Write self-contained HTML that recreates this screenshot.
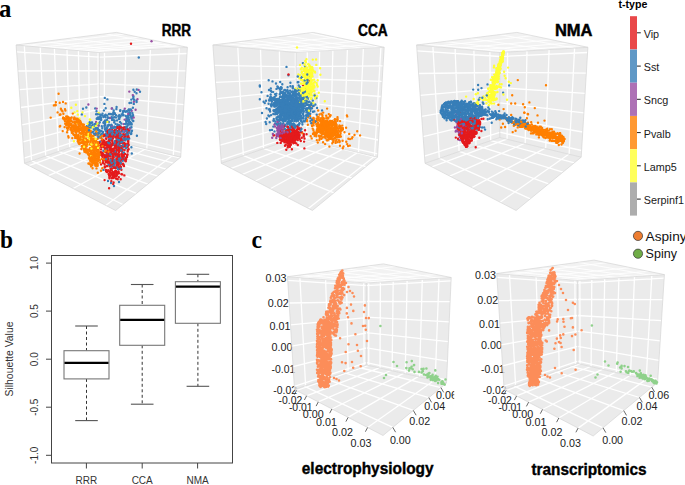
<!DOCTYPE html>
<html><head><meta charset="utf-8"><style>
html,body{margin:0;padding:0;background:#fff;width:685px;height:485px;overflow:hidden}
svg{display:block}
</style></head><body>
<svg width="685" height="485" viewBox="0 0 685 485">
<rect width="685" height="485" fill="#fff"/>
<polygon points="16.1,45 116.4,32.4 187.4,47.3 99.3,52.5" fill="#f2f2f2" stroke="none" stroke-width="0"/>
<polygon points="16.1,45 99.3,52.5 99.3,137.5 24.5,163.3" fill="#ebebeb" stroke="none" stroke-width="0"/>
<polygon points="99.3,52.5 187.4,47.3 180.7,157.2 99.3,137.5" fill="#ebebeb" stroke="none" stroke-width="0"/>
<polygon points="24.5,163.3 99.3,137.5 180.7,157.2 115.6,210.5" fill="#ebebeb" stroke="none" stroke-width="0"/>
<path d="M24.3 45.7L31.6 160.8M40.2 47.2L45.7 156M54.4 48.4L58.3 151.6M67 49.6L69.7 147.7M78.4 50.6L80.1 144.1M88.7 51.5L89.5 140.9M98.1 52.4L98.2 137.9M31.8 160.8L122.9 204.5M46 155.9L136.4 193.4M58.7 151.5L147.9 184.1M70.1 147.6L157.6 176.1M80.4 144L166 169.2M89.7 140.8L173.4 163.2M98.2 137.9L179.9 157.9M104.5 52.2L104.2 138.7M29 165.6L104 138.6M125.7 50.9L124 143.5M48.5 175.7L123.3 143.3M150.4 49.5L146.8 149M73.2 188.5L145.9 148.8M179.3 47.8L173.3 155.4M105.7 205.4L173 155.3M16.6 51.8L99.3 57.2M99.3 57.2L187 53.5M17.9 71L99.3 70.7M99.3 70.5L186 70.9M19.3 89.6L99.3 83.9M99.3 83.6L184.9 88M20.5 107.5L99.3 96.8M99.3 96.5L183.9 104.6M21.8 124.9L99.3 109.4M99.3 109.1L182.9 120.9M23 141.8L99.3 121.7M99.3 121.5L181.9 136.8M24.1 158.2L99.3 133.7M99.3 133.6L181 152.3" stroke="#ffffff" stroke-width="1.3" fill="none"/>
<path d="M24.2 45.7L124.3 34.1M40.1 47.2L139.1 37.2M54.3 48.4L151.6 39.8M66.9 49.6L162.2 42M78.4 50.6L171.4 43.9M88.7 51.5L179.4 45.6M98.1 52.4L186.5 47.1M21.2 44.4L104.4 52.2M43 41.6L125.5 51M70.3 38.2L150.1 49.5M105.7 33.7L179.2 47.8" stroke="#ffffff" stroke-width="0.9" fill="none"/>
<path d="M16.1 45L99.3 52.5M99.3 52.5L187.4 47.3M99.3 52.5L99.3 137.5M16.1 45L24.5 163.3M187.4 47.3L180.7 157.2M24.5 163.3L99.3 137.5M99.3 137.5L180.7 157.2M16.1 45L116.4 32.4M116.4 32.4L187.4 47.3M24.5 163.3L115.6 210.5M115.6 210.5L180.7 157.2" stroke="#d6d6d6" stroke-width="0.7" fill="none"/>
<polygon points="212.9,45 313.2,32.4 384.2,47.3 296.1,52.5" fill="#f2f2f2" stroke="none" stroke-width="0"/>
<polygon points="212.9,45 296.1,52.5 296.1,137.5 221.3,163.3" fill="#ebebeb" stroke="none" stroke-width="0"/>
<polygon points="296.1,52.5 384.2,47.3 377.5,157.2 296.1,137.5" fill="#ebebeb" stroke="none" stroke-width="0"/>
<polygon points="221.3,163.3 296.1,137.5 377.5,157.2 312.4,210.5" fill="#ebebeb" stroke="none" stroke-width="0"/>
<path d="M237.8 47.2L243.3 155.7M260.5 49.3L263.5 148.7M279.4 51L280.7 142.8M295.4 52.4L295.5 137.7M243.6 155.6L333.9 192.9M263.9 148.6L351.9 178.2M280.9 142.7L365.8 166.7M295.5 137.7L377 157.6M307.3 51.8L306.7 140.1M231.2 168.4L306.2 140M319.6 51.1L318.1 142.8M242.5 174.3L317.4 142.6M332.9 50.3L330.5 145.8M255.4 181L329.6 145.6M347.4 49.5L343.9 149.1M270.3 188.7L343 148.9M363.4 48.5L358.5 152.6M287.7 197.7L357.8 152.4M380.9 47.5L374.5 156.5M308.3 208.4L374.3 156.4M214.4 65.4L296.1 66.8M296.1 66.6L383.1 65.9M215.6 82.3L296.1 78.8M296.1 78.5L382.1 81.3M216.7 98.7L296.1 90.5M296.1 90.2L381.2 96.5M217.8 114.7L296.1 101.9M296.1 101.6L380.3 111.3M218.9 130.2L296.1 113.2M296.1 112.9L379.4 125.8M220 145.2L296.1 124.2M296.1 124L378.5 140M221.1 159.9L296.1 135M296.1 134.9L377.7 153.9" stroke="#ffffff" stroke-width="1.3" fill="none"/>
<path d="M237.8 47.2L336.7 37.3M260.4 49.3L356.3 41.4M279.3 51L371.5 44.6M295.4 52.4L383.7 47.2M224 43.6L307.2 51.8M236.6 42L319.4 51.1M251 40.2L332.7 50.3M267.4 38.1L347.2 49.5M286.5 35.8L363.2 48.5M308.8 33L380.8 47.5" stroke="#ffffff" stroke-width="0.9" fill="none"/>
<path d="M212.9 45L296.1 52.5M296.1 52.5L384.2 47.3M296.1 52.5L296.1 137.5M212.9 45L221.3 163.3M384.2 47.3L377.5 157.2M221.3 163.3L296.1 137.5M296.1 137.5L377.5 157.2M212.9 45L313.2 32.4M313.2 32.4L384.2 47.3M221.3 163.3L312.4 210.5M312.4 210.5L377.5 157.2" stroke="#d6d6d6" stroke-width="0.7" fill="none"/>
<polygon points="416.6,45 516.9,32.4 587.9,47.3 499.8,52.5" fill="#f2f2f2" stroke="none" stroke-width="0"/>
<polygon points="416.6,45 499.8,52.5 499.8,137.5 425,163.3" fill="#ebebeb" stroke="none" stroke-width="0"/>
<polygon points="499.8,52.5 587.9,47.3 581.2,157.2 499.8,137.5" fill="#ebebeb" stroke="none" stroke-width="0"/>
<polygon points="425,163.3 499.8,137.5 581.2,157.2 516.1,210.5" fill="#ebebeb" stroke="none" stroke-width="0"/>
<path d="M432.9 46.5L439.3 158.4M455.1 48.5L459.1 151.5M473.9 50.2L476 145.7M489.9 51.6L490.7 140.6M439.5 158.3L530.4 198.8M459.4 151.4L548.6 183.9M476.3 145.6L562.9 172.2M490.8 140.6L574.4 162.8M507.6 52L507.1 139.3M431.8 166.8L506.8 139.2M527 50.9L525.2 143.7M449.7 176.1L524.4 143.5M549.1 49.6L545.7 148.6M471.9 187.6L544.8 148.4M574.6 48.1L569.1 154.3M500.1 202.2L568.7 154.2M417 50.8L499.8 56.5M499.8 56.5L587.6 52.5M418.6 73.5L499.8 72.5M499.8 72.3L586.3 73.2M420.2 95.4L499.8 88.1M499.8 87.7L585.1 93.4M421.7 116.4L499.8 103.2M499.8 102.9L583.9 112.9M423.1 136.7L499.8 117.9M499.8 117.7L582.7 132M424.5 156.2L499.8 132.3M499.8 132.2L581.6 150.5" stroke="#ffffff" stroke-width="1.3" fill="none"/>
<path d="M432.9 46.5L532.5 35.7M455.1 48.5L552.3 39.8M473.8 50.2L567.9 43.1M489.9 51.6L580.5 45.7M424.3 44L507.5 52M444.2 41.5L526.8 50.9M468.8 38.4L548.9 49.6M499.6 34.6L574.5 48.1" stroke="#ffffff" stroke-width="0.9" fill="none"/>
<path d="M416.6 45L499.8 52.5M499.8 52.5L587.9 47.3M499.8 52.5L499.8 137.5M416.6 45L425 163.3M587.9 47.3L581.2 157.2M425 163.3L499.8 137.5M499.8 137.5L581.2 157.2M416.6 45L516.9 32.4M516.9 32.4L587.9 47.3M425 163.3L516.1 210.5M516.1 210.5L581.2 157.2" stroke="#d6d6d6" stroke-width="0.7" fill="none"/>
<path d="M67.1 122.5h0M92.8 154.3h0M71.8 128.1h0M72.3 130.4h0M97 158.6h0M90.3 136.7h0M78.7 138.5h0M64.6 127.1h0M71.4 128.2h0M79.1 121.8h0M92.8 162.7h0M96.5 147.7h0M88.3 153.3h0M84.9 146.9h0M73.5 126.8h0M66.4 124.3h0M93.8 150.9h0M82.3 140.2h0M58.6 93.7h0M96 145.1h0M79.8 139.7h0M91.4 157.7h0M75.6 127.9h0M84.3 149.1h0M91.1 144.5h0M82.9 131.6h0M85.3 145.8h0M92.1 161.1h0M87.8 141.5h0M84.1 135.5h0M90.2 130.5h0M73.8 119.3h0M70.9 128h0M84.1 127.7h0M87.9 134.8h0M77.5 131.4h0M83.5 140.7h0M75.9 129h0M100.2 152.1h0M67.5 120.8h0M85.3 147.9h0M67 122.9h0M77.8 137.3h0M83.6 129.5h0M90.1 148h0M82.4 130.8h0M96.2 149.9h0M95.8 144.6h0M87 142.5h0M101 170.8h0M68.7 117.5h0M96 163.1h0M91.1 160.7h0M84.4 151.8h0M93.7 148.2h0M75.2 137.9h0M87.1 134.3h0M95.3 163h0M65 121.3h0M90.5 153.9h0" stroke="#ff7f00" stroke-width="2.4" stroke-linecap="round"/>
<path d="M116.1 146.5h0M117.8 161.2h0M122.8 155h0M112.4 161.9h0M117.2 156.3h0M104 159.5h0M121.4 131.4h0M119.5 157h0M116.1 130.7h0M128.7 144.9h0M112 129.7h0M119.4 156.1h0M103.8 154.8h0M110.5 168.8h0M112.4 175.1h0M116.2 136.1h0M113.1 178.1h0M114.8 151.8h0M118 146.2h0M123.8 143h0M123.4 156.6h0M108.8 132.8h0M109.3 143.8h0M118.3 165.3h0M112.4 159.6h0M115 133h0M106.3 148.8h0M107.1 165.9h0M106.3 148.7h0M112.3 156.6h0M118.9 144.5h0M121.9 149.5h0M127.3 135.6h0M122.3 153.4h0M119.3 168.9h0M101.1 155h0M118.9 154.1h0M121.3 174.1h0M126.8 133.5h0M110.3 146.2h0M119.6 137.6h0M107.9 130.4h0M107.2 153.1h0M104.8 148.2h0M112.2 130.6h0M111.7 149.9h0M111.1 131.8h0M103.7 136.2h0M127.5 137.9h0M128 129.7h0" stroke="#e41a1c" stroke-width="2.4" stroke-linecap="round"/>
<path d="M116 145.8h0M101 117.6h0M119.2 132.5h0M107.1 148.9h0M111.5 125.8h0M123.5 164.4h0M102.5 113.6h0M136.8 89.5h0M108.7 124.8h0M105.1 120.5h0M97.4 135.4h0M97.9 133.3h0M128.5 109.9h0M117 155.7h0M107.4 126.1h0M112 139.9h0M113.8 152.1h0M113.1 131.7h0M123.3 154.7h0M119.1 134.4h0M113.8 154.3h0M116.7 140.6h0M118.2 160h0M125.6 134.9h0M101.8 126.2h0M112.1 118.7h0M126.5 118.8h0M104.8 97.9h0M127.3 119.7h0M113.7 154.5h0M114.1 151.8h0M100.6 117h0M112.7 114.4h0M112.6 138.2h0M109.7 134h0M100.9 115.1h0M104.4 125.6h0M99.8 132h0M108 181h0M125.5 129.4h0M127 147.6h0M98.9 125.6h0M109.7 124.9h0M101.4 134.3h0M116.1 117.4h0M128.1 129.9h0M136.4 100.4h0" stroke="#377eb8" stroke-width="2.4" stroke-linecap="round"/>
<path d="M114.6 143.5h0M107.5 150.8h0M116.6 178.6h0M104.5 159.2h0M127.1 130.8h0M116.9 139.8h0M116.3 167.9h0M116 140.7h0M113.6 157.3h0M113.1 149.7h0M111.5 160.8h0M115.8 129.8h0M120.9 146.3h0M111.3 144.7h0M119.4 150.8h0M109.1 188.3h0M126.9 129.5h0M127.5 154.5h0M109.1 151.1h0M126.8 135h0M116.4 159h0M116.6 174.4h0M119.4 168.8h0M122.2 174.4h0M104.3 145.3h0M115.4 171h0M106 152.2h0M111.5 144.4h0M107.8 156.4h0M120 135.7h0M108.2 147h0M118.5 146.9h0M120.8 149.3h0M123 155.4h0M110.2 142.9h0M121.9 151.5h0M116.5 160.1h0M119.4 155.2h0M105 148.7h0M120.2 161.1h0M109.8 132.2h0M119.3 136.8h0M118.4 140.4h0M115.9 151.8h0M120.7 162.4h0M126.9 131.2h0M123.5 134.6h0M124.4 175.4h0M124.3 135.5h0M102.1 152.7h0M108.7 146.4h0" stroke="#e41a1c" stroke-width="2.4" stroke-linecap="round"/>
<path d="M90.3 135.9h0M93.5 136.9h0M102.4 144.7h0M92.4 137.7h0M80.9 134.4h0" stroke="#ffff33" stroke-width="2.4" stroke-linecap="round"/>
<path d="M88.4 104.5h0M133.9 101.7h0M98.3 125.5h0" stroke="#984ea3" stroke-width="2.4" stroke-linecap="round"/>
<path d="M117.9 134h0M119.9 148.1h0M91.3 122.8h0M116.4 109h0M100.1 116.6h0M129.2 119.7h0M116.3 133.5h0M111.2 162.9h0M109 114h0M121.4 137.1h0M99.8 116.7h0M106.3 121.6h0M113 134.3h0M95.2 108.4h0M96.9 133.8h0M119.1 136.7h0M129.7 114.5h0M118.8 131h0M121.3 123.5h0M126.2 157.5h0M126.9 118h0M118.9 118.5h0M127.2 124.1h0M105.6 117.2h0M133.3 121h0M89.4 131.4h0M111.6 117.1h0M130.6 127.7h0M112.6 158.1h0M98.8 155.7h0M125.4 111.8h0M131.3 133.8h0M94.8 134.6h0M114.2 122.4h0M131.5 127.3h0M101.3 137.9h0M111.5 134.7h0M127.8 144.2h0M128.2 138.1h0M123.2 111.2h0M129.1 112.9h0M131.3 132.9h0M119.2 128.4h0M126.9 111.3h0M121.4 138.6h0M126.2 126.8h0" stroke="#377eb8" stroke-width="2.4" stroke-linecap="round"/>
<path d="M119.8 160.4h0M115.2 150.4h0M117.1 145.9h0M119.5 137.1h0M106.4 160.9h0M103 140h0M109.5 142.5h0M125.7 143.8h0M122.3 142.3h0M118.1 164h0M113.1 155.5h0M121.7 140.7h0M105.4 166.8h0M107 154.5h0M119.2 129.4h0M104.6 164.2h0M119.9 142.2h0M110.1 148h0M107 170.9h0M110.6 163.1h0M116.7 159.4h0M119.2 142.4h0M111.3 151.1h0M126.2 159.1h0M127.7 151.6h0M123.8 156.2h0M114.6 173.2h0M121.7 139.3h0M128 136.1h0M108.4 153.7h0M109.8 154.6h0M116.3 152.8h0M128.3 140.8h0M120.8 139.2h0M109.5 178.2h0M107.5 143.8h0M107.3 135.9h0M104.9 143.6h0M114.7 172.8h0M119.1 167.8h0M108.2 170.5h0M120.5 128.2h0M116.4 162.1h0M104.9 145.4h0M117.1 135.1h0M110.1 172.7h0M104.7 167.6h0M128.3 143h0M125.6 160.7h0M103.2 160.2h0" stroke="#e41a1c" stroke-width="2.4" stroke-linecap="round"/>
<path d="M83.3 140.8h0M86.6 140.9h0M70.2 118.6h0M95.1 148.5h0M80.2 121.2h0M78.5 137.5h0M92.9 136.1h0M99.2 137.5h0M97.9 161.6h0M90.5 157.5h0M75.4 130.4h0M99.2 155h0M97.7 158.7h0M97.1 165h0M95.2 164.7h0M91.7 160.3h0M55.4 104.8h0M89.7 149.4h0M96.3 143.7h0M78.6 142.9h0M86 145.4h0M91.2 149.3h0M85.9 152.1h0M92.5 160.1h0M80.8 139.7h0M79.7 125.7h0M95.8 153.9h0M93.4 139.3h0M90.1 144.5h0M73.3 125.8h0M78.7 136.1h0M91.3 165.4h0M63 101.9h0M66.5 119.4h0M83.5 134.5h0M85.6 135.2h0M91.3 152.1h0M98.2 149.5h0M95.9 141h0M96.8 164.6h0M94 148h0M89.4 155.9h0M90.7 137.3h0M82.7 140.2h0M84.5 135.1h0M75.2 135.7h0M81 140.3h0M87.7 141.6h0M96.9 156.6h0M98.8 154.8h0M92.3 147.2h0M91 134.5h0M87.9 128.5h0M92.9 157.2h0M90.6 158.4h0M94 141h0M77.4 130.2h0M89.3 155.7h0M77.9 129.7h0" stroke="#ff7f00" stroke-width="2.4" stroke-linecap="round"/>
<path d="M123.6 124.1h0M135.6 109.7h0M110 118h0" stroke="#984ea3" stroke-width="2.4" stroke-linecap="round"/>
<path d="M123.9 152.4h0M98.4 136.7h0M114.7 120.8h0M103.8 123h0M116.3 153h0M132.9 107.8h0M129.1 110.6h0M136.9 135.7h0M105.1 125h0M117.5 125.1h0M102.3 128.3h0M92.2 122.5h0M136.5 93.2h0M129.6 122.3h0M107.4 135.2h0M120.2 133.9h0M119.2 125.2h0M136.6 102h0M93.9 133.6h0M126.4 122.9h0M127.7 116h0M103.6 142.3h0M119.2 144.5h0M111.1 127.8h0M120.4 149.4h0M120.2 111h0M128.8 124.6h0M128.1 117.3h0M110.5 144.4h0M117.5 124.5h0M88.3 127.3h0M88.2 127.3h0M118.1 169.3h0M134.1 99.7h0M98.9 130.3h0M117.3 140.6h0M91.9 126.1h0M106.3 128h0M93.1 131.6h0M115.2 127.2h0M119.2 115.3h0M120.8 126.5h0M124.3 110.4h0M99.6 119h0M129.9 128.1h0M123.3 152.6h0" stroke="#377eb8" stroke-width="2.4" stroke-linecap="round"/>
<path d="M88.9 130.4h0M106.6 121.2h0M127.7 132.5h0M117.9 125.4h0M109.8 134.7h0M127.2 132.9h0M91.9 132.3h0M119.2 134.6h0M106.6 159.1h0M129.2 138.4h0M133.8 103.9h0M103.9 110.4h0M120 122h0M119 182h0M131.4 147.3h0M133.1 115.1h0M113.1 114.6h0M83 108.8h0M106.3 155h0M114.7 117.3h0M107.4 99.4h0M118.5 131h0M112.1 119.9h0M106.2 130.3h0M121.6 114.5h0M109.6 134.8h0M110.7 126.1h0M94.7 126.3h0M107.5 121.6h0M98.7 123.5h0M113.3 117.4h0M90.2 132.6h0M122.8 112.7h0M110.3 140.5h0M99.6 130.5h0M133.2 98.6h0M101.5 131h0M111.1 154.5h0M130.9 134h0M113.4 114.2h0M120.8 158.2h0M120.6 163.6h0M121.6 148.9h0M105 129.2h0M96.7 118.8h0M124.9 127.3h0M118.7 133.2h0" stroke="#377eb8" stroke-width="2.4" stroke-linecap="round"/>
<path d="M71.9 132.7h0M83.7 132.1h0M68.2 124.8h0M65.4 110.5h0M95 152.3h0M93.3 159.8h0M63 118.3h0M60.5 114.5h0M75.8 123.8h0M92.5 155.2h0M96.1 153.7h0M88.1 141h0M98 156.7h0M92.8 148.2h0M90.3 142.9h0M100.8 145.7h0M93 161h0M69.8 123.4h0M93.1 142.9h0M94.3 155h0M68.6 126.7h0M94.5 139.6h0M74.5 129h0M91.5 165.1h0M84.6 139.2h0M79.4 144h0M84.7 130.6h0M75.8 118.9h0M74.4 121.7h0M75.5 124.6h0M96.5 162.5h0M74.4 126h0M77.5 118.8h0M74.4 117.5h0M83.9 142.2h0M98.8 148h0M106.6 159.7h0M82.8 132.9h0M102.3 168.3h0M93.2 139.4h0M86.6 150h0M91.1 166.4h0M96.9 164.3h0M85.9 151h0M72 132.7h0M93.3 145.6h0M65.2 123.8h0M68.6 137.5h0M81.9 130.1h0M62.7 131.1h0M97.8 172.7h0M61.6 110.2h0M89.9 137.4h0M82.2 129.3h0M73.4 131.4h0M80.8 124.5h0M78.9 130.8h0M89.6 132.4h0M94.1 159.5h0M64.5 118.1h0" stroke="#ff7f00" stroke-width="2.4" stroke-linecap="round"/>
<path d="M93.1 156.8h0M95.5 154.3h0M97 143.5h0M101.1 143.7h0M88.1 134.4h0M92 160.6h0M88.5 140.7h0M96.9 151.2h0M104.5 151.7h0M83.4 138.2h0M95.4 145.8h0M95.9 146.1h0M96.4 144.3h0M93.4 160.8h0M103.5 140.7h0M96.3 165h0M97.2 164.3h0M76.2 133.1h0M96.5 165.6h0M82.8 124.7h0M97 155h0M95.4 158.3h0M94 138.7h0M94.7 156h0M78.6 131h0M71.7 125.6h0M98.3 155.8h0M72.3 138.1h0M91.8 156.1h0M99.8 153.4h0M98.7 150.5h0M93.3 159.9h0M89.3 140.5h0M80.7 142.9h0M93.8 154h0M93.4 140.8h0M68.3 136.1h0M92.1 136.2h0M75.9 132.1h0M94 163.3h0M97.8 147.1h0M82.2 142.2h0M96 148.1h0M92.3 162.8h0M94.7 152.9h0M84.3 144.2h0M95.4 145h0M92 158.3h0M86.8 143.2h0M94.4 158.5h0M89.5 151h0M94.5 162.4h0M68.5 128.3h0M98.2 134.6h0M77.4 138.4h0M77.4 121.2h0M95.3 134.9h0M94.4 158.8h0M90.8 131.3h0" stroke="#ff7f00" stroke-width="2.4" stroke-linecap="round"/>
<path d="M85 130.7h0M96.3 124.8h0M85 129.5h0M89.9 125.9h0M89.8 119.4h0" stroke="#ffff33" stroke-width="2.4" stroke-linecap="round"/>
<path d="M119.9 126.6h0M111.9 126h0M125.1 137.8h0" stroke="#984ea3" stroke-width="2.4" stroke-linecap="round"/>
<path d="M105.5 158h0M122.3 130.3h0M119.7 127.9h0M120.1 131.6h0M122.4 164.2h0M104.7 155.6h0M113.8 131.9h0M101.6 140.5h0M123.2 155.1h0M109.1 156.3h0M95.7 133.5h0M127.1 155.2h0M107 159h0M121.4 169.7h0M110.7 151.6h0M119.8 163h0M111.1 165.8h0M114.1 164.6h0M109 141.3h0M124.4 140.1h0M114.1 172.7h0M122.8 149.7h0M121.6 159.9h0M107.4 158.3h0M115 162.9h0M120.5 136.5h0M118.8 177.2h0M107.7 150.6h0M113 137.1h0M112.3 172.8h0M123.7 143.6h0M120.1 132.8h0M125 145.1h0M116.8 166.3h0M125 154h0M121.8 142.4h0M128.3 135.6h0M98.2 148.6h0M115.5 156.4h0M123.7 156.3h0M103 162.3h0M106.8 144.7h0M120.6 163.2h0M117.2 130.9h0M115.8 170.6h0M114.3 160.5h0M107.4 133.3h0M122.6 155.2h0M103.4 146.9h0M117.6 154.1h0M108 162.8h0" stroke="#e41a1c" stroke-width="2.4" stroke-linecap="round"/>
<path d="M131.7 110.7h0M127 119.7h0M137.5 99.2h0" stroke="#984ea3" stroke-width="2.4" stroke-linecap="round"/>
<path d="M87.4 145.2h0M71.6 127.1h0M76.5 120.3h0M93.9 152.4h0M78.3 126.3h0M69.1 126.8h0M97.6 138.8h0M99.5 153.9h0M92.3 146.9h0M87.3 130.3h0M79.9 120.7h0M96.5 168.4h0M96.8 165.5h0M96.6 154.3h0M92 155.3h0M88 140.2h0M77.6 123.4h0M78.5 124.1h0M91 138.4h0M74 118.5h0M72.3 126.4h0M84.5 142.8h0M82.2 142.8h0M94.3 147.9h0M80.3 121.9h0M95.3 142h0M78 127.5h0M84.9 129.3h0M81.9 145.9h0M69 118.9h0M92.9 141.4h0M95.9 159.5h0M86.9 149.5h0M94.5 155h0M75.9 123.3h0M85.3 138.6h0M95.8 160.6h0M80.4 126.6h0M83.5 125.4h0M95 160.7h0M77.7 141.1h0M74.6 126.5h0M96.6 146.2h0M71.4 124h0M65.7 103.4h0M86.3 152.5h0M79.8 132.6h0M98.3 145.3h0M84.9 129.4h0M109.5 136h0M89.3 134.9h0M78.7 127h0M90.1 159.2h0M68.2 127.5h0M89.6 138h0M72.6 122.1h0M91.1 135.2h0M89 131.7h0M78.2 140.3h0M92.7 159h0" stroke="#ff7f00" stroke-width="2.4" stroke-linecap="round"/>
<path d="M105.7 130.8h0M124.1 135.4h0M92.5 124.6h0M112.5 118.9h0M99.5 113.9h0M100 141.8h0M123.5 115h0M98 117.5h0M108.7 164.7h0M117 135.1h0M103.5 169.9h0M126 129.9h0M116.2 142.4h0M109.4 154.8h0M89 123.6h0M101.1 120h0M120.2 136.1h0M97.9 128.1h0M140 91.7h0M116.1 156.1h0M108.4 153.1h0M125.8 148.2h0M120.6 116.1h0M114.9 113.9h0M127.1 130.1h0M95.2 130.4h0M125.1 124h0M112.5 131.4h0M128.5 120.2h0M96.2 130.9h0M119.8 145.8h0M98.3 133.5h0M111.9 117.7h0M124.3 132.4h0M89.7 124.9h0M93.8 129.3h0M96.5 111.3h0M113.7 110.5h0M128.9 122.9h0M129 131.6h0M117.4 148.5h0M89.7 122.2h0M117 149.8h0M121.7 128.7h0M109.9 161.5h0M95 134.7h0M133.3 95.9h0" stroke="#377eb8" stroke-width="2.4" stroke-linecap="round"/>
<path d="M85.9 142.9h0M74.5 112.4h0M77 122.6h0M105.7 134.6h0M90.3 120h0" stroke="#ffff33" stroke-width="2.4" stroke-linecap="round"/>
<path d="M108.3 146.1h0M127.8 144.1h0M128.2 136.7h0M122 160.4h0M105.7 142.4h0M109.8 155h0M116.9 131.8h0M123.9 127.4h0M115.8 152.3h0M114.4 153.2h0M120.2 139.5h0M101.2 146.7h0M118.2 138.7h0M109.2 155.4h0M118.9 173.2h0M119 150h0M118.5 147.1h0M116.2 162.9h0M116.7 149.9h0M119.6 138.3h0M114.1 167.9h0M111.7 178.3h0M106.1 143h0M117.8 167h0M115.4 175.6h0M108.9 161.1h0M124.6 145.5h0M123 163.7h0M108.6 130.7h0M116.2 143.5h0M123 159.1h0M115.4 136.7h0M102.4 144.7h0M118.6 171.5h0M116.1 178.6h0M106.5 147.5h0M115 172h0M118.5 160.2h0M113.9 173h0M119.4 161.9h0M113.2 184.1h0M107 172h0M106.4 138.7h0M103.1 140.2h0M109.5 171.5h0M117.2 128.1h0M118.8 163.6h0M124.9 139.3h0M107.2 166h0M123.4 129.4h0M128.1 141.3h0" stroke="#e41a1c" stroke-width="2.4" stroke-linecap="round"/>
<path d="M79.5 118.4h0M90.3 128.5h0M88.6 137.2h0M99.6 133.8h0M91 136.9h0" stroke="#ffff33" stroke-width="2.4" stroke-linecap="round"/>
<path d="M108.3 125.3h0M113.8 120.2h0M110 129.3h0M102.7 115.5h0M116.6 137.6h0M133.4 96.9h0M110.1 150.7h0M119.3 118.4h0M106 131.2h0M125.6 115.9h0M129.9 128.4h0M98.1 119h0M119.1 151.5h0M111.9 131h0M132.5 116.7h0M114.2 112.6h0M113.7 144.9h0M120.2 150.1h0M128.4 137.9h0M105.3 129.1h0M108 157.3h0M115.4 129.6h0M116.9 126.7h0M104.4 103.9h0M89.9 123.3h0M133.4 89.8h0M112.1 108.4h0M110.7 161.2h0M102.8 133h0M104.1 121.6h0M97.1 118.5h0M132 130.8h0M96.1 128.1h0M108.2 157.9h0M128.7 117.7h0M107.8 126.4h0M126.9 121.1h0M126.8 139.2h0M100 116.6h0M131.2 102.8h0M97.5 129.7h0M122.6 131.5h0M107.3 158.1h0M98.4 133.2h0M122.8 115.3h0M96.1 123.4h0" stroke="#377eb8" stroke-width="2.4" stroke-linecap="round"/>
<path d="M77.5 137.7h0M88.9 158.2h0M81.1 133.7h0M96.2 150.1h0M85.6 129.8h0M84.8 147.8h0M81.6 128.9h0M83.8 141.1h0M88.7 130.7h0M76.1 135.1h0M72.9 125.7h0M75.4 136.5h0M97.3 144.8h0M68.9 118.1h0M63.2 117.5h0M96.1 162.4h0M66.5 125h0M101.2 154.8h0M86.7 151.8h0M85.2 148.2h0M85.8 135.4h0M74.2 122.6h0M96.3 133.3h0M97.4 146.7h0M103.1 143.4h0M68.9 124.5h0M66.7 118.3h0M95.6 129.2h0M85.5 147h0M80.8 142.7h0M79.5 122.4h0M89.4 139.9h0M93.8 151.4h0M79.8 129.2h0M85.3 127.8h0M89.4 130.7h0M92.7 152.9h0M76.2 137.9h0M71.5 120.9h0M76.6 126.7h0M91.1 149.6h0M64.4 119.5h0M70.4 118.1h0M68.6 121.7h0M90.4 139.5h0M76 127.4h0M88.2 141.1h0M90 159.8h0M85.9 142.6h0M83.8 140.7h0M68.6 118.4h0M55.9 102.3h0M70.2 120.9h0M71.5 130.8h0M94.6 147.6h0M100.2 162.5h0M79.9 123.3h0M97.7 165.8h0M108.5 160.8h0" stroke="#ff7f00" stroke-width="2.4" stroke-linecap="round"/>
<path d="M133.7 117.5h0M120.2 132.2h0M105.5 136h0" stroke="#984ea3" stroke-width="2.4" stroke-linecap="round"/>
<path d="M73.7 134.8h0M70.6 119.1h0M69 125h0M88.1 136.3h0M95.5 165.7h0M91.4 159.6h0M76.1 137.7h0M75.5 131.7h0M77.4 138.3h0M78.5 135h0M87.8 152h0M86.5 127.4h0M74.1 129.3h0M62.5 111.3h0M92.4 163.7h0M97.1 153.5h0M75.8 121.8h0M77.3 121.9h0M88.4 128.6h0M87.7 132.2h0M96.5 144.4h0M82.5 125.5h0M98.2 158.5h0M55.7 105.2h0M67.6 116.8h0M87.7 142.4h0M93.4 152.8h0M94.5 146.8h0M81.9 146.5h0M106.6 158.3h0M99.8 145.4h0M103 140.4h0M80.6 137.5h0M97 153.8h0M88.5 149.7h0M75.3 130.7h0M70 121.4h0M60.2 125.9h0M91.6 138.6h0M63.2 118.2h0M97.7 142.1h0M97 144h0M88.9 132.8h0M74.8 123h0M85.7 134h0M65 109.1h0M84.4 144.3h0M70 119.8h0M78.2 137.9h0M83.7 148.1h0M97.6 151.7h0M91.2 151.8h0M81.4 149h0M82.8 129.1h0M82.8 146.1h0M66.2 116.5h0M102.2 139.3h0M92.9 148.8h0M91.4 151.7h0M59.8 126.5h0" stroke="#ff7f00" stroke-width="2.4" stroke-linecap="round"/>
<path d="M124.6 119.6h0M124.8 108.6h0M131.8 118h0" stroke="#984ea3" stroke-width="2.4" stroke-linecap="round"/>
<path d="M117.7 161.3h0M111.5 165.7h0M130.6 124.4h0M111.5 153.9h0M105.7 108.3h0M132.7 115.7h0M107.1 120.8h0M120.6 150.3h0M118.8 135.6h0M131.4 131h0M128.5 120.8h0M98.9 133.6h0M94.6 124.5h0M125.9 127.4h0M115.4 146.2h0M108.5 134.6h0M112.3 161.6h0M116.2 131.2h0M129.3 110.6h0M91.9 127.3h0M108.6 134.8h0M104.6 126.8h0M123.4 147.2h0M126.5 128.1h0M108.4 117.8h0M114.9 141.1h0M115.3 151.4h0M113.5 159.2h0M123.7 157.9h0M109.2 131.9h0M128.9 109.5h0M114.3 126.6h0M127.4 126.3h0M124.2 110.9h0M127.9 132.5h0M114 186h0M104.4 116.2h0M134.7 91.8h0M128.5 124.3h0M105.4 135.7h0M118.9 142h0M111.6 128.3h0M105.1 124.4h0M113.3 137.3h0M103.4 150.8h0M116.7 167.4h0M106.1 122.1h0" stroke="#377eb8" stroke-width="2.4" stroke-linecap="round"/>
<path d="M108.4 159.2h0M120.9 140.1h0M109.6 130.5h0M111.3 181.1h0M125.2 130.1h0M108.4 143.9h0M115.2 154.8h0M110.1 155.9h0M125.4 160.6h0M128.6 137.4h0M107.2 145h0M121.2 141.6h0M110.2 148.1h0M106 170h0M109.3 150.6h0M111.9 145.3h0M112.9 138.5h0M114.6 134.5h0M113.7 135.7h0M108.8 145.3h0M112.6 153.9h0M116.8 134.4h0M113.6 182.5h0M119.8 160.8h0M118.2 173.3h0M122.4 157.6h0M118.8 148.2h0M112.9 172h0M102.8 153.4h0M118.2 163.5h0M116.5 175.9h0M105.7 162.1h0M119 152.1h0M106.3 155.5h0M111.7 136.3h0M116.8 138.7h0M118.8 135.9h0M116.4 154.6h0M120.6 134.2h0M124 138.2h0M118.1 133.6h0M112.2 160.7h0M108.3 136.9h0M121.7 140.3h0M101.5 147.3h0M121.6 154.1h0M108.6 173.9h0M111.8 170.4h0M111.2 146.6h0M110.6 170.3h0" stroke="#e41a1c" stroke-width="2.4" stroke-linecap="round"/>
<path d="M108.8 162.1h0M108.7 153.6h0M112.3 141h0M114.8 130.1h0M108.9 152.6h0M112.7 151.5h0M114.2 176.2h0M120.5 167.2h0M123.6 165.3h0M110.2 132.3h0M110.2 154.5h0M122.7 156.5h0M118.8 158.8h0M125.7 161.3h0M114.6 174.4h0M119.5 150.6h0M109.8 149.1h0M103.5 140.7h0M109.2 175.6h0M104.3 142.1h0M116.2 143.7h0M109.6 175.1h0M128.7 149.2h0M111.3 135h0M121.7 156.1h0M109.5 148.9h0M111.3 144.7h0M107.4 171.8h0M112.9 176.9h0M100.9 145.1h0M109.1 130.9h0M118.4 162h0M110.7 158.5h0M118.3 155.8h0M110.7 172.4h0M113.5 150.9h0M116.5 165.1h0M114 148.8h0M99.4 142.7h0M116 136.1h0M125.6 129.6h0M113.6 161.4h0M111.4 149.1h0M104.4 140.9h0M117.5 127.3h0M118.4 150.5h0M117.1 134.4h0M110.9 139.4h0M124.9 136.6h0M101.1 164.4h0M115.9 132.5h0" stroke="#e41a1c" stroke-width="2.4" stroke-linecap="round"/>
<path d="M103.4 159.8h0M124.7 146.2h0M128.3 133.3h0M111.2 133.4h0M106.1 157.6h0M113.4 166.1h0M105.2 144.7h0M115.2 154h0M107.9 142.1h0M119.8 163.5h0M115.5 176.2h0M117 142.6h0M104.8 166.8h0M113.3 175h0M106.3 134.3h0M107.8 147.3h0M116.7 146h0M111.9 148.8h0M109.7 166.4h0M121.4 143.1h0M115.4 167.7h0M101 149.4h0M104.4 135.3h0M113.2 157.7h0M108.7 152.6h0M111.8 149.7h0M112.1 164.7h0M116.8 163.9h0M113.3 177.9h0M125.6 128.1h0M121.9 127.6h0M111.2 137.9h0M112.9 143.6h0M114.8 147.7h0M129 130.3h0M103.1 162.9h0M119.1 140.6h0M117.9 134.4h0M112.7 159.1h0M120.5 138.2h0M108.4 146.3h0M107.4 131.7h0M118.6 144.3h0M121.5 154.1h0M124 166h0M102.6 142.5h0M107.7 156.5h0M119.6 143.6h0M123.7 159.4h0M109.5 177.2h0" stroke="#e41a1c" stroke-width="2.4" stroke-linecap="round"/>
<path d="M96.1 121.9h0M111.7 108.5h0M129.3 91.6h0" stroke="#984ea3" stroke-width="2.4" stroke-linecap="round"/>
<path d="M77.3 111.1h0M91.2 156.1h0M87.7 123.7h0M88.3 134.2h0M88.8 134h0" stroke="#ffff33" stroke-width="2.4" stroke-linecap="round"/>
<path d="M96.1 131.6h0M87.8 136.2h0M89.6 139.4h0M98.5 113h0M77.8 114.5h0" stroke="#ffff33" stroke-width="2.4" stroke-linecap="round"/>
<path d="M83.8 135.7h0M71.3 107.7h0M87.7 144.7h0M85.5 139.8h0M91.2 143.6h0" stroke="#ffff33" stroke-width="2.4" stroke-linecap="round"/>
<path d="M109.1 138.9h0M131.3 99.6h0M116.6 107h0M96.6 128h0M112.1 134.5h0M110 114h0M121.3 150.2h0M99.2 130.1h0M129.5 103h0M101.1 134.8h0M111.5 124.8h0M107.1 135.5h0M105 122.9h0M98.5 137.4h0M86.3 107.5h0M112.3 166.2h0M130.5 112.7h0M105.8 133.7h0M115.6 123.9h0M86.8 126.2h0M119.2 118.9h0M95.7 133.2h0M103 132h0M103.4 122.5h0M109.1 131.2h0M128 134.3h0M117.3 139.5h0M127.9 133.8h0M116.2 131.8h0M116 133.1h0M103.4 117.1h0M128.5 139h0M120.3 110.3h0M109.3 133h0M121 149.3h0M109.3 164.7h0M101.5 135.5h0M131.7 124.4h0M108.8 121.9h0M96.1 114.2h0M114.3 162.1h0M118.3 144h0M110.9 138.5h0M131.5 118.5h0M99.8 122.2h0M99.5 131.3h0" stroke="#377eb8" stroke-width="2.4" stroke-linecap="round"/>
<path d="M127.8 146.7h0M111.2 153.6h0M116.8 171.9h0M111.4 174h0M120.9 167h0M122.6 140.1h0M117.2 135.8h0M116.8 174.9h0M104.6 180.1h0M110.5 175.8h0M114.8 145.7h0M117 172.5h0M119.7 126.6h0M125.2 134.4h0M123.6 145.4h0M101.8 154h0M125.8 158h0M106.5 162.3h0M109.6 134.7h0M117.7 161.9h0M127 157h0M109.8 136.6h0M118.2 137.2h0M116.1 148.1h0M109.2 175.2h0M118.2 161.6h0M127.7 150.3h0M124.3 144h0M125.5 159.3h0M114.9 147.7h0M104.2 134.8h0M123.9 138.6h0M105.9 157.5h0M107.4 146.6h0M106 151.3h0M106.5 171.2h0M116.5 147h0M107.5 161.2h0M119.2 149.6h0M106.1 171.3h0M116 175.9h0M112.5 142.2h0M106.5 156.1h0M100.9 152.2h0M116.5 141.2h0M117.8 145.9h0M121.3 140.1h0M110.4 150.3h0M117.5 157.5h0M105 155.7h0M107.2 141.8h0" stroke="#e41a1c" stroke-width="2.4" stroke-linecap="round"/>
<path d="M113.3 112.4h0M119.9 136.5h0M100.8 119.5h0M113 127.8h0M125.7 138.5h0M111 183h0M111.3 114.3h0M108.2 142.5h0M130.9 109.5h0M116 115.1h0M110.4 153.3h0M101.1 119.3h0M131.8 153.5h0M127.6 118.6h0M118.3 116.2h0M99.5 136.5h0M120.2 116.7h0M126.4 138.7h0M111.2 166.7h0M132.5 120.4h0M129.9 109.7h0M112.3 133.7h0M113.7 127.9h0M130.4 123.3h0M119.5 132h0M121.2 142.3h0M126.4 128h0M127 128.6h0M126.6 121.5h0M113.5 112.5h0M107.9 117.6h0M130 122h0M107.2 115.5h0M117.5 145.4h0M90.1 127.4h0M97.8 114.3h0M130.1 127.8h0M114.7 142.8h0M101.3 136.4h0M120 146.5h0M92.5 126.5h0M107.2 128.2h0M105 115.5h0M120.8 146.4h0M107 119.8h0M126.5 116.6h0" stroke="#377eb8" stroke-width="2.4" stroke-linecap="round"/>
<path d="M128.2 113.9h0M118.1 133.3h0M126.6 130.9h0" stroke="#984ea3" stroke-width="2.4" stroke-linecap="round"/>
<path d="M86.2 151.5h0M97.9 142.2h0M63.4 113.7h0M81.3 127.5h0M74.7 135.3h0M89.8 150.5h0M76 126.3h0M82.1 127.8h0M64.5 119.4h0M93.4 147.6h0M86.7 131.6h0M81 123h0M80.1 138.6h0M95.3 149.2h0M84.3 132.4h0M83.5 143.1h0M76.1 118.8h0M92.3 150.3h0M84.8 149.7h0M82.4 124.4h0M70.4 120.6h0M96.1 159.9h0M73.3 129.3h0M66.6 122.2h0M108.6 151.8h0M79.5 128.8h0M98 143.9h0M86.1 138.5h0M88.4 163.5h0M84.9 147.7h0M70.6 124.9h0M84.5 145.7h0M59.7 102.7h0M98.7 159.1h0M97.1 155.3h0M91.7 138.7h0M78.4 128.5h0M71.7 117.5h0M50.7 117.6h0M59.7 114.7h0M67.3 116.6h0M93.1 142.2h0M87.2 140.5h0M86.4 128.3h0M74 125.4h0M91.7 149.2h0M92.3 165h0M101.7 158.9h0M85.1 127h0M76.8 128.8h0M90.2 149.4h0M77.4 136.2h0M90.5 153.3h0M67 127.9h0M96.1 140.4h0M99.2 153.9h0M84.1 131h0M94 150.6h0M75.4 118.9h0M72.8 113.6h0" stroke="#ff7f00" stroke-width="2.4" stroke-linecap="round"/>
<path d="M113 174.4h0M114.9 167.1h0M125.9 145.2h0M108.1 170.5h0M116.1 134.3h0M103.3 144.1h0M113.4 166.6h0M102.5 156.7h0M113.6 164.7h0M104.6 157.3h0M117.7 179.2h0M118.6 158.5h0M108.9 140.5h0M117 150.5h0M114.4 177.3h0M121.7 147.9h0M112.7 130.8h0M113.3 163.6h0M115.9 162.9h0M116.3 145.9h0M128.1 132.6h0M118.8 133.8h0M105.7 161.1h0M112.8 176.7h0M127.4 136.5h0M111 152.7h0M106 138.4h0M120.7 139h0M123.2 134.3h0M123.8 143h0M123.2 145.7h0M107.4 161.9h0M102.4 143.5h0M122.3 136.4h0M110.1 136h0M115.5 137.3h0M120.2 166.3h0M119.5 127.2h0M122.5 145.8h0M101.9 155.5h0M124.6 150.1h0M119.4 147.6h0M116.3 172.7h0M114 165.5h0M112 168.6h0M115.7 133.1h0M120.7 179.2h0M127.8 129.4h0M109.6 162.9h0M110.5 165.2h0" stroke="#e41a1c" stroke-width="2.4" stroke-linecap="round"/>
<path d="M92.7 127.2h0M82.5 112.5h0M86.3 135.7h0M75.9 104.8h0M81.7 139.4h0" stroke="#ffff33" stroke-width="2.4" stroke-linecap="round"/>
<path d="M78.5 140.6h0M60.9 108.8h0M98.5 148.3h0M76 135.3h0M98.7 154.5h0M83.9 124.6h0M74.3 119.1h0M84.2 150.1h0M86.6 146.2h0M78.7 120h0M69.6 120.2h0M84 148h0M67.6 129.9h0M82.1 133h0M99.9 160.3h0M78 141.6h0M77.6 119.1h0M76.4 126.9h0M88.6 155h0M90 164.3h0M86.9 127.7h0M85.9 132.9h0M93.7 143.5h0M84.6 128.2h0M79.2 143.6h0M70.4 129.6h0M83.7 134.4h0M68.9 121h0M93.4 148.3h0M95.8 158.8h0M91 136.8h0M91.2 138.1h0M67.1 132.3h0M105.7 150.8h0M80.1 121.2h0M95.2 159.3h0M79.3 142.3h0M77.7 128.4h0M89.1 154.5h0M95.4 148.7h0M87.8 153.7h0M82.9 139.8h0M82.9 136.7h0M85.5 142h0M94.7 152.7h0M87.5 132h0M91.5 154.2h0M85.9 128h0M94.6 154.8h0M102.2 135.7h0M57.6 112.4h0M69.8 121.2h0M87.2 144.3h0M95.4 152.5h0M74.5 127h0M96 156.2h0M77.7 120.1h0M79.7 133h0M71 124.3h0M77.5 135.4h0" stroke="#ff7f00" stroke-width="2.4" stroke-linecap="round"/>
<path d="M111 130.7h0M129.7 128.7h0M124.7 131.2h0" stroke="#984ea3" stroke-width="2.4" stroke-linecap="round"/>
<path d="M132.8 95.1h0M96.7 108.6h0M138.6 89.9h0" stroke="#984ea3" stroke-width="2.4" stroke-linecap="round"/>
<path d="M83 126.9h0M91.6 144.1h0M53.9 105.4h0M83.5 144.3h0M90.8 141.7h0M97.1 155.3h0M68.7 123h0M79.6 153.5h0M73.2 133.7h0M95.7 154.2h0M92.6 168.3h0M80.7 136.4h0M85.1 129.7h0M92.7 154.3h0M77.4 122.5h0M81.7 130.7h0M71 128.9h0M97.6 163.7h0M91.8 157.1h0M95.4 144.8h0M90.4 161.6h0M93.9 153.9h0M86.6 149.9h0M98.7 152.1h0M84.3 144h0M102.4 146.1h0M92.2 162h0M99.1 157.4h0M90.4 149.4h0M80 123.5h0M91 144.7h0M91.2 139.9h0M68.8 124.7h0M95.2 157.8h0M66.4 125.4h0M96.4 131.6h0M89.4 163.7h0M80.9 139.4h0M98.6 155.8h0M83.8 136.9h0M100.6 137.2h0M90.7 157.6h0M85.7 134.6h0M80 129.8h0M90 134.2h0M93.3 135.9h0M73.7 128.7h0M83.4 135.6h0M66.5 119.3h0M86.4 135.1h0M85.5 128.1h0M104 159.4h0M65.6 118.9h0M84.2 127.8h0M95.9 139.9h0M90.1 136h0M97.9 160.7h0M88.4 129.4h0M78.8 139.7h0M88.2 153.7h0" stroke="#ff7f00" stroke-width="2.4" stroke-linecap="round"/>
<path d="M98.1 148h0M91.4 148.6h0M85 116.1h0M107.4 121.9h0M91.4 144.4h0" stroke="#ffff33" stroke-width="2.4" stroke-linecap="round"/>
<path d="M73.9 141.2h0M97.5 123.4h0M95.7 125.9h0M96.3 144.7h0M95.6 139h0M84.1 146.7h0" stroke="#ffff33" stroke-width="2.4" stroke-linecap="round"/>
<path d="M126.3 130.9h0M125.3 140.4h0M132.5 113.2h0M110.5 160h0M131 116.7h0M121.5 135.1h0M131.4 123.3h0M119 139.9h0M109 143.3h0M126.8 145.4h0M120.8 163.1h0M122.4 141.6h0M119.4 161h0M100.7 118.8h0M101.6 133.9h0M112.3 131.3h0M126.1 120.8h0M94.7 124h0M123.2 111.4h0M117.1 120.4h0M89.3 125.1h0M116.7 132.8h0M122.8 160.8h0M105.6 114.8h0M81.8 114.4h0M114.5 160.4h0M114.7 113.4h0M115.3 134.8h0M130.5 115.1h0M126.6 134.8h0M89 130.2h0M128.7 132.9h0M127.2 111.6h0M119.1 158.7h0M106 159.1h0M119.8 134.5h0M128.3 116h0M109.9 131.8h0M95.4 129h0M123.5 138.7h0M115.2 163.1h0M120.6 168.4h0M110.4 154.4h0M114.3 165.2h0M111.6 163h0M123.1 145.2h0" stroke="#377eb8" stroke-width="2.4" stroke-linecap="round"/>
<path d="M131 43.7h0" stroke="#e41a1c" stroke-width="2.4" stroke-linecap="round"/>
<path d="M151.5 41.2h0" stroke="#984ea3" stroke-width="2.4" stroke-linecap="round"/>
<path d="M138.8 57.5h0" stroke="#377eb8" stroke-width="2.4" stroke-linecap="round"/>
<path d="M276.4 101.7h0M282.9 97.6h0M271.1 115.1h0M279.5 110.1h0M294.6 118.9h0M289 104h0M298.6 106.9h0M295.1 114.9h0M293.7 105.1h0M298.1 102.2h0M290.8 113.7h0M278.1 116.9h0M292.7 103.9h0M295.2 109.1h0M286.1 114.8h0M292.3 125.3h0M300.5 112.2h0M269.2 116.3h0M292.4 104.4h0M287.6 104.6h0M289 114.6h0M275 104.9h0M285.2 108.9h0M291.6 105h0M294.6 111.4h0M302.8 114h0M299.8 110h0M289.2 111.3h0M270.1 111.6h0M288.3 98.6h0M282.3 103h0M279.8 94.3h0M286.8 114.1h0M300.4 112.8h0M290.7 97h0M293.3 114.4h0M293.8 127.5h0M280.7 123.3h0M286.2 106.5h0M273.8 119h0M295.7 104.1h0M283.9 107.2h0M297.9 102.3h0M300.5 103.5h0M278.2 87.8h0M285.4 107.7h0M292.1 102.8h0M284.2 109.9h0M293.7 129.3h0M285.7 110.9h0M302.4 124.5h0M277.1 100.9h0M284.9 92.9h0M291.2 107.8h0M301 120.2h0M267.6 95.9h0M290.2 114.4h0M300.8 90.2h0M291.6 120h0M271.7 100.2h0M266.5 108.2h0M297.2 107.6h0M288.9 108.3h0M286.5 96.6h0M293.2 116.7h0M273.4 99.4h0M273.8 120.4h0M296.7 105.1h0M301.1 99.8h0M281.2 115.5h0M285.5 119.7h0M290.4 82.8h0M304.3 97.3h0M291.2 106.3h0M306.2 109.6h0M301.5 110.8h0M286.7 112.5h0M285.9 110.7h0M300.1 102.4h0M274.2 103.6h0M282.7 104.7h0M274.5 100.3h0M302.5 110.3h0M288 110.5h0M293.1 97.8h0M300.9 97.1h0M311.3 98.6h0M298.1 106.3h0M292.4 118h0M292.2 111.2h0M275.5 121.4h0M279.5 101.6h0M302.6 107.3h0M275.5 112.6h0M293.4 130.9h0M286.5 95.8h0M271.4 106.4h0M279.4 125.8h0M296.6 113.2h0M295.4 108.2h0M288.4 96.1h0M289.3 109.9h0M283 110.1h0M289.4 106.3h0M282.8 99h0M291.4 121.1h0M288.4 75.2h0M286.7 108.2h0M288.3 109.1h0M276.6 111.5h0M288 113.5h0M299.9 110h0M283.8 97.7h0M280.9 107.7h0M291.4 96.1h0M283.6 113.6h0M283.2 108.4h0M288.4 105.8h0M306.3 120h0" stroke="#377eb8" stroke-width="2.4" stroke-linecap="round"/>
<path d="M309 75.8h0" stroke="#377eb8" stroke-width="2.4" stroke-linecap="round"/>
<path d="M316.5 97.5h0M301.1 79.8h0M305.6 68.1h0M304.3 74.7h0M311.5 84.2h0M305.6 83.1h0M310 75h0M298.4 74.4h0M307 72.2h0M309.4 72.4h0M307.6 91.7h0M311.7 75.8h0M301.4 93.7h0M303.3 81.5h0M308.8 80.8h0M320.1 68.3h0M310.8 98.9h0M312.8 59.6h0M292.5 92h0M312 73.1h0M305.1 83.5h0M303.6 84h0M305.9 71.4h0M311.4 97.9h0M313.3 70.7h0M304.5 85.7h0M311.3 75.6h0M306.6 93.4h0M302.6 74.6h0M306.2 81.1h0M312.6 80.3h0M306.6 86.4h0" stroke="#ffff33" stroke-width="2.4" stroke-linecap="round"/>
<path d="M300.9 77.9h0" stroke="#377eb8" stroke-width="2.4" stroke-linecap="round"/>
<path d="M280.9 128.3h0M278.6 124.4h0M276.9 127.9h0M277.5 135.3h0M282.5 138.2h0M277.4 130.7h0" stroke="#984ea3" stroke-width="2.4" stroke-linecap="round"/>
<path d="M292.2 138.6h0M281.8 138.3h0M291.5 129.9h0M280.4 137.6h0M294.8 139.1h0M284.4 135.1h0M288.2 137.5h0M291.1 129.6h0M299.7 135.1h0M280.9 134.9h0M292.5 142h0M295.8 135.4h0M286.3 149.8h0M289.8 146.7h0M290.9 138.4h0M290.9 144.7h0M284.4 136h0M288.1 137.2h0M292.6 140h0M301.9 132.2h0M294.8 142.4h0M298.2 132h0M292.7 136.5h0M283.1 137.3h0M296.4 132.4h0M292.6 134.7h0M287.3 135.7h0M282.5 134.5h0M284.3 137.5h0M288.6 140.6h0M295.1 132.1h0M286.8 138.1h0" stroke="#e41a1c" stroke-width="2.4" stroke-linecap="round"/>
<path d="M288.5 74.5h0" stroke="#e41a1c" stroke-width="2.4" stroke-linecap="round"/>
<path d="M294.1 103.8h0M295.7 113.1h0M284.5 97.6h0M297.1 107.5h0M295.5 118.7h0M289.9 104.6h0M289.1 98.2h0M293.7 103.6h0M286.7 95h0M295 116.7h0M279.8 116.9h0M291.6 110.5h0M300.9 105.9h0M286.3 112.2h0M293.3 100h0M286.4 107.6h0M282.7 109h0M290.2 111.5h0M294.1 99.6h0M295.9 95.6h0M303.4 118.2h0M295.8 110.6h0M303.2 114h0M289.4 122.9h0M297.3 114.1h0M290.3 111.5h0M292.6 99.1h0M290.1 90.7h0M280.4 106.2h0M269.7 122.3h0M282.9 118.4h0M307.7 99.1h0M298 111.2h0M291.7 117.4h0M287.8 97.3h0M299.7 103.6h0M296.6 118.5h0M305.6 96.7h0M270.7 94.5h0M293.2 108.7h0M274.5 131.4h0M293.6 100.8h0M293.6 123.5h0M299 104h0M289.5 124.2h0M278.2 100h0M285.1 93.7h0M293.3 116.2h0M291.9 116.4h0M288.2 130.8h0M282.6 101.6h0M298.5 88.5h0M292 97.9h0M313.1 106.1h0M276.2 99.5h0M314.3 111.4h0M295 107h0M297.5 117h0M274.1 103.1h0M298 102.1h0M295.8 103.9h0M278.9 111.9h0M286.9 114.3h0M283.9 109.7h0M284.3 113.1h0M311 105.1h0M287.3 110.2h0M290.3 107.7h0M279.9 111.6h0M280.7 107.1h0M292.7 87.3h0M284.1 119.4h0M288 108.9h0M277.2 105.1h0M295.5 115.2h0M286.9 101.9h0M281.4 88.9h0M303.7 111.7h0M295.9 106.5h0M290.7 127.7h0M291 121.3h0M288.6 103.7h0M297.7 118.4h0M293.4 106.5h0M292.1 99.7h0M282.7 101.1h0M289.9 121.4h0M268.4 115.4h0M301.7 109.6h0M290.7 112.1h0M296.9 109.8h0M285.7 117.4h0M279.2 120.9h0M295.5 103.3h0M295.4 106.4h0M305.9 108.5h0M285.1 96.3h0M298.2 112.2h0M300.3 99.2h0M294.4 102.4h0M286.6 114.2h0M287.5 107.9h0M280.6 109.1h0M303.1 109.8h0M293.3 106.2h0M285.7 103.4h0M275.8 102.1h0M286.1 116.7h0M288.7 100.3h0M290 93.3h0M288.4 118.2h0M290.1 107.2h0M286.5 66.9h0M264.8 103.1h0M286 104.6h0M306.8 109.8h0M287.7 113.4h0M296 118.5h0M280.5 120.2h0" stroke="#377eb8" stroke-width="2.4" stroke-linecap="round"/>
<path d="M322.4 127.6h0M328.3 139.4h0M329.3 137.7h0M337.7 119.1h0M331.2 136h0M322.9 123.6h0M324.5 133.5h0M329.8 124.1h0M328.3 130.9h0M322.4 118.2h0M347.2 144.1h0M326.6 127.7h0M318.3 119.7h0M357.2 131.3h0M307 120h0M319 124.9h0M340.1 126.3h0M316.3 136.3h0M318.4 117.2h0M333.5 133h0M325.5 132.2h0M329.5 121.2h0M329.7 138.9h0M327.8 132.5h0M321.7 129.5h0M336.6 139.7h0M344.5 132.3h0M324.1 122.2h0M326.3 129.9h0M328.6 126.6h0M348.1 146h0M329.9 116.5h0M321.1 131.8h0M333.1 130h0M322.3 119.8h0M337.7 136h0M334.6 119.8h0M319.6 131.4h0M331.9 132.5h0M327.8 140.2h0M329 136.3h0M335.6 121.7h0M335.1 134.6h0M330.2 122.7h0M314.7 132.5h0M312.8 123.5h0M322.1 126.8h0M346.1 127.8h0M331.9 125.7h0M322.9 125.4h0M327.9 126.7h0M330.3 131.2h0" stroke="#ff7f00" stroke-width="2.4" stroke-linecap="round"/>
<path d="M280.9 130.4h0M287.2 126.8h0M272.2 137.7h0M286.9 117h0M278.8 134.8h0M279.3 120.3h0" stroke="#984ea3" stroke-width="2.4" stroke-linecap="round"/>
<path d="M309 81.8h0M310.7 92.9h0M313.6 90.5h0M311.5 82.1h0M304.2 89.7h0M308.2 95.6h0M307.7 84.2h0M300.8 69.2h0M307.9 89.6h0M306.8 84.2h0M306.6 85.9h0M305.3 60.9h0M308.5 83.2h0M295.2 90.3h0M306.3 80.3h0M312.4 73h0M306.8 104.8h0M307.6 71.5h0M308.7 83h0M304 76.8h0M301.9 71.8h0M304.9 84.3h0M313.1 102.6h0M306.5 92.5h0M299.9 88.7h0M310.1 72.8h0M309.9 90.7h0M303.7 80.4h0M309.3 82.1h0M306.5 71.7h0M311.3 89.4h0M315.1 96h0M316.6 83.1h0" stroke="#ffff33" stroke-width="2.4" stroke-linecap="round"/>
<path d="M302 76.9h0" stroke="#377eb8" stroke-width="2.4" stroke-linecap="round"/>
<path d="M325.5 135.9h0M333.6 138.5h0M320.6 128.4h0M330.2 122.4h0M340.9 136.6h0M316.5 132.5h0M323.6 124.4h0M336.3 137h0M342.1 128.9h0M329.8 121.9h0M326.5 126.5h0M314.6 135.7h0M322.9 128.3h0M328.8 133h0M318.7 129.8h0M323.2 126.8h0M328.1 130.4h0M343.5 146.5h0M328.2 122.5h0M334.4 138.1h0M319.4 129.6h0M339.2 126.5h0M312.7 128.6h0M335.9 128.3h0M324.2 127.3h0M317.8 142.5h0M318.2 131.7h0M333.7 127.8h0M325.4 129.1h0M335.6 142.9h0M317.9 122.6h0M320.5 132.7h0M330.2 123.9h0M326.1 121.1h0M324.4 136.6h0M329.6 130.8h0M334.5 126.3h0M326.8 128h0M325 134.5h0M337 127.7h0M320.1 120.6h0M323.3 129.8h0M326.9 121.1h0M316.2 135h0M322.5 115.9h0M320.2 125h0M329.4 128h0M332.1 132.3h0M322.3 115h0M334.5 121.8h0M331.7 130.2h0M323 131.1h0" stroke="#ff7f00" stroke-width="2.4" stroke-linecap="round"/>
<path d="M334.1 133.2h0M328.1 128.2h0M327.6 134.9h0M322 122.9h0M329.8 127.7h0M330.2 132.5h0M317.3 132.6h0M327.3 124.7h0M327.9 136.3h0M342.9 128.1h0M312.4 118.6h0M332 121.7h0M331.1 132.2h0M325.8 120.7h0M320.9 131h0M341 129.8h0M329.4 134.1h0M330.5 135.3h0M333.1 136.1h0M307.8 124.7h0M322.3 123.7h0M322.5 125.8h0M329.4 122.1h0M326.9 127.5h0M332.5 139.6h0M326.6 130.5h0M319.7 136.7h0M328.4 124.7h0M321.3 113.8h0M330.6 115.3h0M323.1 142.2h0M327.9 117.6h0M325 121.1h0M325.2 122.1h0M328.5 127.7h0M315.9 133.1h0M322.3 125.1h0M336.2 119.4h0M335.9 132.8h0M322.6 121.4h0M329.7 130.8h0M325.7 121.2h0M327.8 121.8h0M338.6 135.4h0M348.4 138.7h0M325 127.7h0M342.8 148.3h0M322.2 131.4h0M354.5 135h0M331.1 138.6h0M322.1 134h0M336.8 135.6h0" stroke="#ff7f00" stroke-width="2.4" stroke-linecap="round"/>
<path d="M291.5 114.6h0M284.8 117.5h0M282.7 112.7h0M294 103.4h0M285.2 120.6h0M309.3 108.5h0M285.3 120.8h0M278.3 101.1h0M302.8 105.3h0M290.6 122.4h0M292.6 105.8h0M282.8 101.5h0M281.1 117.6h0M259.8 99.3h0M296.4 102.8h0M294.6 101.9h0M316.7 114.7h0M271.9 101.8h0M280.9 96.7h0M284.3 102.6h0M289.2 98.1h0M289.2 107.3h0M283.6 120.6h0M283.5 109.5h0M300.1 90.8h0M284.3 90.2h0M280.6 113.8h0M289.5 103.4h0M290.7 95.8h0M283.3 105.3h0M292.7 107.4h0M276 99.1h0M289.5 118.1h0M281.9 96.7h0M285.5 116.7h0M269.9 110.3h0M287 110.8h0M265.6 121.9h0M285 109.5h0M290.4 116.7h0M288.4 113.8h0M275.8 110.1h0M286.1 105h0M281.7 87.7h0M299.7 118.5h0M285.7 109.3h0M285.6 96.9h0M279.9 88.5h0M280.7 124.5h0M290.8 117.7h0M312 108.3h0M302.4 105.5h0M276.4 93.6h0M281.9 115.1h0M308.1 97.5h0M292.6 114.6h0M295 114.5h0M283.3 121.1h0M301.6 109.9h0M288.7 116.6h0M275.1 114.2h0M280.9 108.5h0M293.2 103.6h0M300.5 104.3h0M310.3 110.7h0M295 118.3h0M298.7 125.6h0M295 99.1h0M286.4 117.8h0M298.4 105.3h0M279 100.7h0M297.7 82.3h0M278.6 110.9h0M285.2 111.3h0M300.3 107h0M282.7 109h0M297 132.5h0M279.9 99.7h0M283.5 115.7h0M292.9 93.7h0M286.2 105.9h0M286.8 99.8h0M277.5 125.2h0M296 107.6h0M281.1 101.2h0M296.6 105.6h0M293.1 104.1h0M296.4 111.3h0M292.8 104.5h0M295.1 101.4h0M297.5 116.1h0M309.1 108.6h0M271 104.5h0M300.6 130.9h0M292.6 103.5h0M275.1 94.2h0M310.7 102.6h0M295.6 109.1h0M282.9 111.6h0M280.1 108.3h0M283.5 103.8h0M278.2 102.2h0M289.1 122.1h0M288.8 106.1h0M297.5 107h0M289.9 117h0M295.5 106h0M296.6 98.9h0M294.5 124.5h0M289.4 102.8h0M296.8 107h0M287.8 108.5h0M283.7 108.6h0M286 90.8h0M270.8 90.7h0M293.4 105.9h0M303.2 98.4h0M296.2 116.3h0M290.8 114.1h0M298.6 103.7h0" stroke="#377eb8" stroke-width="2.4" stroke-linecap="round"/>
<path d="M333.9 124.4h0M327.5 131.1h0M329.4 125.2h0M319.3 140h0M324.6 134.2h0M335.6 128.8h0M321.4 138.7h0M316.9 119h0M341.9 130.2h0M326.2 123.4h0M308.1 117.4h0M322.6 132.9h0M321.5 136h0M335 128.8h0M332.6 134.1h0M321.3 128.6h0M320.7 126.5h0M328.9 131.5h0M332.2 122.1h0M331.6 136.8h0M316.8 120.7h0M323 128.4h0M335.5 133.9h0M323.2 112.6h0M329.2 134.4h0M328.1 131.3h0M327.9 128.9h0M332 129h0M337.9 128.3h0M330.3 128.7h0M317.9 129.9h0M327.2 124.2h0M327.8 133h0M328.8 138.6h0M313.8 119.3h0M323.7 120.3h0M337.5 117.3h0M316.4 124.4h0M327.3 130h0M332.7 133.8h0M342.6 128.8h0M330.2 129.7h0M324.5 129.8h0M338 135.8h0M335.7 126.9h0M326.1 123.2h0M330.6 128.9h0M326 135.8h0M330.6 121h0M329.9 130.5h0M317.8 126.6h0M333.9 130.9h0" stroke="#ff7f00" stroke-width="2.4" stroke-linecap="round"/>
<path d="M317 84.9h0M318.8 92.7h0M311.4 70.3h0M308.8 91.3h0M305.2 83.6h0M309.8 81h0M305.3 78.8h0M310.2 66.7h0M307 91.6h0M310.5 68.9h0M309 96.2h0M308.5 72h0M311.6 76.2h0M302.9 84.2h0M311 103.6h0M308.6 75h0M306.6 69.7h0M308.5 92.2h0M303.7 74.5h0M304.7 87.1h0M304.2 92.2h0M306.3 92h0M311 74.9h0M312.1 95.6h0M305 73.2h0M304.2 89.9h0M305.8 88h0M310.9 95h0M304.9 76h0M314.8 81.9h0M314.7 94h0M301.7 72.8h0" stroke="#ffff33" stroke-width="2.4" stroke-linecap="round"/>
<path d="M336 123.8h0M322.6 137.5h0M323.8 118.5h0M321.3 122.9h0M326.4 125.7h0M316.1 134h0M336.6 129.5h0M335.7 141.3h0M325.1 144.1h0M328.8 138.6h0M340.5 128.4h0M330.8 136.4h0M334.7 135.2h0M325.8 124.9h0M331 124.1h0M330.5 137h0M340 145.8h0M339.4 131.5h0M350 139.1h0M325.8 133.8h0M333.3 132.9h0M340.1 121.1h0M316.8 118.7h0M325.7 126h0M341.6 129.3h0M320.5 131.8h0M330.2 125.3h0M335.2 128.2h0M302.6 133.4h0M331.7 137.9h0M349.2 133.9h0M326.3 131.3h0M326.8 140.2h0M318.9 135.8h0M326.8 123h0M323.4 127.7h0M340 136.3h0M328.3 122.1h0M320.7 135.7h0M329.1 130.3h0M329.9 130.3h0M327.4 126.2h0M332.7 136.1h0M332.3 143.3h0M337.5 137.4h0M331.4 131.3h0M324.3 127.3h0M330 128.1h0M311.5 123.5h0M314.7 121.3h0M326.2 123.7h0M310.4 106.8h0" stroke="#ff7f00" stroke-width="2.4" stroke-linecap="round"/>
<path d="M342.9 129.4h0M325.9 123h0M360.1 135.4h0M332.7 130.5h0M333.3 122.5h0M336.3 127.9h0M347.2 116.4h0M340.6 133.3h0M346.9 115.5h0M319.9 119.4h0M335 138.6h0M317.4 116.5h0M321.8 124.3h0M336.8 127h0M329.4 126.4h0M330.5 124.5h0M323.2 124.5h0M331.3 129.6h0M323.8 127h0M330.5 135.5h0M327.2 123.7h0M323.7 125.3h0M326.3 130.5h0M332.6 134.6h0M326.5 135.6h0M327.1 129h0M317.2 124h0M330.8 129.2h0M335.6 122.3h0M336 130.6h0M340 127.1h0M336 123.9h0M326.6 126.7h0M317 124.7h0M342.2 125.6h0M313.6 117.9h0M326.4 126.1h0M331.1 124.8h0M327.7 126.6h0M320.4 128.5h0M321.7 122.3h0M320.3 130.8h0M330.9 122.6h0M346.3 141.7h0M326.2 136.3h0M325.9 123.5h0M323.4 118.3h0M316.7 132.5h0M327.9 127.8h0M326.8 124.2h0M334.9 119.2h0M315 122.6h0" stroke="#ff7f00" stroke-width="2.4" stroke-linecap="round"/>
<path d="M283.5 137.1h0M279 132.3h0M280.6 126.7h0M276.3 138h0M279.2 133.2h0M282.6 124.1h0" stroke="#984ea3" stroke-width="2.4" stroke-linecap="round"/>
<path d="M291 134.8h0M281.4 135.8h0M289 129.3h0M293 140.9h0M283.2 137h0M287.6 134.9h0M291.7 139.9h0M305.1 130.2h0M303.9 134.1h0M291.9 149.3h0M283.9 137.5h0M291.6 136.3h0M290 140.5h0M285 140.1h0M288.6 132.5h0M287.2 139.2h0M289.4 137.2h0M279.9 139.7h0M287.1 136h0M288.6 142.3h0M287.2 132.5h0M289.4 141h0M285.7 140.2h0M292.6 141.6h0M293 138.1h0M297.9 128.9h0M276.7 135.8h0M281.5 141.3h0M298.2 136.3h0M286.4 134.8h0M297.8 140.1h0M297.6 134.5h0" stroke="#e41a1c" stroke-width="2.4" stroke-linecap="round"/>
<path d="M329.8 128.4h0M334 133.8h0M320.4 121.5h0M328 134.6h0M335.4 125.8h0M335.9 125.6h0M317.1 126.4h0M322.2 127.5h0M327.4 133.8h0M313.4 130.3h0M327.1 131.1h0M326.8 134.4h0M332.2 125.8h0M325.6 127.6h0M316.1 134.4h0M330.2 138.2h0M340.2 134.9h0M336 136.4h0M330.8 124.1h0M330.9 128.9h0M316.8 140.1h0M324.4 129.5h0M329.9 132.6h0M326.2 115.8h0M337.5 120.8h0M340.1 128.2h0M331.3 122.5h0M313.3 122.1h0M330.8 122.1h0M318.2 118.3h0M321.1 118.3h0M331.8 131.2h0M329.8 128.2h0M317.4 129.7h0M326.5 123.3h0M330.3 123.4h0M335.9 124.6h0M323.3 122.2h0M325.7 138.2h0M326.2 133.3h0M326.5 124.9h0M326.9 123.9h0M321.2 126.5h0M330.4 133.7h0M323.7 133.7h0M328.8 124.7h0M327.4 135.3h0M327.7 124h0M320.9 124.3h0M333.6 140.4h0M318.9 127.9h0M322.4 125.9h0" stroke="#ff7f00" stroke-width="2.4" stroke-linecap="round"/>
<path d="M284.5 134.6h0M284.1 137.4h0M292.7 137h0M283.8 138.8h0M301 128.5h0M290.6 133.3h0M297.5 129h0M287.6 141.4h0M294.3 130.4h0M287.9 145.9h0M293.3 138.6h0M293 136.4h0M282.2 135.9h0M288.6 135.7h0M281.8 133.7h0M304.5 138.5h0M293.9 133.3h0M295.5 137h0M294.9 142.8h0M289.5 135.4h0M299.2 129.4h0M296.2 131.4h0M281 131.3h0M296 137.4h0M280.1 136.4h0M299.1 138.5h0M296.5 130.2h0M288.8 137.4h0M299 134.3h0M288.6 134.8h0M297.1 135.3h0M289.4 143.5h0" stroke="#e41a1c" stroke-width="2.4" stroke-linecap="round"/>
<path d="M286.3 135.3h0M286.1 136.3h0M294.7 138.6h0M291.6 138.9h0M289.1 130.2h0M285.8 135.8h0M296.7 138.3h0M296.4 136.5h0M285.8 131.3h0M294.9 136.1h0M293.2 132.1h0M289.8 139.7h0M293 133.5h0M297.4 132.5h0M285.1 136.9h0M293.2 131.5h0M288.8 136.3h0M293.8 137.2h0M286.1 135.5h0M285.8 140.5h0M287.4 133.4h0M280.7 142.9h0M291 132.8h0M285.7 133.5h0M289.4 134.2h0M280.5 137.8h0M285.8 144.7h0M289.7 136.7h0M283.7 129.5h0M283.7 135.9h0M287 138.9h0M294.6 137.9h0" stroke="#e41a1c" stroke-width="2.4" stroke-linecap="round"/>
<path d="M314 85.4h0M305.4 100h0M309.5 66.4h0M308.1 64.3h0M298.8 89.4h0M307.1 87.7h0M308.7 93.2h0M312.3 70.3h0M310.5 84.8h0M311.4 72.2h0M299.1 92.6h0M296.7 89.9h0M304.2 69.1h0M317.7 80.2h0M307 102h0M306.1 68.9h0M307.2 89.1h0M307.4 101.4h0M305.4 81.8h0M303.8 92.7h0M307.7 70h0M309.8 87.1h0M307.8 79.9h0M310.4 94.1h0M309.2 64.8h0M309.4 69.4h0M312.5 88.2h0M301 83.5h0M324.8 101.3h0M301.4 88.2h0M306.2 100.8h0M310.7 83.7h0" stroke="#ffff33" stroke-width="2.4" stroke-linecap="round"/>
<path d="M314.6 95.5h0" stroke="#377eb8" stroke-width="2.4" stroke-linecap="round"/>
<path d="M273.4 135.2h0M282.7 129.6h0M278.7 136.3h0M279.4 131.8h0M282.6 132.2h0M280 128.4h0" stroke="#984ea3" stroke-width="2.4" stroke-linecap="round"/>
<path d="M283.6 107.6h0M310.1 113.7h0M281.8 99.9h0M268.7 80.2h0M294.7 103.6h0M279.3 106.3h0M280.9 104.7h0M293.6 113.5h0M287.3 96.8h0M290.6 103.1h0M296 98.3h0M294.3 120.9h0M298.7 107.5h0M282.8 99.1h0M275.2 123.5h0M301 109.7h0M304 100.9h0M291.9 119.1h0M282.2 120.4h0M296 106.5h0M293.9 104.5h0M292.5 100h0M287.8 129.1h0M284.5 113h0M270.9 105.2h0M298.4 115h0M278.2 99.3h0M281.8 111.1h0M283.1 93.6h0M284.9 108.4h0M273.4 110.5h0M309.6 109.1h0M299.5 96.4h0M289.3 112.4h0M306.1 115.2h0M292.8 86.2h0M283.3 95.8h0M296.5 106.4h0M306.2 89.2h0M279 99.5h0M286.7 114.4h0M286.1 103.6h0M278.1 107.1h0M284.7 118.1h0M291.9 117.5h0M290.6 106.1h0M284.5 110.1h0M292.6 95.5h0M289.7 107h0M276 83.5h0M296.5 116.1h0M302.8 106.3h0M286.5 108.6h0M282.3 113.7h0M281.7 108h0M311.1 108.4h0M284.8 126.3h0M294.2 95.4h0M287.5 98.4h0M291.2 97.4h0M287.6 87.2h0M302.4 105.6h0M291.7 115.1h0M292.3 108.1h0M297.4 94.2h0M283.5 120.7h0M303.7 92.3h0M263.6 101.8h0M274.2 110.9h0M294.5 96.3h0M309 93.6h0M292.4 110h0M287.5 115.9h0M292.5 117.9h0M308.8 111.3h0M287.7 110.2h0M282.4 108.5h0M292.4 111.1h0M281.7 113.4h0M283.3 120.4h0M285.3 106h0M296 116.2h0M296 125.6h0M298.8 105.5h0M275.4 106.1h0M281.2 92.1h0M309.5 106.8h0M290.8 114.3h0M298.7 98.1h0M294 111.9h0M278.1 87.7h0M322.1 110.4h0M269.1 100.6h0M297 115h0M283.3 123.3h0M279.9 110.9h0M287.2 100.5h0M310.4 121.1h0M296.8 109.6h0M275.4 110.1h0M276 113.8h0M280.4 117.9h0M292.1 95.6h0M295.7 91.7h0M292.3 108.3h0M295.8 96.8h0M291.7 106.5h0M292.7 112.4h0M296.4 99.4h0M295.4 100.8h0M293.2 110.1h0M299.6 102.6h0M308.7 107.7h0M282.8 106.6h0M296.2 105.5h0M310.7 108.2h0M280.2 82h0M294.8 101.9h0M296.8 98.4h0" stroke="#377eb8" stroke-width="2.4" stroke-linecap="round"/>
<path d="M312.4 67.4h0M299.1 86.5h0M305.1 93.4h0M306.9 90.5h0M308.7 91.6h0M307.3 67.6h0M312.7 88.7h0M307.6 76.9h0M309.4 86.6h0M316.3 64.9h0M299.4 91.7h0M307.4 104.8h0M306.2 98h0M308.8 87.1h0M302.4 88.6h0M311.4 89.5h0M307.5 82.2h0M301.8 67.7h0M303.3 75.9h0M310 88.5h0M311.2 70.3h0M306.9 74.9h0M301.6 90.1h0M309.2 78.5h0M302.8 79.7h0M312.4 84.3h0M304.3 85.5h0M306.9 100.2h0M306 62.2h0M306 84.3h0M307.6 88.2h0M308.6 88.1h0" stroke="#ffff33" stroke-width="2.4" stroke-linecap="round"/>
<path d="M278.9 133.4h0M281.6 128.2h0M278.3 135.9h0M276.7 135.3h0M283.9 126.9h0M279.4 128.7h0" stroke="#984ea3" stroke-width="2.4" stroke-linecap="round"/>
<path d="M277.8 129.3h0M279.3 133.4h0M284.8 124.8h0M279.2 130.3h0M282.5 131.5h0M280.7 133.6h0" stroke="#984ea3" stroke-width="2.4" stroke-linecap="round"/>
<path d="M311.2 80.9h0M302.1 80.2h0M306.5 70.3h0M317.3 96.1h0M310.7 76.7h0M304.9 93.7h0M307.5 87.6h0M309.8 69.6h0M307.4 91.8h0M306.3 68h0M311.1 89.8h0M309.4 90.5h0M312.5 76.4h0M305.2 83.1h0M310.2 83.8h0M304.5 68.3h0M306.5 74.7h0M311.1 83.2h0M307 95.3h0M309.1 82.7h0M311.7 73.5h0M307.4 92.1h0M306.8 85.1h0M308.1 88.4h0M309.4 73.3h0M314.4 91.1h0M306.2 78.1h0M304.1 70.8h0M308.7 83.7h0M307.3 85h0M315.2 98.6h0M313.4 103.4h0M307.7 70.3h0" stroke="#ffff33" stroke-width="2.4" stroke-linecap="round"/>
<path d="M311.1 76.4h0M307.4 79.4h0M306.9 103.9h0M304.9 82.9h0M310.7 77.5h0M299.9 75.3h0M307.7 71.9h0M305.6 83.3h0M299.4 78.2h0M305.7 75.3h0M306.3 92.1h0M309.7 90.8h0M307.7 85.5h0M312.3 86.5h0M299.2 94.4h0M310.3 93.3h0M311.7 76.3h0M306.8 85.7h0M316.1 59.5h0M302.8 90.7h0M305.4 96.6h0M308.6 87.6h0M306.5 80.4h0M304.5 76.4h0M309 81.1h0M308.4 92.4h0M308.6 80.8h0M303.3 80.1h0M314.4 86.6h0M305.1 81.7h0M300 65h0M303.8 86.6h0" stroke="#ffff33" stroke-width="2.4" stroke-linecap="round"/>
<path d="M281.8 139.4h0M296.5 133.8h0M281.7 132.8h0M283.3 133.8h0M297.5 134.1h0M289.4 132.7h0M295.7 133.6h0M291.9 134.8h0M285.6 134.3h0M288.1 135.2h0M290.6 137.3h0M293.8 132.1h0M285.1 139.3h0M295.3 138.2h0M299.8 139.4h0M293.4 137h0M284.3 141.7h0M287.2 137.9h0M290.3 133.2h0M286.6 139.3h0M282.2 131.5h0M292.1 134.5h0M284.4 142.4h0M281.3 131.3h0M297.8 145h0M273.9 135.2h0M291 142h0M289.4 130h0M301.8 137.7h0M288.2 139h0M292.3 137.6h0M304.1 141.6h0" stroke="#e41a1c" stroke-width="2.4" stroke-linecap="round"/>
<path d="M307.5 86.8h0M306.6 81.9h0M303.7 94.6h0M304.8 89.3h0M307.9 72h0M305.2 97.9h0M308.5 79.6h0M310.5 79.6h0M309.8 95.4h0M309.3 87.3h0M314.9 72.1h0M300.9 93.9h0M304.4 74.2h0M309.9 70.4h0M320.4 74.7h0M301.9 97.3h0M299.3 87.9h0M306.4 84h0M307.5 77h0M307.6 90.6h0M315.1 72.6h0M307 81.6h0M309 86.5h0M305.7 74.6h0M301.8 91.5h0M307.2 88.6h0M306.8 73.2h0M300.5 94.6h0M303.4 69.6h0M306.5 67.8h0M312.2 75h0M309.5 91h0" stroke="#ffff33" stroke-width="2.4" stroke-linecap="round"/>
<path d="M307.3 74.5h0M298.1 104.9h0" stroke="#377eb8" stroke-width="2.4" stroke-linecap="round"/>
<path d="M277.5 108.1h0M297.7 100.6h0M300.8 102.9h0M278 102.6h0M306.7 97.3h0M301.4 107.1h0M297.8 111.6h0M289.8 109.4h0M296.2 111.2h0M300.2 118.4h0M290.1 112.2h0M307.5 115.2h0M299.9 115.5h0M294.1 106.7h0M299.3 100.8h0M291.5 97.5h0M301.4 105.6h0M294.5 112.6h0M285.9 117.3h0M288.1 117.3h0M288.5 95.4h0M288.4 123.2h0M294.3 104.7h0M286.6 113h0M284.6 115.1h0M293.4 94.3h0M298 125h0M279.9 105.8h0M298 111.7h0M288.8 96h0M292.7 106.4h0M280.9 87.1h0M298.4 107.8h0M287.5 92h0M290.7 103.1h0M279.7 109.2h0M298.1 112.4h0M301.4 106.5h0M298.4 82.1h0M297.3 106.3h0M292.2 105.7h0M302 110.6h0M307.1 104.9h0M291.3 107.1h0M305.9 103.5h0M285.7 108.4h0M287.4 90.7h0M270.2 97.4h0M303.4 96.7h0M287.8 124.1h0M270 130.2h0M299.1 98.1h0M290 115.5h0M270.7 99.1h0M292.5 107h0M283.4 102.3h0M292.6 94.8h0M306.4 116.2h0M297.8 101.5h0M298.7 85.5h0M283.8 109.9h0M288.7 119.1h0M302.2 101.5h0M285.5 121.1h0M281.4 102.9h0M287.3 111.1h0M297.6 104.2h0M292.8 88.3h0M289.2 107.8h0M296.3 113.1h0M286.9 112.2h0M287 108.5h0M292.2 110.8h0M297.2 98.7h0M305.3 91.5h0M294.5 108.1h0M275.2 106.4h0M288.5 117.5h0M288.9 114h0M290.7 116.6h0M306.8 96.8h0M266.2 124h0M294.5 107.7h0M311.3 104.2h0M299.3 111h0M284.5 108.2h0M287.2 109.8h0M298.6 108.2h0M308.4 115.3h0M276.5 112h0M292.2 125.6h0M296.7 117.5h0M288.5 100.2h0M293.5 127.7h0M290.9 105.1h0M297.1 106.9h0M295 101.1h0M296.9 106.8h0M285.9 94.7h0M298.2 104.7h0M289.8 106.3h0M295.6 107.1h0M285.7 112.4h0M296.3 103.7h0M278.2 110.1h0M292.2 91.4h0M275.7 104.2h0M299.4 98.3h0M282.9 101.8h0M297.6 108.9h0M277.9 116.7h0M288 114.5h0M276.4 101h0M288.6 112.5h0M302.3 118.2h0M281.2 110.8h0M302.3 122.5h0M292 118.5h0M284.9 104.5h0" stroke="#377eb8" stroke-width="2.4" stroke-linecap="round"/>
<path d="M323.2 121.2h0M326.3 128.1h0M336.5 131h0M337.5 142.1h0M333.1 129.5h0M336.5 125.1h0M337.8 134.2h0M320.4 125.4h0M328.9 127.2h0M328.2 131.5h0M323.8 130.3h0M329.7 123.2h0M330.8 131.3h0M337.3 136.2h0M325.6 125.1h0M326.4 121.7h0M319.7 138.1h0M312.5 120.3h0M331.7 134.2h0M340.8 131.2h0M313 133.9h0M323.1 123.9h0M321.7 130.6h0M334 122h0M329.2 128.1h0M333.8 129.1h0M320.2 130.2h0M326.7 122.7h0M327.7 126.7h0M322.3 126.5h0M335.3 131.8h0M321.1 126.4h0M352.5 137.1h0M337 135.6h0M313.4 123h0M326.8 130.5h0M323.7 131.2h0M320 128.3h0M317.4 129.6h0M322.8 129.8h0M319.4 114.5h0M338.1 133.1h0M326.7 134.6h0M328.8 114.1h0M339.4 137.1h0M327.7 129.8h0M331.7 127.1h0M335.9 134.4h0M332.7 128.9h0M349.8 145.6h0M325.4 123h0M314.1 121.1h0" stroke="#ff7f00" stroke-width="2.4" stroke-linecap="round"/>
<path d="M297.8 76.5h0" stroke="#377eb8" stroke-width="2.4" stroke-linecap="round"/>
<path d="M304.9 66.1h0M307 82.8h0" stroke="#377eb8" stroke-width="2.4" stroke-linecap="round"/>
<path d="M291.2 117.1h0M296 90.1h0M297.1 102.7h0M294.2 117.3h0M295.7 93.5h0M296.2 119.7h0M299.5 107.3h0M287.2 106.7h0M282.7 101h0M288.3 112.8h0M303.7 102.9h0M266.9 118.5h0M295.1 89.4h0M291.4 105.8h0M290.9 110h0M287.8 117h0M298.9 115.6h0M291.4 104.9h0M293.6 116.8h0M295.9 109.1h0M286.9 99.8h0M284 106.3h0M294 116.7h0M298 120.8h0M287.8 105.8h0M283.3 110.1h0M296 108.9h0M283.9 106.1h0M300.9 99.7h0M297.1 100.6h0M289.3 110.8h0M297.4 115.9h0M285.3 109.2h0M287.4 90.3h0M311.3 123.1h0M292.9 124h0M296.1 101.4h0M300 116.5h0M296.1 134.5h0M297.7 118.8h0M274.7 97h0M290.2 94.7h0M301.1 121h0M289.9 107.5h0M286.4 99.9h0M295.6 114h0M292.8 127.5h0M291.5 104.7h0M279.9 107.6h0M279.8 89.4h0M281.6 116.3h0M276.1 95.6h0M284.6 106.3h0M307.3 111.8h0M285.6 111.2h0M279.5 117.9h0M287.5 111.4h0M274.2 99.4h0M301.5 116h0M288.7 95.7h0M307.1 108.1h0M285.4 111.1h0M290.1 110h0M292.3 103.4h0M300.4 117.4h0M280.4 113h0M303.6 101.4h0M285.8 108.8h0M302 109.8h0M281.3 101.7h0M303.7 104.7h0M289.3 108.4h0M284.5 96.5h0M293.6 109.7h0M290.4 115.2h0M285.9 114.7h0M291.6 112.3h0M283.6 110h0M293.2 106.7h0M290 96.1h0M292.5 114.7h0M295.3 107.5h0M277.2 119.6h0M295.4 98.3h0M277.5 109.5h0M281.2 104h0M280.4 92.7h0M293.4 95.4h0M284.9 101.6h0M286.4 101.5h0M291.3 112.3h0M297.7 120.3h0M290 96.3h0M283.1 95h0M292.4 116.4h0M277.7 102.6h0M299.5 123.3h0M285.3 114h0M301.3 116.7h0M295.6 105h0M306.9 109.7h0M285.2 99.4h0M276.9 105.3h0M286.1 108h0M299.8 115.6h0M290.5 104.7h0M259.8 85.4h0M291.7 108.5h0M279.4 102.9h0M287 101.8h0M290.4 106.4h0M289 107.4h0M274.3 106.6h0M300.2 109.9h0M297.9 108.4h0M299.9 111.5h0M283.1 91.7h0M288.3 111.4h0M297.1 97.4h0" stroke="#377eb8" stroke-width="2.4" stroke-linecap="round"/>
<path d="M289.1 138.3h0M291.5 133.5h0M294.7 132.2h0M287.7 139.5h0M291.6 137h0M290.2 136.1h0M287.1 135.8h0M283.2 140.8h0M298.3 136.8h0M287.9 138.2h0M288 143.7h0M293 132.3h0M292.5 136.2h0M286.8 135.9h0M284.3 126.1h0M288.1 135.6h0M296.8 132h0M297.6 134.6h0M281.5 130.4h0M283.1 135.5h0M290.9 133.8h0M289.3 133.1h0M296.8 130.3h0M288.3 130.2h0M294.1 139.7h0M287.1 138.1h0M292.2 139.2h0M295 135.8h0M293.4 143.2h0M289.2 141.3h0M285.7 131.8h0M284 137.1h0" stroke="#e41a1c" stroke-width="2.4" stroke-linecap="round"/>
<path d="M287.3 133h0M296.4 137.4h0M283.7 133.5h0M294.5 134.1h0M288.2 136.1h0M290.3 138.6h0M287.2 141h0M286.3 130.1h0M290.7 134.3h0M296 133.9h0M296.4 139h0M304.4 148.4h0M292.8 128.5h0M286 137.3h0M281.3 135.6h0M287.7 126.7h0M291.7 141.6h0M290.5 139h0M289.9 134.8h0M298.1 135.5h0M288.3 137.5h0M292.1 136.8h0M282.7 134.2h0M295.6 136.9h0M298.2 134.9h0M297.5 132h0M285.1 135.8h0M289 140.1h0M293.2 140.2h0M293.6 137.2h0M290 134.3h0M293.3 141.2h0" stroke="#e41a1c" stroke-width="2.4" stroke-linecap="round"/>
<path d="M283.8 113h0M286.8 111h0M279 107.7h0M289.9 94.4h0M290.1 113.3h0M294.7 117.3h0M277.8 119.7h0M308.6 111.2h0M300 103.7h0M287.6 112.3h0M306.7 100.9h0M294.9 98.6h0M296.5 96.2h0M286.9 101.5h0M274.2 111.2h0M303.7 115.9h0M308.7 102.1h0M315.5 121.5h0M277.9 113h0M298.6 107.4h0M291.4 117.4h0M297 103.6h0M302.3 107h0M292 102.9h0M286.6 103.6h0M289.2 110.2h0M298.9 115h0M296 111.3h0M284 110.2h0M283.2 102.3h0M295.3 127.5h0M286.2 97.2h0M282.9 110.4h0M290.7 117.9h0M283.6 105.7h0M291.9 117.9h0M282.5 111.4h0M282.1 101.6h0M279.7 104.9h0M282.7 119.5h0M277.7 112.7h0M293.9 105.2h0M280.6 118.9h0M297.2 107.1h0M303.9 108.3h0M300.3 103.1h0M286.7 104.6h0M276.7 99.4h0M298.5 115.5h0M280.3 102.9h0M303.6 106.5h0M289.5 118h0M282.4 105.9h0M297.5 116.1h0M292.3 120.9h0M306.3 100.7h0M289 112.8h0M287.4 103.7h0M282.1 97.6h0M295.6 119.5h0M308.5 102h0M303.4 108.5h0M281.1 110.6h0M299.6 103h0M303.7 102.8h0M290.8 111.8h0M281 103.3h0M286.1 115.2h0M259.9 86.5h0M301.4 99.3h0M293.4 101.5h0M295 102.3h0M305.3 105.7h0M282.6 125.7h0M293.5 112.7h0M300.3 100.5h0M296.7 107.2h0M270.8 88.4h0M288.5 116.8h0M297.3 110h0M296.2 121.2h0M305.7 110.4h0M309.2 101.7h0M293.7 108.9h0M282 106.9h0M316.3 98.1h0M292.1 102.9h0M285.4 104h0M278.3 109h0M309.4 105.7h0M290.7 110.5h0M293.3 110.7h0M288.5 92.4h0M286.9 108.4h0M274.1 103.9h0M287.6 109.6h0M288.2 111.4h0M298.3 119.9h0M290 111.4h0M298.8 112.5h0M287 108.5h0M287.2 113.3h0M284.2 112.2h0M299.1 110.1h0M300.6 112.1h0M286 106h0M286 112.7h0M273.4 97.7h0M270.5 100.4h0M291.9 101h0M286.5 107.1h0M280 116h0M279.4 104.7h0M293.3 110.5h0M282.3 100.5h0M278.8 108.3h0M284.5 97.2h0M292.5 100.7h0M294.3 91.6h0M303.3 118.2h0" stroke="#377eb8" stroke-width="2.4" stroke-linecap="round"/>
<path d="M303 85h0" stroke="#e41a1c" stroke-width="2.4" stroke-linecap="round"/>
<path d="M282.2 138.1h0M287.8 138.9h0M292 138.7h0M287.7 131.6h0M290.6 144.3h0M283.6 138.8h0M286.1 136h0M295.2 140.6h0M292.4 134.5h0M283.2 137.4h0M290.6 139.2h0M306.6 134.2h0M289.4 133.1h0M288.7 130.9h0M300.8 141h0M281.9 140.8h0M289.7 135h0M289.6 130.2h0M285 141h0M286 134.6h0M286.7 137.5h0M293.8 128.9h0M279.8 135.9h0M284.9 137.4h0M293.6 132.3h0M297.9 136.7h0M289.8 146.4h0M284.3 135.4h0M289.3 130.8h0M287.7 147.4h0M286.2 141.2h0M280.6 138.9h0" stroke="#e41a1c" stroke-width="2.4" stroke-linecap="round"/>
<path d="M308.5 81h0" stroke="#e41a1c" stroke-width="2.4" stroke-linecap="round"/>
<path d="M304.7 80.4h0M305.2 93h0" stroke="#377eb8" stroke-width="2.4" stroke-linecap="round"/>
<path d="M324.6 127.9h0M325.5 130.3h0M325.7 127.2h0M328.6 133.4h0M328.4 136.5h0M318.1 126h0M336.9 131.1h0M313.5 125.3h0M331.2 128.6h0M330.6 131.3h0M310.7 136.2h0M329.5 125.7h0M326.1 129.8h0M325.6 124.4h0M332.6 129.8h0M324.6 129.8h0M329 133.5h0M332.1 121h0M323.9 130h0M318.4 120.4h0M334.6 130.6h0M333 124.8h0M322.8 127.7h0M339.7 141.1h0M339.5 125.4h0M322.7 129.6h0M338.2 134.7h0M338.2 136.9h0M326.4 135.7h0M316.8 130.6h0M329.4 146.6h0M326.2 118.1h0M327 120.8h0M322.5 126.5h0M330.1 131.5h0M324.4 137.3h0M328.5 131.7h0M332.7 124.2h0M312 126h0M324 134h0M337.6 131.9h0M323.6 123.3h0M333.9 129.3h0M329.6 139.1h0M317.4 128.8h0M327.1 108.6h0M317.8 124.9h0M329.1 130.2h0M315 133.9h0M330.1 115.9h0M331 136.4h0M323.3 127.1h0" stroke="#ff7f00" stroke-width="2.4" stroke-linecap="round"/>
<path d="M298.1 120.3h0M296.3 93.8h0M288.8 96.2h0M280.8 117.1h0M281.9 119.8h0M288.8 98.6h0M288.1 93.2h0M284 94.7h0M294.2 92.8h0M286 116.4h0M303 99.1h0M284.9 107.8h0M290.5 101h0M293.3 91.8h0M290.2 100h0M289.7 117.9h0M276.4 109h0M292 114.5h0M297.7 119.2h0M293.9 94.6h0M297.6 102.1h0M298.6 105.7h0M282.9 104.3h0M295.8 116.3h0M301.2 105.9h0M282.8 99.2h0M280.8 108.3h0M290.6 100.3h0M292.5 104.3h0M306.6 96.2h0M293 112.5h0M269.4 99.5h0M291.2 113.3h0M306 118.2h0M289.1 107.7h0M286.8 104.8h0M275.5 102.7h0M301.6 96.7h0M290.2 97h0M289.7 98.3h0M288.1 115.5h0M293.7 105.1h0M300.8 109.5h0M310.2 104.9h0M293.3 103.5h0M278.8 123.2h0M288.7 110.4h0M286.8 91.2h0M286.5 101.7h0M277 114.1h0M287.8 104.7h0M304 102.7h0M287.7 115h0M297.6 104.5h0M303.2 97.7h0M287.7 110.4h0M275.9 105.9h0M295.2 107.8h0M290.6 103.9h0M281.7 111.3h0M276.3 104.4h0M286.8 105.7h0M287.7 101.3h0M282.5 107.9h0M289.2 118.1h0M289.4 111.3h0M276.5 88.9h0M312.8 100.6h0M286.4 132h0M291.6 111.9h0M269.7 109.1h0M305.4 120.3h0M284.2 105h0M276.6 124h0M311.3 103.6h0M283.8 110.3h0M284.3 112.1h0M294.8 109.2h0M300.2 115.3h0M293.9 125.1h0M277.7 120.2h0M295.4 108.7h0M312.9 111.7h0M296.1 117.8h0M304.7 121.4h0M290.2 113.2h0M284.4 116h0M290 120.8h0M296.3 100.6h0M299.5 100.3h0M282.1 102.6h0M295.6 111.9h0M282 93.1h0M286.9 108.9h0M290.4 86.2h0M283.8 95.9h0M302.4 108.9h0M277.8 104.4h0M298 113.1h0M283.9 99.9h0M291.5 118.1h0M283.3 109.3h0M294.8 127.5h0M283.3 93.1h0M276.6 102.7h0M288.3 108.2h0M301.4 129h0M298.7 108.4h0M317.1 107.9h0M285.7 113.7h0M296.6 113.8h0M268.6 103.8h0M310.4 118.2h0M295 125.9h0M291.3 103.1h0M283.4 121.2h0M292.5 108.5h0M287.7 121.9h0M288.4 103h0M288.4 104h0" stroke="#377eb8" stroke-width="2.4" stroke-linecap="round"/>
<path d="M281.9 130.7h0M278.7 126.1h0M274.4 124.6h0M277.4 122h0M278.7 127.8h0M280.6 128.2h0" stroke="#984ea3" stroke-width="2.4" stroke-linecap="round"/>
<path d="M285.1 112h0M274.2 110.2h0M303.5 111h0M286.4 111.3h0M280.5 91.3h0M313.7 105.7h0M281 113h0M272 98.2h0M291.8 103.9h0M300.9 95.4h0M273.3 126.6h0M290.6 106.3h0M300.9 112.5h0M288.2 102.1h0M294.5 110.6h0M296.7 116.7h0M304 101.4h0M297.3 114.9h0M262 113h0M298.2 110h0M286.9 102.3h0M300.3 105.6h0M292.1 101.9h0M306 96h0M286.6 105.6h0M285 114h0M274.3 99.8h0M310.1 114h0M294 118.7h0M289.6 108.8h0M303.5 98.1h0M302.8 104.1h0M281.6 105.2h0M277.2 98.9h0M303.4 101.4h0M285.6 125.3h0M284.9 89.9h0M289.4 113.4h0M312.1 120h0M297.5 105.3h0M298.2 117.3h0M270.8 96.8h0M303.2 111.7h0M287.8 114.3h0M291.2 111.7h0M302 105.4h0M278.7 100.9h0M293.2 109h0M285.2 117.4h0M291.8 102.9h0M280.3 96.8h0M280.4 101h0M288.8 121.1h0M273.3 114h0M261.5 92.3h0M288.2 119.3h0M278.3 116.7h0M281.7 106h0M290.6 109.5h0M281.8 108.7h0M297 105.9h0M297.1 106.1h0M299.2 123.9h0M290.9 110.2h0M286 100h0M295.5 126.2h0M283.6 97.4h0M286.1 112.3h0M297.2 116.9h0M291.1 101.4h0M278.5 116.9h0M287.7 91.3h0M297.1 106.8h0M290.1 106.8h0M293.2 110.6h0M273.2 92.1h0M303 92.9h0M291.6 113.8h0M288.4 119.9h0M275.9 104.7h0M295.7 104h0M289.3 117h0M279.2 120h0M273.6 98.3h0M283.1 112.6h0M291.4 118h0M294.9 106.5h0M294.2 113.1h0M281.9 100.8h0M283.9 119.9h0M285.8 118h0M298.2 105.4h0M298.6 113.2h0M306.7 103.1h0M298.8 119h0M300.2 106.5h0M292.9 102.6h0M272.3 104.5h0M294.6 105.7h0M297.6 111.8h0M289.1 102.6h0M287.3 118.4h0M300.5 113.3h0M283.8 106.6h0M302.2 107.2h0M272.5 81.4h0M287.2 116.1h0M296.8 103h0M298.3 94.8h0M285.9 109.4h0M283.8 104.7h0M276.6 117.5h0M283.3 115.4h0M288.4 98.1h0M292.2 115.1h0M291.2 104.9h0M291.5 116.5h0M289.9 97.1h0M297.5 106.9h0" stroke="#377eb8" stroke-width="2.4" stroke-linecap="round"/>
<path d="M299.8 87h0M302.9 63.1h0" stroke="#377eb8" stroke-width="2.4" stroke-linecap="round"/>
<path d="M311.4 87.6h0M314.9 71.8h0M306 85.6h0M307.4 92h0M311.2 75.2h0M308.3 81.7h0M314.1 79.6h0M309.6 65.9h0M309 77.9h0M309.8 88.5h0M305.3 95.3h0M311.2 93h0M315.4 97.7h0M306.6 78.9h0M308.1 94.4h0M303.8 90h0M306.6 93.2h0M311.7 67.3h0M311.5 73.7h0M304.5 64.3h0M295.7 88.4h0M309.7 77.7h0M304.3 87.8h0M298.8 89.4h0M304.6 95.2h0M300.1 101.7h0M310.3 88.4h0M304.3 70.9h0M305.4 85.2h0M304.5 89.5h0M308.1 77.1h0M305.1 94.2h0M310.6 83.7h0" stroke="#ffff33" stroke-width="2.4" stroke-linecap="round"/>
<path d="M272.9 134h0M283 126.4h0M279.1 128.6h0M282.4 127.3h0M277.9 127.3h0M280.6 137.9h0" stroke="#984ea3" stroke-width="2.4" stroke-linecap="round"/>
<path d="M311.3 87.5h0M309.9 74.8h0M302.9 83.9h0M305.8 71.2h0M307.4 81.5h0M306.2 78.9h0M317.7 86.5h0M307.7 77.2h0M305.4 65.4h0M311.2 79.3h0M306.6 85.4h0M303.5 89.5h0M307 90.5h0M303.4 101.3h0M306.5 94.7h0M305.7 78.5h0M302.7 95.8h0M306.5 59.2h0M314.1 91h0M314.3 87.5h0M311.9 91.7h0M308.1 85.1h0M312.5 69.1h0M303.6 101.9h0M307.6 91.3h0M310.2 91.4h0M302.7 88.6h0M308.9 110.7h0M312.7 84.3h0M313.6 83h0M312.3 87h0M303.9 87.2h0M307.1 88h0" stroke="#ffff33" stroke-width="2.4" stroke-linecap="round"/>
<path d="M282.6 136.6h0M290.8 138.3h0M291.6 134.9h0M285.8 141.3h0M285.6 140.9h0M294 140.6h0M296.3 143.4h0M291.2 135h0M286.2 132.8h0M293 133.4h0M291.6 141.5h0M279 135.9h0M293.1 140.9h0M286.6 142.5h0M291.5 126.8h0M289.4 137.3h0M292 130.5h0M291.1 138.1h0M285.1 135.5h0M292.4 136.5h0M289.3 145h0M297.6 136.9h0M296 135.1h0M295.6 139.4h0M299 128.3h0M288.7 142h0M293.2 134.8h0M303.7 136.5h0M297.7 133.8h0M289.7 136.5h0M287.9 127h0M289.2 135.9h0" stroke="#e41a1c" stroke-width="2.4" stroke-linecap="round"/>
<path d="M307.4 80h0" stroke="#377eb8" stroke-width="2.4" stroke-linecap="round"/>
<path d="M339.5 142h0M318.6 124.1h0M320.4 130.4h0M332.6 124.8h0M324 133.8h0M311.7 138.4h0M321.1 128.2h0M329.3 132.1h0M325.1 123.5h0M351.9 138.4h0M324.8 133.5h0M327.6 128.2h0M331.2 138.2h0M337.2 135.1h0M322.4 132.5h0M328.9 127.3h0M333.7 131.8h0M330.7 132.1h0M329.6 127.7h0M334.2 132.5h0M318.2 126.6h0M325.7 133.8h0M324.8 126h0M331.8 134.3h0M327.8 118.6h0M323.9 129.9h0M331.3 131.2h0M329.4 127.3h0M318.2 110.5h0M328.3 118.4h0M334.3 123.3h0M341.1 127.4h0M322 129.2h0M313.7 121.7h0M326.4 134.5h0M319.2 127.6h0M318.6 117.2h0M327.1 134h0M320 126h0M331.7 130.1h0M327.6 136.9h0M333.2 141.9h0M321.3 120.8h0M336.5 125.1h0M342.6 140.8h0M310.1 115.9h0M313.7 132.4h0M327.4 125.5h0M338.9 140.1h0M338.5 130.2h0M307.1 121.2h0M325.8 128.4h0" stroke="#ff7f00" stroke-width="2.4" stroke-linecap="round"/>
<path d="M286.6 103.6h0M303.4 121.1h0M295.1 94.6h0M277.7 109.8h0M292.2 100h0M298.6 107.8h0M292.2 111.5h0M280.2 105.4h0M284.3 111h0M290 105.6h0M277.8 87.1h0M289 98.8h0M273.4 105.4h0M278 110h0M300.9 101.8h0M284.9 129h0M291.7 92.1h0M269 90h0M287.3 115.3h0M303.6 103.6h0M288.5 109.2h0M287.2 97.5h0M298 100.7h0M281.1 112.1h0M298.6 90.2h0M266 100.8h0M307.7 82.3h0M292.9 115.1h0M283.3 101.8h0M288.1 106.9h0M296.3 118.4h0M287.5 96.6h0M286.9 123.4h0M293.1 117.8h0M300.3 101.2h0M285.1 109.2h0M308.3 116h0M279.7 115.3h0M294.4 108.8h0M290.2 127.8h0M271.6 91.7h0M284.2 99.2h0M291.7 113.4h0M279.9 108.3h0M290.8 116.8h0M293.2 107.7h0M285.3 114.6h0M280.6 126.4h0M294.7 93.2h0M293.3 101.9h0M291.5 107.5h0M272 129.9h0M279.2 108.5h0M282 105.8h0M286.1 111h0M290.2 131.5h0M289.5 98.1h0M291.2 123.7h0M298.9 110.2h0M278.1 109.1h0M292.3 98.7h0M294.3 116.6h0M296.7 91.3h0M284.3 108.8h0M287.2 96.6h0M293.7 99.6h0M282.3 84.3h0M280.7 109.6h0M274.8 102.4h0M268.8 109.4h0M288.2 108.2h0M292.9 104.9h0M298.3 108.3h0M299 95.3h0M282.2 103.6h0M285.9 106.4h0M297.9 113.6h0M283.4 118.2h0M280.1 112.1h0M282.4 110.4h0M290.8 98.1h0M315.4 104.5h0M286.1 119.4h0M298.9 93.3h0M288.9 109.7h0M276.4 118.8h0M277.4 86.5h0M306.5 83.8h0M303.2 93h0M279 98.6h0M294.4 115.9h0M308.6 104.8h0M286.1 102.6h0M285.2 119.3h0M294.9 89.9h0M270 99.7h0M288.3 109.6h0M291.3 112h0M285 106.6h0M271.6 104.3h0M287.9 102.4h0M276.7 110.7h0M301 103.9h0M306.4 112.4h0M273.5 120.8h0M291.4 113.6h0M280.1 96.9h0M308.3 113h0M299.2 112.1h0M305.5 103.1h0M283.1 103.9h0M279.8 105.4h0M294.1 124.6h0M297.3 109.2h0M280.5 110.4h0M290.2 125.4h0M299.7 115.5h0M307.6 114.3h0M300.2 104.3h0M277.1 101.7h0" stroke="#377eb8" stroke-width="2.4" stroke-linecap="round"/>
<path d="M277.7 133.3h0M279.2 133h0M282.3 133.4h0M276.7 134.1h0M281.5 125.8h0M277.7 129.7h0" stroke="#984ea3" stroke-width="2.4" stroke-linecap="round"/>
<path d="M292.2 133.5h0M288.3 136.2h0M283.1 135.9h0M295.4 138.4h0M277.3 142.9h0M300 132.6h0M287.2 138.3h0M288.7 129.6h0M297.1 138.6h0M296.3 133.8h0M286.9 134.6h0M284.4 134.8h0M297.5 126.7h0M290.5 135.2h0M285.9 141.5h0M295.4 131.3h0M293.4 134.1h0M288.8 131.9h0M289.5 133.6h0M294.1 139h0M286 134.7h0M291.3 134.8h0M290.8 140.3h0M289.8 138.5h0M303.7 135.8h0M289.4 135.5h0M290.5 135.2h0M285 145.8h0M294.8 138.8h0M286.4 142h0M299.3 136.8h0M290.4 142.9h0" stroke="#e41a1c" stroke-width="2.4" stroke-linecap="round"/>
<path d="M280.5 127.3h0M279.7 129.2h0M284.3 132.4h0M287.6 132.3h0M275 126.5h0M278.1 136h0" stroke="#984ea3" stroke-width="2.4" stroke-linecap="round"/>
<path d="M297 47.5h0" stroke="#ffff33" stroke-width="2.4" stroke-linecap="round"/>
<path d="M528.1 114.3h0M552.6 136.8h0M531.1 128.4h0M547.1 136.2h0M537.3 133.8h0M531.8 124.5h0M550.2 139h0M553.5 132.8h0M522.9 126.3h0M536.5 128.3h0M556.6 137.4h0M540.6 133.1h0M539.9 131.1h0M545.3 131.8h0M550.2 136.9h0M561.7 140.3h0M507.7 118.3h0M535.1 126h0M562.4 139.9h0M541.7 131.5h0M554 137.6h0M521.6 123.7h0M551.4 132.7h0M549.6 135h0M518 124h0M545.2 133.8h0M515.2 120.8h0M547 130.6h0M514.5 125.1h0M537 129.9h0M521.6 125.8h0M552.6 138h0M560 137.2h0M534.6 130.3h0M555.4 134.5h0M533.4 132h0M535.9 129.1h0M539 129.9h0M558.3 137.9h0M547.6 134.2h0M519.7 126.6h0M512.3 119.5h0M556.6 137.4h0M553.5 136.1h0M559.9 134h0" stroke="#ff7f00" stroke-width="2.4" stroke-linecap="round"/>
<path d="M457.2 119.1h0M460.1 126.2h0M460.9 121.3h0M460.9 121.4h0M462.8 133h0M458.4 139.5h0" stroke="#984ea3" stroke-width="2.4" stroke-linecap="round"/>
<path d="M460.9 122.5h0M462.3 125.9h0M459.7 136.9h0M463.9 130.5h0M459.9 122.7h0M459.4 134h0" stroke="#984ea3" stroke-width="2.4" stroke-linecap="round"/>
<path d="M551.4 134.8h0M540.6 133h0M549.4 137.9h0M512.2 95.3h0M553.3 134h0M523 125.1h0M519.4 125.5h0M547.4 131.9h0M541 129.6h0M548.9 135.9h0M536.8 126.8h0M558.3 141.9h0M563.8 141h0M529.6 129.2h0M531.2 130.6h0M559.5 135.9h0M509.2 119h0M522 122.4h0M539.8 132.5h0M539.1 132h0M525.1 125.5h0M549 134.6h0M547.2 136.6h0M516.7 123.4h0M552.1 134.7h0M550.4 136.3h0M549.4 134.8h0M554 131.7h0M543.5 136.5h0M534.6 131.5h0M544.8 132.2h0M541.4 129.5h0M536.3 127.7h0M558.9 138.9h0M525.1 128.3h0M521 124.9h0M556.6 139.4h0M515.9 123.4h0M537.9 130.6h0M533.2 133.4h0M541.9 129.7h0M535.5 127.7h0M561.2 137.2h0M535.7 130.7h0M557.1 138.1h0" stroke="#ff7f00" stroke-width="2.4" stroke-linecap="round"/>
<path d="M499.7 62.2h0M499.8 62.2h0M499.7 86.9h0M504.1 71.8h0M499.3 71.1h0M491.8 86.1h0M493.1 87.7h0M494 95.7h0M489.6 91.7h0M493.3 100.1h0M493.6 83.7h0M493.7 81.7h0M494.2 87.4h0M494.2 85.9h0M495.2 88.1h0M508.1 67.6h0M499.7 72.9h0M498.5 74.6h0M502.8 53h0M500.4 57.1h0M496.6 98.7h0M487.8 93h0M497.5 76.9h0M488.7 96.9h0M500 69h0M501 87.4h0M495 79.8h0M500.9 60.6h0M495.9 77.7h0" stroke="#ffff33" stroke-width="2.4" stroke-linecap="round"/>
<path d="M472.5 122.6h0M469.4 118h0M464.1 120.9h0M468.2 122.9h0M473.6 117.1h0M478.5 129h0" stroke="#377eb8" stroke-width="2.4" stroke-linecap="round"/>
<path d="M545.6 132.9h0M553 135.4h0M546 85.3h0M528.1 125.6h0M538.4 127.8h0M557 137.6h0M546.2 137.3h0M550.5 132.9h0M528.7 130h0M558.8 145h0M511.2 103.5h0M549.5 134.3h0M550 129.3h0M543 136.2h0M516.3 123.5h0M560 133.3h0M516 121.6h0M525.1 126.4h0M549.5 132.6h0M532.7 129h0M550.1 136.3h0M540.8 131.6h0M540.8 130.7h0M542.4 135.3h0M531.9 129.5h0M538.2 130.1h0M530.2 125.5h0M556.2 137.2h0M552.5 135.2h0M549.1 136.8h0M562.4 142.2h0M539.5 126.6h0M535.5 130.5h0M563.4 137.8h0M534.8 108.1h0M529.9 129.3h0M559.9 138.2h0M532 127.9h0M541 134.3h0M528.5 125.2h0M539.1 129.5h0M538.4 130.8h0M555.8 133.8h0M526.9 124.5h0M540.1 134h0M529.6 125.6h0" stroke="#ff7f00" stroke-width="2.4" stroke-linecap="round"/>
<path d="M457.6 131.3h0M456.1 130.7h0M459.7 122.9h0M461.3 128.3h0M458 124.9h0M461.3 128.2h0" stroke="#984ea3" stroke-width="2.4" stroke-linecap="round"/>
<path d="M455.7 131.5h0M464.4 136.4h0M463.2 128.9h0M464.7 129.2h0M463.7 124h0M458 126.2h0" stroke="#984ea3" stroke-width="2.4" stroke-linecap="round"/>
<path d="M514 122.6h0M556.3 137h0M555.2 134.2h0M508 121.4h0M526 128.2h0M527.4 129h0M520.1 126.9h0M553.5 136.9h0M556.4 137.8h0M499.7 119.4h0M521.3 123h0M533.2 126.9h0M517.6 123.4h0M540.3 131.3h0M539.3 133.9h0M550.7 135.6h0M560.1 140.6h0M509.1 121.3h0M518.6 122.3h0M547.4 136.5h0M554.8 136.3h0M539.2 132.6h0M533.6 126.6h0M563.5 140.4h0M531.4 127.1h0M550.3 140.3h0M550.8 137.3h0M544.5 133.5h0M542.9 131.8h0M556.3 137h0M530.2 127.5h0M534.2 130.6h0M538.7 132.2h0M553.9 137.6h0M542.7 131.7h0M560.8 139.3h0M516.6 122.6h0M545 133.9h0M558.5 134.3h0M556.4 141.8h0M543.2 132.1h0M540.8 126.8h0M535.2 131.7h0M505.2 118.4h0M551.9 136h0" stroke="#ff7f00" stroke-width="2.4" stroke-linecap="round"/>
<path d="M463 128.9h0M476.4 128.8h0M463.7 125.2h0M471.6 121.1h0M467.3 146h0M462.4 127.3h0M462.5 121.8h0M460.2 125.9h0M465.7 140.9h0M471.6 137.8h0M465.7 117.6h0M467.2 145.1h0M464.8 144.9h0M479 122.9h0M469.4 118.8h0M461.8 135h0M480 124.2h0M467.4 135.9h0M463.4 135.1h0M474 121.6h0M471.7 134.6h0M461.7 127.9h0M463.4 142h0M466.6 138.4h0M460 127.6h0M464.7 129.7h0M458.9 123.5h0M466.5 139.1h0M470.5 123.4h0M472.2 125.8h0M458.7 127.3h0M470.4 137.9h0M459 125.6h0M462.6 122h0M468.7 134.8h0M467.1 146.2h0M473.5 120.6h0M464.4 137h0M472 122.5h0M470.9 126.1h0M462.3 132.5h0" stroke="#e41a1c" stroke-width="2.4" stroke-linecap="round"/>
<path d="M492.7 92.5h0M491.7 96.1h0M491.2 100.2h0M504.6 75.8h0M491.9 103.6h0M496.8 70.9h0M491 89h0M488.8 101.6h0M487.4 93.1h0M491.7 92.9h0M502.5 57.1h0M495 88.9h0M494.1 65.8h0M497.5 92h0M498.1 71.3h0M496.8 71.7h0M493.5 95.7h0M497.6 87.5h0M492.7 96.8h0M489.3 98.2h0M500.4 63.4h0M502.2 57.2h0M501.2 63.2h0M493.2 85h0M502 56.1h0M502 61.8h0M492.3 91.7h0M492.7 90.8h0M502.9 58.4h0" stroke="#ffff33" stroke-width="2.4" stroke-linecap="round"/>
<path d="M493.4 79.7h0M498.6 86.4h0M488.8 99.2h0M492.1 99.7h0M501.5 57.5h0M503 52.5h0M493.3 100.2h0M502.1 54.5h0M503.1 53.1h0M488.3 88.6h0M492.4 100.1h0M487.7 93.5h0M501 62h0M498.5 73.1h0M502.1 57.8h0M497.5 72.9h0M492.3 89.7h0M502.5 57.2h0M496.1 86.8h0M500.8 62.9h0M496.5 86h0M501 62.4h0M494 98h0M500.3 61.9h0M490.3 87.3h0M498.4 67.3h0M499.1 65.6h0M494 85.8h0M500.9 60h0" stroke="#ffff33" stroke-width="2.4" stroke-linecap="round"/>
<path d="M468.1 125.8h0M474.2 126.3h0M476 122.4h0M469.2 120h0M470.4 127.1h0M470.6 131.7h0" stroke="#377eb8" stroke-width="2.4" stroke-linecap="round"/>
<path d="M478.1 113.3h0M515.4 122.2h0M508.9 117.1h0M454.5 101h0M509.6 118.1h0M460.6 109.8h0M481 115.2h0M468.8 116h0M446 103.9h0M463.2 103.9h0M457.5 109h0M488.8 111.6h0M521 122h0M460.9 118.5h0M486.2 111.9h0M450.4 101.8h0M474.5 111h0M444.9 103.3h0M456.8 119.3h0M481.1 113.4h0M464.4 101.9h0M449.5 116.9h0M477.3 110.1h0M469.9 114.8h0M461.2 107.7h0M473.7 105.9h0M473.8 117.2h0M489.7 118.7h0M466.9 104.1h0M479.8 105.2h0M444.3 106.9h0M456.7 103.2h0M485.6 109.5h0M458.3 105.4h0M495.3 111.3h0M515.6 122h0M472.1 114h0M447.6 114.9h0M454.9 102h0M507.9 119.3h0M461.4 117.6h0M442.7 110.3h0M501.9 117.1h0M469.7 118.1h0M523.9 123.7h0M472.8 105.2h0M515.7 118.8h0M442.6 107h0M471 120.3h0M526.2 123.7h0M511.7 118.9h0M465.5 111.1h0M471.1 110.8h0M479.8 97.9h0M463.7 108.4h0M452.8 109.9h0M492.4 116.6h0M459.2 105.3h0M463.1 106.5h0M445.9 112.1h0M492.2 114.7h0M477.1 111.8h0M466.3 118.1h0M453.5 119.3h0M451.5 116.8h0M482.1 106.7h0M471.1 116.7h0M462.7 103.7h0M466.8 117h0M455.6 117.1h0M451.5 120.6h0M481.5 88.1h0M461.7 100.7h0M444.2 117.3h0M451.9 101.8h0M459.9 108.7h0" stroke="#377eb8" stroke-width="2.4" stroke-linecap="round"/>
<path d="M560.4 136.7h0M555.4 133.8h0M561.8 136.3h0M547.3 132.7h0M513.8 125.8h0M511.2 115h0M559.5 137.8h0M503.6 109.1h0M555.2 141h0M539.3 129.5h0M541.6 132.3h0M561.5 144.5h0M548.4 137.2h0M543.5 134.4h0M549.9 135.5h0M526.8 127.1h0M563.2 139.7h0M540.4 132.6h0M535.3 130.2h0M550.2 134.4h0M531.2 122.2h0M541.6 131.6h0M536 131.7h0M542.9 134h0M550.8 133.4h0M546.8 132.6h0M563 140.8h0M564.6 139h0M563.5 139.4h0M541.9 133.3h0M556.8 139.4h0M545.4 132.8h0M560.2 133.2h0M560 138.6h0M539.7 131.7h0M547.3 137.3h0M524.7 125.3h0M554 136.1h0M543.3 133h0M553.7 140.9h0M528.1 122.8h0M534.7 132.4h0M561.1 139.2h0M541.6 135.1h0M540.3 132h0M555.4 137.9h0" stroke="#ff7f00" stroke-width="2.4" stroke-linecap="round"/>
<path d="M468.1 121.1h0M469.9 131.7h0M463.5 124.5h0M466 121.2h0M485.1 129.6h0M476.1 118.3h0" stroke="#377eb8" stroke-width="2.4" stroke-linecap="round"/>
<path d="M467.9 127.3h0M466.8 134.7h0M468.2 126.8h0M457.9 122.8h0M467.4 140.4h0M472.2 121.7h0M469.9 117.8h0M462.3 120.4h0M462.5 128.2h0M463.6 124.9h0M463 136.1h0M462 123.4h0M464.5 133.1h0M483.4 118.7h0M467.4 133.2h0M459.5 125.4h0M468.4 121.1h0M475.7 147.2h0M463.3 127.6h0M462.3 127.2h0M468.8 143.4h0M460.7 127.4h0M472.3 132h0M466.4 120.3h0M460.4 122.3h0M460.4 127.6h0M469.5 120.1h0M479 122.2h0M464.7 133.2h0M464 143.4h0M462.2 140h0M476 125.4h0M463.1 122.4h0M473.5 127.3h0M470.1 140.7h0M473.8 125.4h0M463.1 132.4h0M480.2 122.7h0M461.3 127.1h0M463.2 126.5h0M476 123.6h0" stroke="#e41a1c" stroke-width="2.4" stroke-linecap="round"/>
<path d="M471.4 132.4h0M468.4 122h0M459.4 123.1h0M473.8 124.5h0M464.3 132.4h0M473.2 123.2h0M460.1 125.2h0M460.9 135.4h0M458.2 125.1h0M466.9 118.1h0M463.4 131.3h0M477.3 124.4h0M465.1 144.3h0M461.2 136.4h0M465.6 134.9h0M472.6 121.7h0M468.9 124.9h0M476.3 125.4h0M472.8 133.9h0M466.7 129.1h0M461.2 130h0M467.2 146.1h0M479 121.8h0M464 138.2h0M472.8 126.8h0M471.5 117.4h0M472 138.6h0M470.7 119.1h0M467.6 138.1h0M458.1 123.5h0M474.7 121.8h0M478.6 124.9h0M469.1 141.3h0M459 125h0M463.2 142.4h0M478 128.5h0M478.8 129.6h0M458.1 122.2h0M460.6 120.2h0M461.6 124.2h0M459.2 128.7h0" stroke="#e41a1c" stroke-width="2.4" stroke-linecap="round"/>
<path d="M471 128.2h0M479.8 127.1h0M477.3 126h0M473.1 131.5h0M484.2 127.5h0M466.6 123.5h0" stroke="#377eb8" stroke-width="2.4" stroke-linecap="round"/>
<path d="M476.3 128.2h0M478 129.1h0M476.8 113.6h0M465.9 114.4h0M474.3 128.6h0M472 122.3h0" stroke="#377eb8" stroke-width="2.4" stroke-linecap="round"/>
<path d="M460.1 115.4h0M459.3 113.2h0M520.5 121.6h0M462 110.3h0M484.1 110.9h0M521.3 120.9h0M469.3 102.6h0M464.4 118.1h0M454.1 119.7h0M465.4 107.4h0M480.2 115.7h0M464.2 109.6h0M445.6 107.3h0M476 116.8h0M456.4 113.6h0M468.8 113.4h0M449.5 102.5h0M477.8 114.8h0M483.8 112.2h0M512.8 118.6h0M458.9 104.6h0M471.6 115h0M465.3 113.9h0M471 111.4h0M445.5 108h0M474.8 106h0M477 112.6h0M446 110.4h0M480.1 111.9h0M446.9 106.2h0M506.6 114.9h0M470.3 105h0M519.7 122.6h0M460.9 102.5h0M480.8 109.1h0M469.4 113.8h0M504.6 113.5h0M448.9 105.9h0M493.4 112.8h0M452.3 109.1h0M450.1 107.4h0M472.3 115h0M468.4 112.1h0M456.9 107.3h0M500.2 115.6h0M442.3 109.1h0M510.4 119.8h0M470.6 106.5h0M462.3 106.7h0M467 109.6h0M471 111.7h0M456.9 101.3h0M496.1 113.8h0M453.1 119.5h0M501.1 117.1h0M462.8 110.4h0M472.3 109.1h0M476.7 112.7h0M458.3 111.7h0M454.1 112.4h0M442.4 105.6h0M467.9 118.6h0M455.4 115.3h0M449.2 113.1h0M478.2 113.4h0M456.1 117.3h0M482.3 114h0M456.2 116h0M459.2 116.8h0M448.1 115.1h0M501.8 118.3h0M447.9 107.4h0M480.4 115.7h0M474.3 103.3h0M446.6 111.5h0M470.7 102.1h0" stroke="#377eb8" stroke-width="2.4" stroke-linecap="round"/>
<path d="M468.8 130.6h0M456.2 114.7h0M459.7 132.9h0M461.8 133h0M460.3 125.9h0M463.1 125.8h0" stroke="#984ea3" stroke-width="2.4" stroke-linecap="round"/>
<path d="M544.9 134.4h0M538.8 134.7h0M533.9 127h0M540.2 127.4h0M536 130.2h0M522.8 123.7h0M543.9 137.4h0M552.8 136.5h0M540.3 132.4h0M542.5 131.7h0M552.6 131.7h0M563.2 142.1h0M551.7 134h0M517.6 123.5h0M545.1 131.2h0M555.2 138.2h0M559.4 137.6h0M563.6 139.7h0M549.7 140.5h0M535 129.9h0M558.7 137.8h0M552 140.9h0M544 135.1h0M531 133.4h0M559.8 140.5h0M510.2 120.2h0M540.8 130.1h0M520 122h0M529.4 125.8h0M521.8 126.9h0M560.2 139h0M514.5 123.4h0M548.4 133.5h0M559.5 135.7h0M518.9 122.9h0M535.1 132.4h0M541.6 132.5h0M515.6 122.7h0M512.8 122h0M533.2 128.1h0M537.5 115.4h0M529.4 102.4h0M535.2 126.8h0M537.5 132.2h0M542.7 134.9h0" stroke="#ff7f00" stroke-width="2.4" stroke-linecap="round"/>
<path d="M466.3 139.2h0M462.9 142.3h0M467.7 132.6h0M479.3 137.7h0M472 121.2h0M479.9 121.7h0M477.3 128.7h0M472.3 126.6h0M474.7 129.8h0M460.7 122h0M465.6 128.8h0M468.5 133.7h0M466.4 146.9h0M470.3 137.5h0M461.7 138.9h0M462.6 126.4h0M469.6 135h0M469.7 142.7h0M473.9 136.7h0M466 145.4h0M458.7 121.7h0M465.2 131.8h0M476.5 106.3h0M461.4 136h0M463.2 138.8h0M474.4 120.8h0M470.5 132h0M462.4 124.4h0M470.2 124.4h0M468 139.3h0M466.6 120.3h0M463.2 138.9h0M465.1 129.6h0M474.1 117.9h0M471 125.9h0M466 126.5h0M458 138.7h0M468 124.2h0M478.1 126h0M475.7 132.3h0M466.6 127.3h0" stroke="#e41a1c" stroke-width="2.4" stroke-linecap="round"/>
<path d="M458.8 120.5h0M461.5 124.6h0M466 126.2h0M462.1 129.5h0M460.6 122.9h0M457.8 128.7h0" stroke="#984ea3" stroke-width="2.4" stroke-linecap="round"/>
<path d="M464.5 108.3h0M525.4 120.2h0M460 115.6h0M480.7 109.8h0M444.1 113.2h0M455.9 115.9h0M509.1 85.4h0M467.6 104h0M474.4 108.8h0M513.5 118.2h0M441.1 110.7h0M455.8 104.6h0M477.6 110h0M460.3 110.9h0M524.2 124.6h0M470.5 109.2h0M447.4 102.7h0M460.5 107.8h0M467.5 118.5h0M469.1 103h0M455.7 120.9h0M454 101.2h0M480 111.3h0M449.8 119.3h0M462.9 112.3h0M457.2 117h0M452.7 102.1h0M520.3 117.7h0M441.8 107.1h0M464.4 119.5h0M473.4 107.7h0M494.6 115.5h0M524.8 122h0M458.6 109.7h0M472.9 110.8h0M449.6 114.9h0M447.7 102.5h0M474.3 103.4h0M470.9 108.9h0M503.1 92.6h0M446.9 110.9h0M440.6 112.5h0M479 113h0M515.7 122.2h0M452.5 103.3h0M478.8 109.2h0M491.7 122.8h0M452.9 119.1h0M507.9 120.5h0M456.9 102.4h0M525 121h0M451.9 109.3h0M446 114.9h0M522.4 122.9h0M459.3 120.2h0M478 105.3h0M460.3 104.4h0M446.2 105.4h0M458.1 101.5h0M480.4 110.1h0M448.1 117.8h0M475.7 105.7h0M459 118.3h0M464.6 117.4h0M450.6 106.2h0M494.3 114.2h0M469.9 102.1h0M484.6 113.3h0M504.3 116.5h0M467.2 113.2h0M474.9 104h0M478.7 115.7h0M455.9 111h0M464.8 103.9h0M452.2 117.2h0M468.7 106.7h0" stroke="#377eb8" stroke-width="2.4" stroke-linecap="round"/>
<path d="M478.3 126.6h0M475.3 133.9h0M463.7 131.3h0M461.1 136.2h0M473.9 122.6h0M457.7 124.8h0M460.5 131.8h0M467 127.1h0M457.7 126.2h0M473.9 133.2h0M478.4 128.7h0M461.6 132.7h0M461 129.6h0M469 127.4h0M465 145.3h0M476.5 121.7h0M467.3 128.9h0M468.3 140.4h0M471.1 128.8h0M467.6 125.8h0M471.4 135.5h0M457.7 123h0M465.3 131.6h0M464.3 127.6h0M461 138.4h0M464.9 118.9h0M473.6 123.5h0M473.3 124.4h0M464.6 141.9h0M462 137.3h0M474.8 133.8h0M459.6 129.4h0M473.4 135.1h0M471.4 118.3h0M463.9 119.8h0M469.1 139.5h0M468.8 142.1h0M475.1 119.6h0M471 119.2h0M462.6 141.5h0M468.7 120.5h0" stroke="#e41a1c" stroke-width="2.4" stroke-linecap="round"/>
<path d="M488.9 105.3h0" stroke="#ffff33" stroke-width="2.4" stroke-linecap="round"/>
<path d="M493.4 86.6h0M499.9 63.3h0M499.4 67h0M490.6 102.5h0M488 95.3h0M496.3 72.1h0M503.3 53.2h0M495.5 75h0M497.1 79.8h0M494.9 83.1h0M499.6 69.5h0M496.5 76.5h0M491.9 86.4h0M488.1 97.1h0M497.1 69h0M508.8 81.8h0M502.2 56.4h0M492.2 95.3h0M494.7 83.6h0M490 95.5h0M494.7 94.1h0M502 60.1h0M501.7 58.1h0M497.5 80.2h0M489 91.9h0M501.9 58.1h0M490.4 103.3h0M490.8 79.8h0M497.4 74.3h0" stroke="#ffff33" stroke-width="2.4" stroke-linecap="round"/>
<path d="M495.9 87.4h0M499.2 65.3h0M500 60.3h0M496.4 98.7h0M495.8 92.5h0M496 78h0M493.1 88.4h0M500.6 68.8h0M490.9 91.5h0M495.7 79.9h0M489.2 99.8h0M496 79.4h0M501.6 59.9h0M493.3 78.7h0M497.7 71.9h0M501.2 59.4h0M496.7 87.8h0M496.2 99.4h0M490.8 92.1h0M492 85.9h0M503.2 54.8h0M495.8 76.2h0M502.7 59.8h0M487.6 95.5h0M498.1 78.7h0M502.2 53h0M496.4 77.3h0M486.5 95h0M503.8 51.7h0" stroke="#ffff33" stroke-width="2.4" stroke-linecap="round"/>
<path d="M470 105.6h0M475.3 112h0M470.9 108.3h0M446.6 105.4h0M473.3 118.5h0M526.7 125.4h0M503.9 117.7h0M452.4 109.6h0M500.1 117.5h0M461.9 101.7h0M525 123.2h0M447.8 115.9h0M480.4 109.1h0M522.4 121.2h0M448.6 113.4h0M454.7 120.6h0M466.6 105.9h0M451.6 111.2h0M453.8 117.6h0M453.7 109.4h0M466.7 117.1h0M463.8 107.6h0M487.4 115.4h0M460.3 106.9h0M455.9 104.6h0M469 109.4h0M481.8 112.6h0M475.7 115.4h0M481.7 111.3h0M472.8 110.6h0M508.6 119.5h0M467.8 108.6h0M458.1 120.9h0M499.1 111.1h0M511.5 122.2h0M448.7 107.8h0M448.4 116.1h0M443.4 114.6h0M482 108.9h0M498.5 118.5h0M476.3 111.5h0M504.9 116.1h0M452.5 117h0M499.2 115.4h0M442.3 109h0M472.9 110.6h0M492.8 117.9h0M491.9 115h0M462 109.5h0M484.7 111.1h0M446.3 112.5h0M506.9 119.6h0M514.5 124.4h0M475.4 112.5h0M478.6 105.2h0M445 113.5h0M446.5 103.8h0M472.7 103.7h0M454 119.2h0M481.4 107.9h0M455.7 101.5h0M461.5 118.5h0M506.1 118.7h0M476.8 113.3h0M441.9 109.2h0M469.5 119.4h0M479.3 111.8h0M473.2 108.2h0M495.2 115.7h0M461.2 115.2h0M461.3 107.7h0M472.3 116.6h0M460.2 119.7h0M459.2 118.4h0M504.3 115.5h0M443.5 109.9h0" stroke="#377eb8" stroke-width="2.4" stroke-linecap="round"/>
<path d="M483.6 99.7h0" stroke="#ffff33" stroke-width="2.4" stroke-linecap="round"/>
<path d="M459.1 133h0M469.7 134.2h0M466.4 124.8h0M469.4 119h0M468.9 125.6h0M469.5 123.6h0M461.5 129.9h0M469.6 120.1h0M474.4 118h0M472.1 137.9h0M467 127.7h0M466.4 135.7h0M466.8 140.9h0M477.3 124.8h0M460.1 125.5h0M462.6 128h0M464.2 125.9h0M461.7 119.1h0M474.9 127.5h0M463.8 121.9h0M470.9 120.6h0M470.2 131.6h0M458.1 125.7h0M477.7 129.1h0M461.1 139.6h0M463.9 126.8h0M479.8 123.2h0M472.3 122.9h0M471.4 140.4h0M465 123.1h0M471.3 121.2h0M475.2 132.1h0M463 122.6h0M474.3 129.4h0M478.2 127.7h0M471.8 133.3h0M466 146.7h0M462.8 136.7h0M476.4 133.5h0M463.3 128.8h0M464.2 134.7h0" stroke="#e41a1c" stroke-width="2.4" stroke-linecap="round"/>
<path d="M471.3 137.4h0M468.9 141.3h0M479.1 120.1h0M462.8 137.1h0M467.3 137.4h0M462 137.6h0M463 133.4h0M476.4 133h0M466.7 145.5h0M465.1 123.1h0M467.2 132.7h0M470.3 132.6h0M464.9 119.9h0M466.4 121.8h0M472.7 131.6h0M459.1 131.2h0M472 121.4h0M459.7 132.7h0M479.2 121.6h0M475 129.3h0M477.8 126.3h0M473.9 121.8h0M479.6 121.7h0M461.3 122.3h0M466.1 143.1h0M462.7 137.8h0M477.8 127.1h0M469.4 125.8h0M475.5 126.2h0M465.6 122.9h0M470.3 140.7h0M478.8 128.4h0M458.1 122.5h0M477.5 120.8h0M472.4 118.8h0M478.1 125.4h0M465.7 132.1h0M462.7 137.1h0M473.8 122.3h0M471.9 129.4h0M458.4 121h0" stroke="#e41a1c" stroke-width="2.4" stroke-linecap="round"/>
<path d="M483.5 96.5h0" stroke="#ffff33" stroke-width="2.4" stroke-linecap="round"/>
<path d="M543.6 132h0M550.1 137.3h0M544.4 134.5h0M540 130.3h0M515.4 124.9h0M554 134.2h0M549.4 133.8h0M539.6 131.5h0M562.4 137.9h0M561.9 136.6h0M563.6 139.7h0M521.1 124.8h0M518.5 121.8h0M546 131.3h0M536 129.3h0M523.1 104.2h0M521.1 120.8h0M533.5 130h0M562.7 140.2h0M563.3 138.8h0M530.8 128.7h0M531.2 130.5h0M548.8 130.6h0M525.9 127.6h0M533.1 126.2h0M549.6 135h0M552.7 133.4h0M563.3 141.1h0M553.8 135.5h0M559.1 137h0M515.6 122.7h0M556.5 134.1h0M539.3 135h0M557.2 142.9h0M538.9 137.4h0M560.4 135h0M538 122.8h0M558.2 140.7h0M563 139h0M528.3 127h0M556.3 138.6h0M505.1 127h0M556.4 141.6h0M550.8 136.2h0M560.4 140.9h0M563.3 137h0" stroke="#ff7f00" stroke-width="2.4" stroke-linecap="round"/>
<path d="M476.8 129.6h0M482.1 127.5h0M477.3 127.7h0M466.2 126.6h0M473.1 123.5h0M467.4 126.8h0" stroke="#377eb8" stroke-width="2.4" stroke-linecap="round"/>
<path d="M451.7 113.9h0M516.1 122.7h0M459.3 113.9h0M474.8 108.9h0M497.3 118.3h0M478.2 89.8h0M486.7 114.6h0M462.7 114.3h0M451.9 117.4h0M487.6 110.7h0M461.2 112.8h0M442.4 115.1h0M471 122h0M488.6 111.5h0M453.4 118.8h0M479.4 107.7h0M448.4 110.6h0M449.8 115.9h0M462.2 114.9h0M484.3 109.9h0M454.1 116.1h0M449.8 103.5h0M475.1 112.4h0M470.6 110.2h0M497.4 117.4h0M518.1 125.4h0M458.4 114.4h0M465.2 112.9h0M443.2 109.5h0M466.4 118.5h0M465.8 116.7h0M470.8 118.9h0M501.4 115.8h0M496.6 115.3h0M477 106.1h0M481.7 112.1h0M479.5 113h0M463.6 110.1h0M461.9 103.5h0M480 109.2h0M526.6 125.4h0M447.6 117h0M519.2 125.5h0M467.2 107h0M475.3 111.9h0M474.1 115.7h0M520.1 123.4h0M456.5 107.6h0M496.3 119.3h0M454.5 112.6h0M519.2 121.8h0M468 110.4h0M476.3 104.8h0M482.3 108.2h0M441.4 113.6h0M515.5 119.7h0M475.6 109.9h0M453.9 115.4h0M507 120.3h0M480.1 110.4h0M481.6 107.4h0M476.3 103.6h0M449.9 112.5h0M459.7 109.5h0M445.2 103.3h0M459.1 119.9h0M460.7 101.9h0M440.7 110.7h0M509.2 120.8h0M462 104.8h0M512.2 119.2h0M516.6 121.7h0M445.7 104.5h0M441.6 108.4h0M450.4 112.4h0M472.6 105.9h0" stroke="#377eb8" stroke-width="2.4" stroke-linecap="round"/>
<path d="M475.8 94.2h0" stroke="#ffff33" stroke-width="2.4" stroke-linecap="round"/>
<path d="M456.5 122.3h0M457.1 118.4h0M457.7 125.8h0M457.4 118.3h0M458.9 134.2h0M462.2 125.9h0" stroke="#984ea3" stroke-width="2.4" stroke-linecap="round"/>
<path d="M459.3 125.9h0M466.8 118.1h0M464.1 123.6h0M456.9 127.2h0M460 140.1h0M462.5 128h0" stroke="#984ea3" stroke-width="2.4" stroke-linecap="round"/>
<path d="M467.3 110.8h0M462.3 112.8h0M441.3 110.8h0M453.7 117.5h0M468.2 109.2h0M472.1 111.8h0M459.1 111.6h0M469.4 117.4h0M462.2 116.6h0M523 120.4h0M470.9 102h0M453.9 107.1h0M453.6 119h0M462.7 118.7h0M466.7 105.6h0M461.5 114.5h0M469.7 106.7h0M473.3 115.6h0M478.1 85h0M498 114.5h0M472.8 110.8h0M460 105.2h0M500.7 117.3h0M445.8 110.3h0M461.8 106.6h0M462.7 116.7h0M473.2 109.3h0M464.3 106.2h0M479.3 109.6h0M446.1 110.5h0M450.7 112.9h0M468.8 119.2h0M461.2 112.7h0M461.6 109h0M448.4 101.6h0M456.5 121.4h0M519.4 119.9h0M451.3 113.1h0M505.3 118h0M525.9 125.8h0M457 102.9h0M527.8 124.6h0M454.9 111.9h0M462.4 110.4h0M459.6 114.9h0M457.5 110.7h0M447.7 113h0M518 124.1h0M482.8 111h0M452.1 111.3h0M447.9 108.1h0M462.5 114.8h0M450.8 102.2h0M446.9 102.6h0M482.4 110.9h0M444.5 118.3h0M449.7 114.9h0M477.4 114.9h0M469.2 109.2h0M492.5 113.7h0M445.1 106h0M503.1 116.6h0M476.5 115.2h0M487.5 84.4h0M457.9 107.4h0M492.8 115h0M476.1 105.1h0M466.6 103.8h0M488.6 112.2h0M516.6 121.5h0M450.6 102.8h0M450.5 103.7h0M473.2 89.6h0M462.6 107.2h0M476.6 115.2h0M452.2 118.5h0" stroke="#377eb8" stroke-width="2.4" stroke-linecap="round"/>
<path d="M466.1 96.6h0M473.7 99h0" stroke="#ffff33" stroke-width="2.4" stroke-linecap="round"/>
<path d="M499.1 72.6h0M499.2 66.5h0M492.2 93.5h0M503.3 55h0M492.2 96.3h0M491.7 93.2h0M493.1 87.7h0M503.7 51.8h0M498 81.8h0M499.9 61.6h0M498.7 78.7h0M500.6 64h0M493.2 80.6h0M494.4 77.1h0M498.8 76.7h0M496.4 88.5h0M498.3 66.7h0M488.6 101.3h0M498.2 73.6h0M505.6 78.2h0M502.3 57.2h0M497 76.3h0M496.5 72.1h0M496.6 79.9h0M500.2 60.9h0M496.9 79.3h0M489.8 90.7h0M497.1 82.3h0M490.8 97.7h0" stroke="#ffff33" stroke-width="2.4" stroke-linecap="round"/>
<path d="M458.4 128.9h0M460.6 125.5h0M454.9 127.5h0M462.3 130.1h0M460.7 129.4h0M463.9 124.6h0" stroke="#984ea3" stroke-width="2.4" stroke-linecap="round"/>
<path d="M477.7 102.4h0M478.1 104h0" stroke="#ffff33" stroke-width="2.4" stroke-linecap="round"/>
<path d="M475 121.6h0M475.6 119.7h0M467.5 126.7h0M466.8 129.2h0M470.6 123.2h0M473 124.6h0" stroke="#377eb8" stroke-width="2.4" stroke-linecap="round"/>
<path d="M500.3 65.3h0M493.1 77.7h0M502.9 52.6h0M501.6 84.3h0M498.3 66h0M492.5 88.2h0M491.8 96h0M500 66.1h0M494.6 81.4h0M498.5 70.8h0M501.3 60.7h0M498.7 74.5h0M499.3 67.6h0M496.5 78.3h0M483.2 100.1h0M494.1 103.6h0M494.4 95.3h0M487.1 99.9h0M490.2 95.9h0M507 99.8h0M498.3 64.6h0M502.5 61.5h0M494 83.3h0M490.2 98.2h0M493.9 67.4h0M499.1 67.5h0M503.1 57.1h0M492 95.4h0M489.1 99.4h0M490.3 85.3h0" stroke="#ffff33" stroke-width="2.4" stroke-linecap="round"/>
<path d="M498.4 67.6h0M488.7 95.4h0M497.9 74.2h0M490.4 96.5h0M500.2 65.3h0M492.2 91.4h0M500.1 68.5h0M494.2 74.6h0M498.2 69.4h0M502.9 57.7h0M498.7 71h0M500.8 62.8h0M490.5 97.7h0M500.3 66.7h0M500.7 65.3h0M485.5 99.8h0M485.3 98.2h0M488 96h0M502.8 61.3h0M498.8 64h0M494.1 77.3h0M502 56.8h0M494 92h0M495.3 76.8h0M492.1 77.1h0M500.8 58.6h0M503.5 52.7h0M497.3 69.3h0M495.5 77.4h0" stroke="#ffff33" stroke-width="2.4" stroke-linecap="round"/>
<path d="M474.9 132.7h0M481.4 131h0M460.1 125.4h0M477 127.7h0M478.2 125.5h0M471.6 131.3h0M475.1 120.2h0M472.5 133.9h0M478.8 129.9h0M469 137h0M477.3 123.8h0M468.5 124.6h0M471.7 140.4h0M462.6 141.1h0M473.8 124.8h0M470.3 122.5h0M467.6 123.6h0M468.3 123.3h0M476.7 120.3h0M459.7 113.2h0M472.4 136.2h0M479.3 124.3h0M464.3 138.1h0M459.5 129.1h0M467.5 127.4h0M464 143.4h0M469.3 131.1h0M463.4 120.3h0M460.6 133.3h0M465.2 120.6h0M464.6 123.1h0M459 131.7h0M459.6 125.3h0M463.5 134h0M466.1 145.9h0M473.8 119.9h0M479.9 123.6h0M464.7 127.6h0M460.9 132.6h0M469.7 136h0M458.7 123.8h0" stroke="#e41a1c" stroke-width="2.4" stroke-linecap="round"/>
<path d="M474.9 120.8h0M468.6 129.4h0M472.8 128h0M470.3 122.3h0M474.6 124.6h0M468 127h0" stroke="#377eb8" stroke-width="2.4" stroke-linecap="round"/>
<path d="M498.9 65.5h0M492.3 95h0M492.2 80.3h0M490.7 102.2h0M502.7 54.5h0M499.2 72.5h0M497.9 69.8h0M490.5 94.7h0M493.7 94.2h0M496.6 72.4h0M499.5 64.4h0M491.9 88.7h0M494.8 99.9h0M503 53.3h0M494.7 78.9h0M501.4 60.5h0M493 98.4h0M500 63.6h0M510.8 83.1h0M490.6 91.9h0M501 61.5h0M502.3 55.7h0M496.3 68.3h0M489.8 96.5h0M492.4 88.7h0M496.6 76h0M503.5 53h0M492.9 93.9h0M491.9 85.5h0M494.7 83.6h0" stroke="#ffff33" stroke-width="2.4" stroke-linecap="round"/>
<path d="M467.8 140.4h0M464.9 121.3h0M460.8 133.3h0M458.9 125h0M470.3 118.2h0M474.2 126.3h0M467 135.9h0M466.6 146.5h0M465.4 137h0M465.8 128h0M475 128.2h0M461 124h0M460 119.9h0M466.7 121.6h0M479.2 127.2h0M474 131.1h0M481.5 118.9h0M477.9 122.7h0M467.7 131h0M459.1 127.4h0M466.6 124.7h0M454.1 119.3h0M460 125h0M467.1 128.2h0M467.7 127h0M475.5 124.7h0M476.5 132h0M466.1 139.6h0M476.6 126h0M466.7 137.6h0M467.2 129.4h0M465.9 122h0M468.1 120.2h0M460 120.6h0M468.5 135.7h0M466.9 139.6h0M459.2 135.1h0M477.5 120.6h0M474.4 136.4h0M465.3 137h0M465.9 144.2h0" stroke="#e41a1c" stroke-width="2.4" stroke-linecap="round"/>
<path d="M488.5 96.8h0M503.4 94.5h0M498.5 71.8h0M500.2 65.5h0M499 66h0M495.6 75.4h0M498.3 65.7h0M499.4 64.6h0M495.9 81.7h0M501.7 57.9h0M492.7 96.8h0M492.8 93.4h0M499.7 84.3h0M495.7 74.2h0M495.6 76.2h0M503.3 51.5h0M492.8 82.8h0M499.9 69.4h0M502.2 55.4h0M489 92.1h0M492.7 85h0M488.3 88.8h0M493 79.2h0M495.5 76.8h0M501.3 59.1h0M498.2 71.3h0M503 51.6h0M500.9 62.8h0M496.5 70h0" stroke="#ffff33" stroke-width="2.4" stroke-linecap="round"/>
<path d="M480.4 98.8h0M474.7 103.9h0" stroke="#ffff33" stroke-width="2.4" stroke-linecap="round"/>
<path d="M467.1 111h0" stroke="#ffff33" stroke-width="2.4" stroke-linecap="round"/>
<path d="M531.8 128.2h0M527.5 122.9h0M553.4 137.5h0M559.7 137.3h0M528.7 129.3h0M538 132.3h0M527.7 114h0M546.9 129.7h0M560.7 139.7h0M561.6 136.6h0M517.7 127.4h0M545.5 132.3h0M561.9 135.6h0M538.3 132.3h0M516.8 121.8h0M554.2 134.6h0M553.7 134.3h0M556.1 136.7h0M536.9 128.5h0M563.4 140h0M555.3 136.1h0M538.5 132.8h0M561.3 138.2h0M528.2 125.4h0M524.2 112.6h0M524.4 124.4h0M547.2 128.7h0M536.3 134.4h0M553.1 135.5h0M513.4 122.6h0M525.1 126.5h0M515.2 103.5h0M537.8 134.4h0M545.3 132.5h0M542.1 128h0M556.4 142.9h0M538.1 130.6h0M526.9 127.9h0M527.2 125.6h0M515.6 130.8h0M561.3 139.8h0M498.4 104.7h0M529.7 126.9h0M523.2 125.3h0M548.1 134.4h0M560 138.7h0" stroke="#ff7f00" stroke-width="2.4" stroke-linecap="round"/>
<path d="M522.4 120.9h0M446.5 109.5h0M468.5 117.4h0M512.3 117.3h0M457.5 118.6h0M455.7 108.1h0M458.9 110.9h0M491.5 114.8h0M469.4 102.3h0M471.4 105.3h0M510.7 118.1h0M446.8 112.4h0M470.4 115.4h0M457.9 113.8h0M452.2 106.3h0M480.5 107h0M473.4 104h0M482.3 97.7h0M468.3 107.6h0M468.8 114.2h0M503.3 115.1h0M446.6 118.4h0M457.7 108.5h0M451.4 109h0M447.6 114.6h0M446 104.3h0M464.8 105.2h0M522.2 122.1h0M459.9 109.6h0M467.9 113.2h0M482.9 112.9h0M473.1 110.3h0M468.5 110.7h0M462.2 112.5h0M460.1 114h0M476.7 111.1h0M446.6 112.3h0M460.3 118.5h0M448.1 108.2h0M500.5 115.4h0M474.8 105.9h0M527.8 124.1h0M442.2 111.6h0M456.2 102.5h0M456.7 103.3h0M458 101.8h0M454.6 111.5h0M514.2 124.1h0M501.9 116.6h0M453.2 111.3h0M470.8 109.9h0M479.7 115.3h0M509.6 119h0M476.7 116.1h0M519 119.6h0M504.2 117.7h0M476.3 109h0M462.4 118.6h0M451.6 109.8h0M508.6 119.3h0M458.3 108h0M468.5 104.4h0M510.2 120.4h0M453.6 118.4h0M471 111.5h0M466 106.4h0M446.3 106.9h0M466.4 114.3h0M475.3 111.9h0M455.6 115.2h0M474.7 113.4h0M519 119.6h0M458.4 117h0M472.1 111.6h0M452.6 105.9h0M475.8 113.8h0" stroke="#377eb8" stroke-width="2.4" stroke-linecap="round"/>
<path d="M474.1 124.1h0M467.7 119.5h0M463.9 123.9h0M473.5 120.5h0M460.6 124.7h0M462.4 124.1h0" stroke="#377eb8" stroke-width="2.4" stroke-linecap="round"/>
<path d="M522.9 126.5h0M544.5 120.6h0M524.5 112.7h0M512.2 122.7h0M534.9 130.6h0M545.9 134.5h0M534.8 129.5h0M554.5 135h0M501.2 127.5h0M516.6 124.2h0M547.7 135.2h0M557.4 137.1h0M518.3 123.7h0M537.6 129.4h0M535.4 131.6h0M525.8 128.2h0M559.9 140.6h0M544.9 134h0M517.8 80.1h0M531.4 129.8h0M557.4 141.5h0M530.2 127.7h0M545.5 138h0M551.7 135.9h0M553.7 136.3h0M562.8 143h0M554.1 136.5h0M533.1 128.3h0M559.6 137.8h0M537.9 133.6h0M543.7 130h0M546.9 135.7h0M539.5 133.5h0M556.4 137.4h0M548.1 137.3h0M543.5 131.6h0M543.9 132h0M528.7 125.2h0M538.3 128.7h0M545.8 129.6h0M532.5 133.1h0M551.2 135.5h0M538.6 133.4h0M547.9 134.1h0M527.4 125.8h0" stroke="#ff7f00" stroke-width="2.4" stroke-linecap="round"/>
<path d="M461.9 133.3h0M461.2 127.9h0M461.4 127.5h0M463.4 125.4h0M460.8 119.2h0M459.1 132.1h0" stroke="#984ea3" stroke-width="2.4" stroke-linecap="round"/>
<path d="M458.7 128.1h0M470.9 122.5h0M478.6 125.3h0M474.8 123.5h0M474.5 126.1h0M471.8 128.7h0" stroke="#377eb8" stroke-width="2.4" stroke-linecap="round"/>
<path d="M543.6 133.4h0M502.9 123.7h0M551.8 129.2h0M533.9 129.1h0M524.8 107.2h0M551.7 135.2h0M548.8 133.8h0M554.6 137.6h0M525.1 123.9h0M563.3 140.3h0M557.7 133.2h0M541.3 129.1h0M532.3 129.2h0M558 138.3h0M530.9 130h0M551.6 134.9h0M547.2 134.2h0M528.4 125.7h0M535 130.2h0M521.4 122h0M541.7 132.2h0M562.8 137.8h0M546.5 130.1h0M537.6 131.2h0M563.5 140.3h0M537.8 132.7h0M520.4 126h0M552.5 136.3h0M512.7 132.1h0M515.7 123.6h0M557.9 140.7h0M552.9 134.1h0M560.6 136.5h0M526.9 118.2h0M543.4 136.1h0M536.2 126.9h0M559.8 136.5h0M561.3 137.1h0M552.5 138.3h0M561.7 141h0M534.2 129.8h0M522.7 126.4h0M552.6 138.5h0M516.6 120.1h0M523.1 124.3h0M545.6 135.1h0" stroke="#ff7f00" stroke-width="2.4" stroke-linecap="round"/>
<path d="M457.8 129.1h0M465.5 118.9h0M463.3 139.8h0M467.1 142.5h0M467.8 123.5h0M474.3 136.2h0M459.6 122.8h0M455.8 137.6h0M472.6 121.3h0M478.3 125.1h0M468.7 135.4h0M466 141.3h0M466.7 137.7h0M462.8 127.8h0M476.9 123.6h0M467.7 133.1h0M465.5 136.2h0M467.1 120.4h0M474.2 134.5h0M464.2 137.3h0M464.6 132.7h0M479 125.5h0M460.7 126.3h0M465.6 138.2h0M463 142.2h0M468.9 123.7h0M475.1 125.8h0M462.6 140.9h0M468.8 129.3h0M472.7 131.9h0M461.3 125.7h0M466.8 144h0M469.3 125.7h0M471.4 130.4h0M467.6 142.2h0M465.5 135h0M477.1 128.3h0M467.6 143.2h0M479.3 125.4h0M470.3 133.6h0M471.6 134.3h0" stroke="#e41a1c" stroke-width="2.4" stroke-linecap="round"/>
<path d="M478.1 100.5h0M477.9 93.2h0" stroke="#ffff33" stroke-width="2.4" stroke-linecap="round"/>
<path d="M465.8 109.8h0M527.7 123.7h0M469.4 105.5h0M447.9 112.4h0M453.2 104.7h0M506.4 117.7h0M452.9 116.4h0M458.9 105.4h0M469.5 106.8h0M458.2 104.8h0M451.8 111.7h0M442 113.8h0M446.6 120.3h0M477.8 108.7h0M466.2 120.4h0M466.6 118h0M442.8 110.9h0M466 119.9h0M455.1 110.4h0M447.7 106.5h0M444.3 116.5h0M495.9 116.1h0M458.7 118h0M448.2 105.9h0M467.1 110.1h0M465.8 115.2h0M485.4 112.5h0M481.3 115h0M478.2 125.9h0M451.7 109.7h0M481.2 113.8h0M479.2 113.5h0M451.7 120h0M477.5 110.5h0M464.8 119.3h0M463.7 101.9h0M453.6 103h0M493.9 116.9h0M518.3 122.1h0M463.3 109.4h0M452.4 112.1h0M495.2 115.2h0M473.8 107.8h0M462.8 107.7h0M444.8 112.1h0M457.5 112.1h0M442.9 116.8h0M486 114.9h0M454.4 117.7h0M452.8 104.6h0M494 115.2h0M468.7 105h0M445.9 102.5h0M466.4 104.6h0M472.6 110.5h0M443.9 104.3h0M476.3 112.5h0M457.8 101.3h0M451.7 114.8h0M472.8 108.1h0M482.3 114.6h0M482.8 102.5h0M465.8 114.6h0M496.9 117.2h0M473 117.2h0M500.1 117.4h0M452.2 114.7h0M473.5 109.8h0M478.2 117.9h0M470.4 116.3h0M465.8 111.2h0M443.2 113.3h0M452 107.4h0M445.6 114.9h0M469.7 102.6h0M453.7 104.9h0" stroke="#377eb8" stroke-width="2.4" stroke-linecap="round"/>
<path d="M499.8 118.1h0M451.6 113.9h0M498.6 116h0M475.6 108.2h0M454.3 104.7h0M446 111.3h0M484.1 114.8h0M447.5 103.8h0M463.1 113.5h0M464.9 104.5h0M450.3 117.6h0M488.3 107.5h0M510.6 121.9h0M466.2 107.5h0M453.1 103.3h0M481.1 112.3h0M464.2 108.9h0M471.4 104.5h0M524.1 121.4h0M496 112.8h0M517.4 120.6h0M516 122.2h0M457 113.1h0M476.3 110.7h0M516.7 120.5h0M511.6 121.8h0M470.2 115.1h0M455.6 111.8h0M470.8 112.9h0M451.5 107.3h0M474.7 107.9h0M503.5 118.2h0M448.9 103.1h0M469.5 114.6h0M452.7 114.3h0M463.7 119.5h0M499.6 116.6h0M456.4 107.3h0M444.3 103.9h0M475.5 104.3h0M472.9 106h0M497.4 118h0M458.4 102.8h0M459.6 113h0M474.8 110.6h0M516.6 119.3h0M456.4 103.8h0M459.6 105.1h0M504.6 117.8h0M481.1 113.3h0M467.2 111.8h0M463.2 114h0M455.6 101.5h0M476.8 105.9h0M455.9 116.9h0M496 115h0M452.1 115.1h0M454.9 103.8h0M470.9 114.9h0M458.3 113.2h0M486.8 95.4h0M464.7 112.6h0M481.8 115.6h0M452.4 107.7h0M449.4 105.4h0M454.7 104.2h0M478.9 116.6h0M487.7 119.2h0M510.7 119.5h0M451.2 102.3h0M456.9 120.8h0M516 121.2h0M458.3 115.5h0M458.6 106.2h0M460.8 108.4h0M462.9 107.4h0" stroke="#377eb8" stroke-width="2.4" stroke-linecap="round"/>
<path d="M489.4 109.3h0M480 105.5h0M450.8 106.1h0M455.1 105.8h0M457.8 111.1h0M491.8 111.6h0M474.9 111.8h0M485.8 114.6h0M464 116.7h0M451.4 116.7h0M450.6 120h0M465.1 101.3h0M478.8 99.7h0M474.9 108.4h0M464 119h0M508.6 123.1h0M457.3 111.8h0M483.4 103.7h0M461.9 107.2h0M442.5 105.5h0M451.5 119.7h0M444.4 115.6h0M445.7 117.1h0M491.3 115.2h0M499 116.7h0M457 105h0M457.9 118.4h0M450 107.3h0M464.7 110.3h0M483.4 114.6h0M473.6 108.1h0M445.5 110.6h0M449.7 116.7h0M447.3 117.7h0M451.6 101.4h0M481.6 109.1h0M491.3 118h0M478.9 108h0M525.7 126.6h0M474.9 108.4h0M472.5 112h0M480.9 111h0M459.2 109h0M499.2 115.5h0M456.3 110.7h0M455.1 102.3h0M481.4 111.6h0M459.8 120.5h0M454.2 108.9h0M465.5 111.3h0M481.8 108.2h0M452.9 107.4h0M452.3 113.7h0M469.6 110.2h0M461.8 115.8h0M468.9 104.9h0M470.2 106.2h0M483.2 113.5h0M481.4 110.9h0M461.8 105.9h0M501.4 118.3h0M461.9 116.1h0M467.3 119.7h0M459.4 106.6h0M462.6 106.8h0M477.7 115.4h0M448.3 114.1h0M483.9 112.3h0M453.6 113.3h0M444.9 112h0M465 115h0M443.4 116.6h0M470.8 101.6h0M478.8 107.4h0M490 114.1h0M460 102.9h0" stroke="#377eb8" stroke-width="2.4" stroke-linecap="round"/>
<path d="M476.7 102.7h0M486.5 103.2h0" stroke="#ffff33" stroke-width="2.4" stroke-linecap="round"/>
<text x="-1" y="16.7" font-family="'Liberation Serif', serif" font-size="26" fill="#000" font-weight="bold" textLength="12.4" lengthAdjust="spacingAndGlyphs">a</text>
<text x="161.7" y="35.8" font-family="'Liberation Sans', sans-serif" font-size="15.8" fill="#000" font-weight="bold" textLength="29.3" lengthAdjust="spacingAndGlyphs" stroke="#000" stroke-width="0.45">RRR</text>
<text x="358" y="35.8" font-family="'Liberation Sans', sans-serif" font-size="15.8" fill="#000" font-weight="bold" textLength="29.7" lengthAdjust="spacingAndGlyphs" stroke="#000" stroke-width="0.45">CCA</text>
<text x="554.9" y="35.8" font-family="'Liberation Sans', sans-serif" font-size="15.8" fill="#000" font-weight="bold" textLength="37.6" lengthAdjust="spacingAndGlyphs" stroke="#000" stroke-width="0.45">NMA</text>
<text x="618.5" y="7.5" font-family="'Liberation Sans', sans-serif" font-size="11" fill="#000" font-weight="bold" textLength="28.9" lengthAdjust="spacingAndGlyphs">t-type</text>
<rect x="630" y="16.2" width="7" height="33.2" fill="#e94849"/>
<line x1="637" y1="32.8" x2="640.8" y2="32.8" stroke="#222" stroke-width="1"/>
<text x="643.7" y="37.8" font-family="'Liberation Sans', sans-serif" font-size="10.8" fill="#1a1a1a">Vip</text>
<rect x="630" y="49.5" width="7" height="33.2" fill="#5f98c6"/>
<line x1="637" y1="66.1" x2="640.8" y2="66.1" stroke="#222" stroke-width="1"/>
<text x="643.7" y="71.1" font-family="'Liberation Sans', sans-serif" font-size="10.8" fill="#1a1a1a">Sst</text>
<rect x="630" y="82.7" width="7" height="33.2" fill="#ad71b5"/>
<line x1="637" y1="99.3" x2="640.8" y2="99.3" stroke="#222" stroke-width="1"/>
<text x="643.7" y="104.3" font-family="'Liberation Sans', sans-serif" font-size="10.8" fill="#1a1a1a">Sncg</text>
<rect x="630" y="116" width="7" height="33.2" fill="#ff9933"/>
<line x1="637" y1="132.6" x2="640.8" y2="132.6" stroke="#222" stroke-width="1"/>
<text x="643.7" y="137.6" font-family="'Liberation Sans', sans-serif" font-size="10.8" fill="#1a1a1a">Pvalb</text>
<rect x="630" y="149.2" width="7" height="33.2" fill="#ffff5c"/>
<line x1="637" y1="165.8" x2="640.8" y2="165.8" stroke="#222" stroke-width="1"/>
<text x="643.7" y="170.8" font-family="'Liberation Sans', sans-serif" font-size="10.8" fill="#1a1a1a">Lamp5</text>
<rect x="630" y="182.4" width="7" height="33.2" fill="#adadad"/>
<line x1="637" y1="199.1" x2="640.8" y2="199.1" stroke="#222" stroke-width="1"/>
<text x="643.7" y="204.1" font-family="'Liberation Sans', sans-serif" font-size="10.8" fill="#1a1a1a">Serpinf1</text>
<text x="0" y="247.9" font-family="'Liberation Serif', serif" font-size="26" fill="#000" font-weight="bold" textLength="13" lengthAdjust="spacingAndGlyphs">b</text>
<rect x="51.5" y="255.5" width="181" height="207.5" fill="none" stroke="#444" stroke-width="1"/>
<line x1="46" y1="263.1" x2="51.5" y2="263.1" stroke="#444" stroke-width="1"/>
<text x="37.6" y="263.1" font-family="'Liberation Sans', sans-serif" font-size="10" fill="#333" text-anchor="middle" transform="rotate(-90 37.6 263.1)">1.0</text>
<line x1="46" y1="311.1" x2="51.5" y2="311.1" stroke="#444" stroke-width="1"/>
<text x="37.6" y="311.1" font-family="'Liberation Sans', sans-serif" font-size="10" fill="#333" text-anchor="middle" transform="rotate(-90 37.6 311.1)">0.5</text>
<line x1="46" y1="359.2" x2="51.5" y2="359.2" stroke="#444" stroke-width="1"/>
<text x="37.6" y="359.2" font-family="'Liberation Sans', sans-serif" font-size="10" fill="#333" text-anchor="middle" transform="rotate(-90 37.6 359.2)">0.0</text>
<line x1="46" y1="407.2" x2="51.5" y2="407.2" stroke="#444" stroke-width="1"/>
<text x="37.6" y="407.2" font-family="'Liberation Sans', sans-serif" font-size="10" fill="#333" text-anchor="middle" transform="rotate(-90 37.6 407.2)">-0.5</text>
<line x1="46" y1="455.3" x2="51.5" y2="455.3" stroke="#444" stroke-width="1"/>
<text x="37.6" y="455.3" font-family="'Liberation Sans', sans-serif" font-size="10" fill="#333" text-anchor="middle" transform="rotate(-90 37.6 455.3)">-1.0</text>
<text x="13.4" y="359" font-family="'Liberation Sans', sans-serif" font-size="10.2" fill="#333" text-anchor="middle" textLength="75" lengthAdjust="spacingAndGlyphs" transform="rotate(-90 13.4 359)">Silhouette Value</text>
<line x1="86.5" y1="326" x2="86.5" y2="350.7" stroke="#333" stroke-width="1" stroke-dasharray="3 2.5"/>
<line x1="86.5" y1="378.9" x2="86.5" y2="420.6" stroke="#333" stroke-width="1" stroke-dasharray="3 2.5"/>
<line x1="75.2" y1="326" x2="97.8" y2="326" stroke="#555" stroke-width="1.1"/>
<line x1="75.2" y1="420.6" x2="97.8" y2="420.6" stroke="#555" stroke-width="1.1"/>
<rect x="64" y="350.7" width="45" height="28.2" fill="#fff" stroke="#777" stroke-width="1.1"/>
<line x1="64.5" y1="362.9" x2="108.5" y2="362.9" stroke="#000" stroke-width="2.2"/>
<line x1="142.2" y1="284.5" x2="142.2" y2="305.3" stroke="#333" stroke-width="1" stroke-dasharray="3 2.5"/>
<line x1="142.2" y1="345.3" x2="142.2" y2="404.2" stroke="#333" stroke-width="1" stroke-dasharray="3 2.5"/>
<line x1="130.9" y1="284.5" x2="153.5" y2="284.5" stroke="#555" stroke-width="1.1"/>
<line x1="130.9" y1="404.2" x2="153.5" y2="404.2" stroke="#555" stroke-width="1.1"/>
<rect x="119.7" y="305.3" width="45" height="40" fill="#fff" stroke="#777" stroke-width="1.1"/>
<line x1="120.2" y1="319.9" x2="164.2" y2="319.9" stroke="#000" stroke-width="2.2"/>
<line x1="197.9" y1="274.3" x2="197.9" y2="281.7" stroke="#333" stroke-width="1" stroke-dasharray="3 2.5"/>
<line x1="197.9" y1="323.3" x2="197.9" y2="386.3" stroke="#333" stroke-width="1" stroke-dasharray="3 2.5"/>
<line x1="186.6" y1="274.3" x2="209.2" y2="274.3" stroke="#555" stroke-width="1.1"/>
<line x1="186.6" y1="386.3" x2="209.2" y2="386.3" stroke="#555" stroke-width="1.1"/>
<rect x="175.4" y="281.7" width="45" height="41.6" fill="#fff" stroke="#777" stroke-width="1.1"/>
<line x1="175.9" y1="286.6" x2="219.9" y2="286.6" stroke="#000" stroke-width="2.2"/>
<line x1="86.4" y1="463" x2="86.4" y2="468.5" stroke="#444" stroke-width="1"/>
<text x="86.4" y="484.4" font-family="'Liberation Sans', sans-serif" font-size="10" fill="#333" text-anchor="middle">RRR</text>
<line x1="142.2" y1="463" x2="142.2" y2="468.5" stroke="#444" stroke-width="1"/>
<text x="142.2" y="484.4" font-family="'Liberation Sans', sans-serif" font-size="10" fill="#333" text-anchor="middle">CCA</text>
<line x1="197.6" y1="463" x2="197.6" y2="468.5" stroke="#444" stroke-width="1"/>
<text x="197.6" y="484.4" font-family="'Liberation Sans', sans-serif" font-size="10" fill="#333" text-anchor="middle">NMA</text>
<text x="251.5" y="247.8" font-family="'Liberation Serif', serif" font-size="26" fill="#000" font-weight="bold" textLength="10.5" lengthAdjust="spacingAndGlyphs">c</text>
<text x="265.5" y="282" font-family="'Liberation Sans', sans-serif" font-size="11.6" fill="#222" textLength="20.9" lengthAdjust="spacingAndGlyphs">0.03</text>
<text x="267.8" y="306.5" font-family="'Liberation Sans', sans-serif" font-size="11.6" fill="#222" textLength="20.9" lengthAdjust="spacingAndGlyphs">0.02</text>
<text x="269.5" y="329.9" font-family="'Liberation Sans', sans-serif" font-size="11.6" fill="#222" textLength="20.9" lengthAdjust="spacingAndGlyphs">0.01</text>
<text x="271.5" y="350.6" font-family="'Liberation Sans', sans-serif" font-size="11.6" fill="#222" textLength="20.9" lengthAdjust="spacingAndGlyphs">0.00</text>
<text x="271.5" y="373.1" font-family="'Liberation Sans', sans-serif" font-size="11.6" fill="#222" textLength="23.7" lengthAdjust="spacingAndGlyphs">-0.01</text>
<text x="273.3" y="393.9" font-family="'Liberation Sans', sans-serif" font-size="11.6" fill="#222" textLength="23.7" lengthAdjust="spacingAndGlyphs">-0.02</text>
<text x="278.5" y="403.8" font-family="'Liberation Sans', sans-serif" font-size="11.6" fill="#222" textLength="23.7" lengthAdjust="spacingAndGlyphs">-0.02</text>
<text x="288.9" y="410.8" font-family="'Liberation Sans', sans-serif" font-size="11.6" fill="#222" textLength="23.7" lengthAdjust="spacingAndGlyphs">-0.01</text>
<text x="302.8" y="418.4" font-family="'Liberation Sans', sans-serif" font-size="11.6" fill="#222" textLength="20.9" lengthAdjust="spacingAndGlyphs">0.00</text>
<text x="316" y="426" font-family="'Liberation Sans', sans-serif" font-size="11.6" fill="#222" textLength="20.9" lengthAdjust="spacingAndGlyphs">0.01</text>
<text x="332" y="435.5" font-family="'Liberation Sans', sans-serif" font-size="11.6" fill="#222" textLength="20.9" lengthAdjust="spacingAndGlyphs">0.02</text>
<text x="350.6" y="446.9" font-family="'Liberation Sans', sans-serif" font-size="11.6" fill="#222" textLength="20.9" lengthAdjust="spacingAndGlyphs">0.03</text>
<text x="389.9" y="443.8" font-family="'Liberation Sans', sans-serif" font-size="11.6" fill="#222" textLength="20.9" lengthAdjust="spacingAndGlyphs">0.00</text>
<text x="409.3" y="425.3" font-family="'Liberation Sans', sans-serif" font-size="11.6" fill="#222" textLength="20.9" lengthAdjust="spacingAndGlyphs">0.02</text>
<text x="424.3" y="410.2" font-family="'Liberation Sans', sans-serif" font-size="11.6" fill="#222" textLength="20.9" lengthAdjust="spacingAndGlyphs">0.04</text>
<text x="436.1" y="399.3" font-family="'Liberation Sans', sans-serif" font-size="11.6" fill="#222" textLength="20.9" lengthAdjust="spacingAndGlyphs">0.06</text>
<rect x="454.2" y="385" width="6" height="20" fill="#fff"/>
<polygon points="287.5,276.7 383.4,263.9 451.2,277.5 366.3,283" fill="#f2f2f2" stroke="none" stroke-width="0"/>
<polygon points="287.5,276.7 366.3,283 366.5,365 294.5,389.5" fill="#e2e2e2" fill-opacity="0.7"/>
<polygon points="366.3,283 451.2,277.5 446.5,383 366.5,365" fill="#ebebeb" stroke="none" stroke-width="0"/>
<polygon points="294.5,389.5 366.5,365 446.5,383 383,435.5" fill="#ebebeb" stroke="none" stroke-width="0"/>
<path d="M299.9 277.7L305.6 385.7M325.6 279.7L328.9 377.8M346.5 281.4L348.1 371.3M363.7 282.8L364.1 365.8M304.1 386.2L392.8 427.4M325.8 378.8L413.3 410.4M343.8 372.7L428.8 397.6M359.1 367.5L440.9 387.6M368.7 282.8L368.8 365.5M296.5 390.5L368.6 365.5M380.4 282.1L380 368M306.6 395.8L379.2 367.8M393.2 281.3L392.1 370.8M318.3 401.9L390.8 370.5M407.1 280.4L405.2 373.7M331.9 409L403.7 373.4M422.3 279.4L419.5 376.9M348.1 417.4L418.2 376.6M439 278.3L435.2 380.5M367.6 427.5L434.4 380.3M287.7 280.4L366.3 285.6M366.3 285.6L451.1 280.9M289.1 303L366.3 301.8M366.3 301.5L450.1 301.6M290.5 324.9L366.4 317.6M366.4 317.2L449.2 321.9M291.8 346.1L366.4 333M366.4 332.6L448.3 341.7M293.1 366.6L366.5 348M366.5 347.8L447.5 361.1M294.3 386.4L366.5 362.7M366.5 362.6L446.6 380" stroke="#ffffff" stroke-width="1.3" fill="none"/>
<path d="M300 277.7L395.7 266.4M325.8 279.8L419.1 271.1M346.7 281.4L436.3 274.5M363.8 282.8L449.3 277.1M289.7 276.4L368.6 282.9M301 274.9L380 282.1M314 273.2L392.5 281.3M329 271.2L406.4 280.4M346.5 268.8L421.6 279.4M367.2 266.1L438.7 278.3" stroke="#ffffff" stroke-width="0.9" fill="none"/>
<path d="M287.5 276.7L366.3 283M366.3 283L451.2 277.5M366.3 283L366.5 365M287.5 276.7L294.5 389.5M451.2 277.5L446.5 383M294.5 389.5L366.5 365M366.5 365L446.5 383M287.5 276.7L383.4 263.9M383.4 263.9L451.2 277.5M294.5 389.5L383 435.5M383 435.5L446.5 383" stroke="#d6d6d6" stroke-width="0.7" fill="none"/>
<path d="M296.5 390.5L294.3 394.7M306.6 395.8L304.4 400M318.3 401.9L316.1 406.1M331.9 409L329.7 413.2M348.1 417.4L345.9 421.6M367.6 427.5L365.4 431.7M392.8 427.4L395.6 432.2M413.3 410.4L416.1 415.2M428.8 397.6L431.6 402.4M440.9 387.6L443.7 392.4" stroke="#444" stroke-width="0.8" fill="none"/>
<text x="475" y="279" font-family="'Liberation Sans', sans-serif" font-size="11.6" fill="#222" textLength="20.9" lengthAdjust="spacingAndGlyphs">0.03</text>
<text x="477.3" y="304.1" font-family="'Liberation Sans', sans-serif" font-size="11.6" fill="#222" textLength="20.9" lengthAdjust="spacingAndGlyphs">0.02</text>
<text x="479" y="328.1" font-family="'Liberation Sans', sans-serif" font-size="11.6" fill="#222" textLength="20.9" lengthAdjust="spacingAndGlyphs">0.01</text>
<text x="481" y="349.4" font-family="'Liberation Sans', sans-serif" font-size="11.6" fill="#222" textLength="20.9" lengthAdjust="spacingAndGlyphs">0.00</text>
<text x="481" y="372.5" font-family="'Liberation Sans', sans-serif" font-size="11.6" fill="#222" textLength="23.7" lengthAdjust="spacingAndGlyphs">-0.01</text>
<text x="482.8" y="393.9" font-family="'Liberation Sans', sans-serif" font-size="11.6" fill="#222" textLength="23.7" lengthAdjust="spacingAndGlyphs">-0.02</text>
<text x="488" y="403.8" font-family="'Liberation Sans', sans-serif" font-size="11.6" fill="#222" textLength="23.7" lengthAdjust="spacingAndGlyphs">-0.02</text>
<text x="498.4" y="410.8" font-family="'Liberation Sans', sans-serif" font-size="11.6" fill="#222" textLength="23.7" lengthAdjust="spacingAndGlyphs">-0.01</text>
<text x="512.3" y="418.4" font-family="'Liberation Sans', sans-serif" font-size="11.6" fill="#222" textLength="20.9" lengthAdjust="spacingAndGlyphs">0.00</text>
<text x="525.5" y="426" font-family="'Liberation Sans', sans-serif" font-size="11.6" fill="#222" textLength="20.9" lengthAdjust="spacingAndGlyphs">0.01</text>
<text x="541.5" y="435.5" font-family="'Liberation Sans', sans-serif" font-size="11.6" fill="#222" textLength="20.9" lengthAdjust="spacingAndGlyphs">0.02</text>
<text x="560.1" y="446.9" font-family="'Liberation Sans', sans-serif" font-size="11.6" fill="#222" textLength="20.9" lengthAdjust="spacingAndGlyphs">0.03</text>
<text x="602.2" y="443.5" font-family="'Liberation Sans', sans-serif" font-size="11.6" fill="#222" textLength="20.9" lengthAdjust="spacingAndGlyphs">0.00</text>
<text x="621.6" y="425" font-family="'Liberation Sans', sans-serif" font-size="11.6" fill="#222" textLength="20.9" lengthAdjust="spacingAndGlyphs">0.02</text>
<text x="636.6" y="409.9" font-family="'Liberation Sans', sans-serif" font-size="11.6" fill="#222" textLength="20.9" lengthAdjust="spacingAndGlyphs">0.04</text>
<text x="648.4" y="399" font-family="'Liberation Sans', sans-serif" font-size="11.6" fill="#222" textLength="20.9" lengthAdjust="spacingAndGlyphs">0.06</text>
<polygon points="496.7,273.5 594.1,260.1 664.4,274.6 577.5,280.5" fill="#f2f2f2" stroke="none" stroke-width="0"/>
<polygon points="496.7,273.5 577.5,280.5 577.8,363.5 504.1,389.4" fill="#e2e2e2" fill-opacity="0.7"/>
<polygon points="577.5,280.5 664.4,274.6 657.6,382.4 577.8,363.5" fill="#ebebeb" stroke="none" stroke-width="0"/>
<polygon points="504.1,389.4 577.8,363.5 657.6,382.4 593.2,436" fill="#ebebeb" stroke="none" stroke-width="0"/>
<path d="M509.5 274.6L515.6 385.4M536.1 276.9L539.5 376.9M557.5 278.8L559.2 370.1M574.9 280.3L575.4 364.3M513.9 385.9L603 427.8M536.1 378.1L623.7 410.6M554.6 371.7L639.5 397.5M570.2 366.2L651.8 387.2M579.9 280.3L580 364M506.1 390.5L579.9 364M591.8 279.5L591.1 366.7M516.6 395.9L590.6 366.5M604.7 278.7L603.2 369.5M528.6 402.2L602.4 369.3M618.9 277.7L616.3 372.6M542.5 409.5L615.3 372.4M634.5 276.6L630.5 376M558.8 418L629.7 375.8M651.8 275.5L646.2 379.7M578.1 428.1L645.8 379.6M496.9 277.3L577.5 283.1M577.5 283.2L664.2 278.1M498.4 300.6L577.6 299.5M577.6 299.5L662.8 299.7M499.9 323.1L577.6 315.5M577.6 315.5L661.5 320.6M501.3 344.8L577.7 331.1M577.7 331.1L660.2 340.9M502.6 365.9L577.7 346.3M577.7 346.3L659 360.4M503.9 386.2L577.8 361.2M577.8 361.2L657.8 379.4" stroke="#ffffff" stroke-width="1.3" fill="none"/>
<path d="M509.4 274.6L606.6 262.7M535.8 276.9L630.7 267.6M557.2 278.7L648.6 271.3M574.9 280.3L662.4 274.2M499 273.2L579.9 280.3M510.7 271.6L591.6 279.5M524 269.7L604.5 278.7M539.4 267.6L618.7 277.7M557.1 265.2L634.3 276.6M578 262.3L651.7 275.5" stroke="#ffffff" stroke-width="0.9" fill="none"/>
<path d="M496.7 273.5L577.5 280.5M577.5 280.5L664.4 274.6M577.5 280.5L577.8 363.5M496.7 273.5L504.1 389.4M664.4 274.6L657.6 382.4M504.1 389.4L577.8 363.5M577.8 363.5L657.6 382.4M496.7 273.5L594.1 260.1M594.1 260.1L664.4 274.6M504.1 389.4L593.2 436M593.2 436L657.6 382.4" stroke="#d6d6d6" stroke-width="0.7" fill="none"/>
<path d="M506.1 390.5L503.9 394.7M516.6 395.9L514.4 400.1M528.6 402.2L526.4 406.4M542.5 409.5L540.3 413.7M558.8 418L556.6 422.2M578.1 428.1L575.9 432.3M603 427.8L605.8 432.6M623.7 410.6L626.5 415.4M639.5 397.5L642.3 402.3M651.8 387.2L654.6 392" stroke="#444" stroke-width="0.8" fill="none"/>
<path d="M323.1 326.2h0M320.2 347.8h0M330.3 338.9h0M321.4 358.4h0M328.2 345.6h0M325.3 332.6h0M327 382.4h0M330.2 333.1h0M324.3 358.7h0M328.8 359.2h0M321.8 367.3h0M327.5 362.1h0M322.6 365.3h0M322.3 362.5h0M323.7 344.5h0M319.8 379.9h0M323.3 369.6h0M321.6 382.7h0M325.4 341.3h0M320.5 323.2h0M320.2 348.9h0M318 349.8h0M321.1 355.9h0M327.2 375.7h0M326.6 376.7h0M325.8 367.6h0M326.1 333.6h0M328.7 335.8h0M331 353.3h0M330.1 342.6h0M330.9 363.7h0M319.2 342.3h0M325.9 329.6h0M328.5 326.1h0M327.6 328.1h0M325 331.5h0M321.2 357.6h0M317 355.8h0M317.7 347.3h0M326.3 352.3h0M323.6 340h0M327.8 355.4h0M318.1 349.5h0M328.8 380.6h0M327.4 344.8h0M330.3 344.9h0M323 344.7h0M321.4 355.5h0M328.1 331.9h0M322.7 379.5h0M317.9 340.9h0M324.8 324.4h0M328.7 379.2h0M323.8 358.4h0M318.7 325.7h0M329.6 357.2h0M324.4 345.1h0M322.3 330.9h0M320.7 371.4h0M320.8 319.5h0M330.3 363.7h0M319 381.5h0M320.8 379.4h0M326.6 381h0M322.4 335.8h0M329.6 348.4h0M328.9 351.2h0M318.3 352.7h0M325.1 346.8h0M317.1 362.3h0M330.3 365.2h0M330.2 373.7h0M322.5 337.3h0M317.9 349h0M327.1 320.9h0M327.6 333.3h0M320.3 332.8h0M325.5 344.8h0M328.2 337.3h0M327.1 369.2h0M321.5 333.3h0M319.7 386.1h0M329.9 338.7h0M322.5 355.4h0M321 322.6h0M318.4 344.2h0M319 370.5h0M321.9 377.3h0M319.7 346h0M330 339.8h0M321.5 320.4h0M324.4 322.9h0M328.1 366.4h0M318.6 347.9h0M324.9 364h0M330.6 337.2h0M329.8 344.9h0M330.4 344.1h0M321.2 353.9h0M321.5 343.8h0M318.4 336.5h0M330.7 350.7h0M317 344.8h0M316.9 346.9h0M318.7 373.6h0M322.1 372.3h0M329.4 340.1h0M325.6 379.2h0M325.8 359.2h0M317.6 364.2h0M327.3 335.9h0M330 353.5h0M317.4 334.1h0M328.9 357.7h0M323.7 364.7h0M321.6 360.5h0M328.3 341.6h0M318.9 325.9h0M323.5 377.8h0M326.6 374.4h0M324 336.1h0M324 386.8h0M323.2 328.7h0M321.3 365.9h0M330.6 368.2h0M319.2 326.6h0M329.2 344.2h0M320.8 366.1h0M317.8 325.7h0M324.5 319.7h0M327 325.1h0M324.2 363h0M329.3 345.4h0M330 370h0M323.7 356.3h0M329.6 363.9h0M329.5 343.6h0M324.8 385.5h0M317.6 326.9h0M324.1 377h0M324.8 378.7h0M319.3 321.9h0M318.3 371.7h0M326 369.4h0M317.2 334.1h0M330.8 344.7h0M318.6 374.8h0M319.3 364.5h0M326.1 341.5h0M325.5 338.3h0M328.8 365.4h0M321.9 343.2h0M328 370.2h0M320 357h0M323.5 357.2h0M322.8 341.8h0M325 325.2h0M322.8 361.9h0M322.1 377.8h0M317.2 347.3h0M328.2 372.3h0M330.8 347.1h0M329.9 351.7h0M322.8 360.6h0M320.6 364.8h0M327.7 347.8h0M324.3 382.7h0M325.6 352.8h0M323.6 371.7h0M328.9 321.5h0M324.8 387.2h0M318.3 376.2h0M323.5 335.9h0M326.6 367.2h0M330.9 345.1h0M321.7 323.3h0M326.8 354.2h0M322.1 351.1h0M324 366.3h0M330.8 358.8h0M324.7 383.2h0M321.8 353h0M323.2 326.6h0M323.7 327.7h0M325.6 383.4h0M330.1 372.2h0M318.7 342.1h0M325.5 341.9h0M328.2 349.6h0M317.2 372.9h0M318.4 365h0M326.4 371.7h0M329.3 372.2h0M328.3 369.6h0M328.4 351.5h0M323.5 328.1h0M323.1 360.2h0M322.1 348h0M321.3 373.3h0M318.4 351.4h0M326.3 338.3h0M324.5 357.1h0M325.5 330.5h0M326 332h0M327 371.4h0M323.9 356.4h0M318.9 369.7h0M325.7 360.7h0M328.8 342.5h0M325.4 320.1h0M319.1 330.8h0M320.1 354.4h0M320.7 350.8h0M330 355h0M327.2 347.8h0M318.9 321.9h0M317.8 352.8h0M329.1 379.7h0M325.4 353.1h0M319 339.2h0M323.4 343.9h0M319.3 383h0M327.8 321.5h0M327.9 347.2h0M331.1 359.4h0M326.3 382.7h0M321.9 366.1h0M325 328.5h0M328.5 324.6h0M323.2 352h0M330.8 367h0M325.9 369.7h0M321.5 362.8h0M327.1 343.1h0M327.6 321.6h0M327.3 323.1h0M322 374h0M326.6 338.3h0M325.9 374.1h0M323.4 359.2h0M319.3 321.8h0M327.4 384h0M317.2 343.6h0M325.8 340.5h0M318.9 366h0M323 347.7h0M330.3 366.9h0M324 339.9h0M321.7 351.1h0M324.7 378.4h0M323.4 331.1h0M323.2 333.7h0M317.6 329.5h0M329.2 326.3h0M319.3 385.1h0M328 363.7h0M322.5 322.8h0M320.3 331.8h0M320.2 353.5h0M321.3 349.6h0M318.1 376.5h0M328.1 321.1h0M329.9 330.5h0M322.5 350.4h0M322.6 329h0M322.6 330.6h0M327 341.7h0M329 324.3h0M321.2 349.7h0M322.1 335.9h0M322.8 369.5h0M328.6 359.5h0M324.6 366.7h0M320.3 377.9h0M323 334.2h0M330.4 338.2h0M327.5 369.4h0M319.6 352.7h0M328 329h0M317.4 333.4h0M321.5 369.1h0M330.6 366h0M328.1 367.6h0M326.9 327.1h0M317.5 356.8h0M327.6 322.4h0M326.7 380.3h0M327.6 373.2h0M320.5 365.5h0M328.5 326h0M321.6 343.4h0M320.2 344.4h0M327.4 322.2h0M317.4 343.3h0M328.9 368.8h0M331.6 350.2h0M320.6 387h0M326 364.7h0M320.1 361.1h0M328.6 333.1h0M326.7 369.2h0M325.9 360.5h0M326.3 356h0M322.9 356.9h0M321.2 382.2h0M324.7 327.9h0M319.2 339.4h0M328.6 363h0M320.5 367.4h0M326 379.7h0M330.3 365.6h0M330 377.3h0M329.9 361.7h0M326.5 357.4h0M320.3 348.5h0M323.2 332.4h0M325 343.6h0M329.3 367.6h0M318.4 322.9h0M324.2 325.9h0M317.7 324.2h0M319.6 353.7h0M319.9 333.2h0M318.2 330.9h0M329.5 349.4h0M318.3 344.4h0M326.3 358.7h0M319.2 343.9h0M328.1 324h0M320.3 371.4h0M319.5 329.8h0M326.1 381.7h0M325.8 344.2h0M325.7 367.3h0M328.6 358.6h0M327.8 324.8h0M329.6 364.9h0M325.6 370.7h0M317.2 362.8h0M322.7 378.4h0M322.2 380.7h0M324.5 382.5h0M328.7 338.9h0M326.3 354.2h0M328.2 386.6h0M318.6 372.1h0M330.6 348.3h0M322 373.6h0M325.6 352.2h0M328.9 373.2h0M327 368.5h0M331.3 339.9h0M324.6 343.7h0M323.7 353.7h0M325.7 381.1h0M325.6 366.7h0M323 384.7h0M323.3 378.3h0M323.8 363.8h0M323 371.8h0M322.2 385.8h0M320.4 342.7h0M323.4 324h0M322.6 345.9h0M321.7 354.4h0M322 322h0M326.2 381.9h0M328.4 379.6h0M329.1 345.1h0M324.6 350.8h0M325.6 358h0M325.5 354.7h0M328 382.9h0M328 356.5h0M320.7 322.7h0M330.4 334.6h0M323.3 341.6h0M327.7 344.2h0M327.7 362.3h0M328.8 344.6h0M327.5 330.5h0M331.2 362.7h0M324.8 328.4h0M330.6 358.7h0M324.4 340.7h0M321.1 381.2h0M331 344.9h0M318.4 332.1h0M322 385h0M320.8 369.4h0M318.4 380.9h0M329.9 355.7h0M324.2 382.7h0M322.1 383.9h0M321.5 345.1h0M320.5 330.8h0M327.8 342.6h0M325.6 371.5h0M323.8 370.6h0M319.2 351.7h0M321.7 348.5h0M326 345.1h0M323.6 382.3h0M329.9 341.6h0M320.3 369.1h0M321.2 364.4h0M322.9 330.4h0M322.9 369.8h0M320 344.6h0M318.7 360.4h0M325.4 359.7h0M319.6 365.1h0M328.9 374.6h0M327.3 320.6h0M320.9 372.6h0M328.3 344.4h0M317.9 342h0M326.2 327.3h0M318.5 336.5h0M328.9 330h0M323.6 345.9h0M325 357.1h0M321.8 330.7h0M326.5 385.2h0M317.6 352.8h0M318 371.7h0M323.2 362.8h0M324 334.6h0M322.7 348.4h0M317.2 349.5h0M323.3 385.5h0M328.3 327.2h0M319.1 324h0M320.8 382.8h0M327.4 340.8h0M322.6 322.6h0M324.9 325.9h0M329.9 354.1h0M325.1 368.3h0M330.6 366.5h0M321.3 385.4h0M326.6 369.8h0M319.1 342.4h0M318.8 349.6h0M323.1 353.7h0M324.5 365.9h0M318.9 342.2h0M326.2 360.7h0M318.8 343.9h0M321.7 344.5h0M321.7 335.3h0M322.7 352.3h0M327.5 378h0M329.8 333.3h0M319.1 376.7h0M327.8 321.3h0M325.1 330.8h0M319.5 326.6h0M327.7 354.3h0M329.4 356.1h0M319.4 325.8h0M320.9 320h0M326.2 338.7h0M318.1 349.8h0M331 342.9h0M324 331.4h0M327 356.2h0M326.9 326.6h0M319.7 350.4h0M323.3 386h0M322.5 326.2h0M325.8 347.6h0M329.4 362.6h0M326.1 332.6h0M324.6 373.2h0M320.6 376.2h0M325.8 358.2h0M321.9 328.3h0M319 356.3h0M322.3 368h0M317.3 352.7h0M317 359.9h0M325.8 333.3h0M322.3 331.6h0M325 339.6h0M330.6 345.3h0M323 363.2h0M322.9 327h0M324.7 356.4h0M323 374.9h0M320.5 332.2h0M321.6 351.6h0M325.6 360.6h0M327 335h0M320.8 360.3h0M325.6 326.6h0M329.2 349.4h0M322.4 377h0M323.9 346.4h0M317.4 338.5h0M326.5 363.2h0M317.7 370.7h0M321 349.7h0M325.2 325.4h0M322.8 342.9h0M323.4 369.7h0M328.8 385.6h0M325.1 371.3h0M330.5 341h0M323.8 366.9h0M322 376.6h0M320 343.2h0M323.2 340h0M322 365.4h0M322.9 339.1h0M319.8 382h0M328.4 366.5h0M323.8 333.8h0M321 333.6h0M321 336.3h0M328.9 371.8h0M322.6 344.1h0M323.7 358.6h0M327.6 370h0M330.4 341.3h0M318.4 355.3h0M325.3 379.3h0M317.6 356.2h0M320.9 355.4h0M327.5 386.3h0M325.5 369h0M326 346.9h0M326.5 360.1h0M325.7 357.8h0M317 369.7h0M331.1 362.3h0M318.6 332.9h0M317.9 333.9h0M327.9 365.4h0M326.7 329.4h0M326.5 358.8h0M320.9 376.1h0M326.6 325h0M318.4 380.1h0M322.9 333h0M327.7 330h0M321.7 381.6h0M321.8 337.6h0M322.1 343.7h0M331.4 352.1h0M317 340.9h0M321 362.6h0M321.5 350.4h0M324.7 333.7h0M327.7 354.8h0M330 332h0M328.7 344h0M322.5 349.7h0M327.5 321.8h0M321.7 372.7h0M327.6 355.3h0M330.4 372.8h0M328.6 347.2h0M327.9 386.5h0M327.6 350.4h0M328.5 351.3h0M321.1 355.7h0M320.3 347.6h0M331.7 349.2h0M321 336.3h0M322.1 331h0M321.6 343.4h0M329 335.3h0M327.4 347.7h0M317 329.5h0M321.5 380.3h0M319.7 330.4h0M327.6 358.9h0M322.2 364.8h0M329 330.5h0M328.3 329.6h0M329.6 381.8h0M320.1 353.6h0M320.5 322.4h0M319.5 330.6h0M318.3 381.5h0M331 352.6h0M329.3 381.3h0M324.4 330.6h0M325 324.1h0M320.4 364.3h0M317.3 353.7h0M321.9 371.6h0M324.6 320.1h0M320 344.2h0M329.6 374.6h0M317.6 362.2h0M319.8 385.5h0M320.5 384.6h0M329.7 362.7h0M319.5 325h0M323.6 333.7h0M320.9 377h0M330.9 355.7h0M328.4 371.2h0M317.4 353.8h0M322.2 349h0M317.2 354.4h0M325 341.1h0M321.2 367.1h0M328.4 371.4h0M322.5 361.6h0M328.6 365.3h0M322.1 320.3h0M322.6 362.2h0M325.2 344.9h0M321.8 376.3h0M318.8 360.5h0M330.2 368.8h0M325.2 371.3h0M321.4 334h0M317.1 350.5h0M319.3 366.3h0M323.3 366h0M318.9 333.5h0M323 347.1h0M321.9 385.6h0M319.7 321.7h0M325.1 354.7h0M330.5 346h0M319.1 346.4h0M321.6 348h0M330.4 340.4h0M323.6 359.9h0M317.4 362.3h0M322 326.9h0M325.5 333.9h0M317.8 370.8h0M318.7 353.3h0M329.9 330.2h0M320.1 346.6h0M320.3 319.9h0M323.6 329.8h0M327.2 366.6h0M317.1 363.3h0M322.6 369.8h0M321.5 369.5h0M324.7 339h0M329.8 334.1h0M320.5 339.8h0M317.2 333.3h0M319.6 371.7h0M323.6 343.2h0M317.3 336.5h0M328.1 321h0M323.3 362.1h0M328.2 367.7h0M320.7 371.6h0M326 387h0M328.4 386.3h0M328.4 386.3h0M326.5 330.7h0M321.3 354.8h0M330.7 353.3h0M321.4 367.2h0M318.4 339.7h0M329.6 353.8h0M324.6 324h0M324.3 370.8h0M326.2 347.3h0M320.3 344.5h0M320.4 349.7h0M321.5 319.9h0M317.9 366.8h0M320.4 362.7h0M322.3 357.5h0M323.1 372.4h0M326.5 335.2h0M325.5 364h0M324 334.3h0M327.9 343h0M326.2 340.6h0M323.4 379.2h0M327.1 382h0M318.3 322.9h0M325.3 361.1h0M320 376.2h0M324.1 320.5h0M322.5 371h0M317.2 330.9h0M321.7 355.9h0M329.2 328.7h0M320.6 340.4h0M319.7 337.3h0M317.4 351.7h0M322.5 376.9h0M318 328.1h0M331.6 353.7h0M328.5 357.5h0M324.4 327.2h0M335.1 303.4h0M330.2 301.7h0M335.4 332.2h0M330.8 332h0M334.6 323.7h0M340.5 278.1h0M338.2 283.5h0M326.8 317.7h0M328 314.9h0M330.2 309.5h0M335.1 307h0M340.4 273.1h0M334.6 295.3h0M329.5 316.8h0M331.2 328.3h0M339.6 303.4h0M323.6 322.7h0M333.9 305.4h0M341.4 276h0M332 312.9h0M335.3 302.5h0M323.9 321.5h0M324.6 323.3h0M336 332h0M334.2 318.4h0M337.8 317.8h0M328.8 308.1h0M335.2 321.6h0M337.9 281.3h0M328.7 327.8h0M339.6 276h0M339.8 293h0M339.7 285.1h0M338.4 277.6h0M343.8 278.5h0M337.2 285.4h0M336.9 280.8h0M331.3 328h0M323.8 321.9h0M343 277h0M336.9 317.3h0M332.9 319.8h0M330.8 297.7h0M335.2 335.4h0M326 314.6h0M340.6 290.5h0M337.4 327.1h0M340.7 298.8h0M340.4 285h0M330.7 323.3h0M333.7 300.2h0M332.8 323.5h0M339.1 282.2h0M333.7 295.1h0M332.6 315.7h0M340.1 293.7h0M334.3 334.8h0M326.5 319.3h0M336.7 331.3h0M329.2 317.4h0M330.7 308.8h0M324.7 323.6h0M335.5 304.8h0M337.1 318.4h0M334.8 308.5h0M336.2 293.1h0M329.5 332.8h0M340.4 284.9h0M338.2 310h0M341.8 285h0M325.5 319.7h0M330.6 311.3h0M329.8 307.2h0M332.6 294h0M338.9 283.8h0M336.8 311.2h0M341.7 302.7h0M329.9 324h0M330.7 304h0M338.2 290.7h0M334.9 320h0M344 289.1h0M344.5 281h0M326.2 311.9h0M341.7 296.5h0M337.9 294.5h0M330.4 332h0M332.6 299.7h0M332.3 322h0M325.6 322h0M335.1 305.2h0M334.4 320.6h0M337.7 293.3h0M323.5 317.2h0M341.2 293.7h0M331.9 311.5h0M334 332h0M328.4 307.8h0M329.5 304.3h0M336.4 332.3h0M343.7 280h0M337.1 315.6h0M342.6 273.9h0M343.1 283h0M339.5 286h0M338.2 308.5h0M337.9 287.5h0M334.8 317.4h0M333.2 333h0M335 288.2h0M328.9 317.2h0M331.3 317.7h0M332.9 292.9h0M340.4 303.4h0M339.1 278.1h0M326.3 313.9h0M340.9 297.2h0M343 283.4h0M334.6 323.5h0M329.7 323h0M337.8 300.3h0M336.1 303.4h0M333.4 324.8h0M333.6 329.2h0M342.3 277.6h0M331.1 302.7h0M326.8 315.4h0M331.4 324.3h0M337.1 322h0M327.8 322.7h0M337.3 311.8h0M341.6 299.5h0M331.1 314.1h0M326 313.8h0M327.7 312.9h0M333 311h0M340.4 309.4h0M330.2 330.3h0M327 314.3h0M337.3 289.5h0M330.8 315.7h0M338.3 313.3h0M330.3 325.9h0M332.6 309.9h0M338.4 301h0M337.7 306h0M339.7 302.7h0M342.5 297.5h0M330 308.2h0M334.4 313.2h0M329.4 318.8h0M324.5 323.3h0M345 283.2h0M337.6 324.2h0M339 278.2h0M332.3 293.9h0M343.3 288.1h0M335.6 300.8h0M339.6 302.5h0M337.9 313.5h0M335.5 335.5h0M326.8 315h0M333.1 307.8h0M334 325.2h0M333.7 305.2h0M330.5 300.6h0M337.5 325.3h0M334.2 332.5h0M340.8 302.3h0M325.3 322.1h0M325.6 326.3h0M334.1 303.2h0M337.5 318.7h0M343.2 284.5h0M336.9 283.2h0M342.5 273.1h0M330.7 313h0M331.3 313.2h0M344.5 284h0M338.3 300.8h0M336.7 325.1h0M337.6 316.9h0M338.1 314.1h0M332.9 305.7h0M332.9 312.5h0M329.9 331.6h0M340.9 287.1h0M336.4 287.1h0M331.4 302.5h0M328.3 330.7h0M343.1 282.2h0M335.7 326.5h0M340.4 301.9h0M338.8 279h0M335.7 322.5h0M338.7 279.5h0M333 333.4h0M342.1 282.1h0M323.5 322.5h0M335.8 307.6h0M338.7 318.5h0M336.1 329.4h0M335.7 318.1h0M329.6 311.1h0M327.3 311.6h0M329.8 332.2h0M330.9 318.8h0M331.6 313.7h0M336.9 313h0M333.4 308.5h0M327.9 318.4h0M330.9 327.2h0M336.7 282.4h0M324 322.1h0M331.2 318h0M329.7 318.4h0M337.7 278.8h0M341 271.8h0M337.1 308.7h0M331.2 318.5h0M323.5 321.6h0M337.1 295.3h0M333.6 319.2h0M344.6 284.7h0M337.1 292.3h0M341.8 282.8h0M339.8 308.5h0M343.2 273.4h0M341.9 292.3h0M331.2 302.3h0M335.8 315.8h0M344 279.7h0M337 297.1h0M335 329.7h0M334.8 303.2h0M334 303.2h0M342.4 270.5h0M342.4 293.4h0M336.9 292.2h0M331.8 325.9h0M325.5 320.5h0M331 315.7h0M339.2 274.8h0M328.5 323.2h0M326.3 313.4h0M334 313.5h0M334.9 326.3h0M333.8 299.8h0M331.4 296.2h0M339 281.2h0M333 300.8h0M332.1 295.6h0M339.2 302.2h0M336 335.6h0M344 280.6h0M333.2 327.1h0M334.1 319.5h0M334.7 301.2h0M342.5 297.6h0M336.6 292.7h0M323.9 322h0M337.3 295h0M339.4 286.5h0M330.6 316.6h0M342.8 290.2h0M331.9 300.9h0M330.9 322.8h0M326.7 319.3h0M343.3 281.5h0M333.1 326.5h0M329.8 324.1h0M337.9 287.8h0M335.3 292.1h0M332 293.8h0M329.9 308.4h0M330.4 304.8h0M331.7 332.5h0M339.8 279.7h0M326.9 324.6h0M331.4 318.6h0M335.4 297.8h0M336.9 329.9h0M337.3 305.8h0M328.8 329.5h0M336.4 319.5h0M339.6 309.2h0M341.9 297.7h0M335.3 285.7h0M330.8 320.1h0M328.5 312h0M343.8 282.9h0M340.2 292.8h0M333.5 302.2h0M336.3 319.6h0M335.1 315.2h0M340.4 274h0M334 299.6h0M341 276.8h0M335.6 291.6h0M335.8 329.6h0M328.2 318.6h0M339.7 285.7h0M338.6 284.3h0M337.7 318.6h0M342.2 288.5h0M339.7 297.5h0M342.6 284.7h0M338.9 277.8h0M333.7 300.4h0M332.3 326.1h0M338.3 315.7h0M335.7 291h0M336 321.4h0M331.5 311h0M337.7 280.9h0M333.1 318.5h0M333.7 296.9h0M340 287h0M333.2 310.9h0M332.6 307.5h0M336.1 326.4h0M333.8 320.1h0M334.2 291.7h0M338.8 280.9h0M339.6 286.6h0M331.3 320.4h0M330.4 332.7h0M329 305.6h0M334.2 301.3h0M334.5 314.8h0M342.9 275.8h0M329.1 304.4h0M331.6 321.1h0M331 319.1h0M336.6 321.7h0M339.3 313.3h0M334.1 307.1h0M331.4 323.8h0M333.8 298.8h0M333.8 318.1h0M344.2 295.1h0M342 362.2h0M351.5 323.4h0M345.7 352h0M340.1 338.2h0M345.6 363.1h0M355.4 334.3h0M346.8 313.4h0M335.8 304.5h0M329.2 323.3h0M353.2 367.7h0M339.1 312.1h0M353.3 310.9h0M357.9 350.7h0M348 317.3h0M346.9 307.9h0M365.8 329.7h0M364.9 305.4h0M368.8 318.1h0M348.5 344.3h0M360.7 366.2h0M351 304.6h0M365.2 325.7h0M338.2 297.3h0M334 378h0M336.5 379h0M339 380.5h0M344.3 371h0M346 283h0M348.5 287h0M350 291h0M352.5 293h0M354 296.5h0M347 292h0M364 312h0M366 318h0M363 326h0M367 341h0M361 356h0M357 345h0M352 362h0" stroke="#fc8d59" stroke-width="2.6" stroke-linecap="round"/>
<path d="M442.3 382.4h0M442.3 382.6h0M431.7 378.3h0M433 380.3h0M435.6 378.2h0M427.8 375.4h0M443.3 383.4h0M430.2 376.5h0M432.9 378.2h0M432.1 376.1h0M442.3 381.4h0M435.4 380h0M445.5 379.5h0M430.1 377.2h0M428.7 373.2h0M438.1 383.1h0M444.7 384.6h0M435.2 380.9h0M441.5 383.7h0M439.3 379.7h0M426 375h0M437.7 379h0M434.1 379.2h0M435.6 378.8h0M428.3 376.6h0M427.3 374.9h0M433.3 378.3h0M427.6 374.6h0M426.9 374.7h0M435.3 378.1h0M430.7 376.7h0M428.5 376.6h0M443.1 383.7h0M427.2 374.5h0M436.2 380.4h0M438.5 379.4h0M427.5 377.4h0M434.3 378.6h0M439.1 379.7h0M436.6 379.4h0M430.8 378h0M428.3 376h0M441.4 382.3h0M442.9 382.3h0M430.8 379.8h0M428.5 374.4h0M432.6 374.9h0M406.3 368.1h0M423.5 368.9h0M419 371.9h0M409.5 368.4h0M422.8 371.2h0M437.5 376.8h0M421.7 372.4h0M414.1 365h0M429.4 373h0M406.6 362.2h0M430.7 376.2h0M421.6 369.1h0M411.6 366.7h0M426.4 368.5h0M435.7 375.8h0M428.1 376.5h0M434 377.4h0M414.5 371.9h0M435.3 370.4h0M411.8 361.1h0M409 370.6h0M410.8 368.2h0M413.9 365.2h0M423.9 374.5h0M412.7 369.2h0M437.9 379h0M380.4 326h0M393.5 362h0M386 375h0M384 378h0M397 366h0" stroke="#8fd18b" stroke-width="2.6" stroke-linecap="round"/>
<path d="M537.3 373.5h0M540 336.3h0M532 326h0M535.4 366.5h0M539.2 369.6h0M539 337h0M538.7 359.9h0M531 343.3h0M536.8 344.4h0M533.6 375.1h0M538.8 349.9h0M536.9 326.3h0M534 347.5h0M530.4 371.2h0M533.6 358.3h0M538.6 342h0M537.9 352.1h0M535.7 379.1h0M530.3 340.8h0M527.9 358.5h0M538.9 338.3h0M529.9 368.6h0M539 364.7h0M530.2 377.2h0M532.5 367.3h0M533 383.3h0M537.6 357.9h0M530.2 370.9h0M531.6 374.6h0M530.7 360.3h0M528.4 373.8h0M533.2 325.7h0M538 325.9h0M539.1 363.1h0M528.4 374.9h0M531.2 337.2h0M539.8 345h0M529.9 334.6h0M536.2 325.3h0M537.4 363.3h0M534.3 361.3h0M533.7 329.3h0M535.6 321.8h0M531.8 342.3h0M535 328.9h0M529.6 383.6h0M536.8 349.2h0M541 343.9h0M540.5 331.1h0M530.1 334.6h0M532.1 323.7h0M537.3 377.7h0M537.7 341.2h0M531.2 355.2h0M539.8 335.7h0M536.8 380.7h0M538.9 359.7h0M528.9 328.8h0M532.8 373.7h0M533.8 342.5h0M534.3 330.2h0M530 344h0M533 332.9h0M535.3 374.6h0M538.1 323.1h0M535.6 351.5h0M527.6 348.9h0M535.8 331h0M538.9 334.9h0M530.3 355.2h0M533 326.7h0M529.2 382.6h0M537.1 359.6h0M536.2 371.3h0M532.6 371.6h0M531.9 331.9h0M538.8 332.7h0M532.7 370.1h0M542 352.2h0M539.4 328.6h0M537.9 350.8h0M529.6 375.7h0M535.8 344.8h0M535.3 354h0M530.4 357.3h0M532.2 330.4h0M536.7 361h0M533.9 342h0M538.9 382h0M533.8 344.1h0M532.1 343.1h0M536.4 377.1h0M529 364.5h0M535.6 382.1h0M530.8 336h0M535.3 359.2h0M533.8 335.3h0M527.4 318.5h0M537.7 379.7h0M530.9 383.7h0M527.6 354.9h0M534.4 322.7h0M531.4 383.1h0M538.3 318.5h0M536.6 333.6h0M533 379.3h0M529.8 381.1h0M532.2 372.3h0M540.5 354.4h0M535.9 342.6h0M533.9 321.7h0M540.2 374h0M541.3 344.3h0M530.8 335.4h0M537.7 328h0M531.5 369h0M534.7 355.4h0M532.6 334.2h0M537.6 348.4h0M540.2 370h0M531.5 319.9h0M536 327.5h0M532.2 333.8h0M539.5 341.7h0M531 366.7h0M530.7 338.4h0M534.1 344.8h0M535.9 321.9h0M537.1 333.1h0M527.7 349.4h0M533.3 345h0M533.6 325.9h0M533.2 381.4h0M538.5 333.3h0M532.6 368.5h0M529.2 358h0M531.3 340.8h0M527.7 319.8h0M531.1 368.2h0M535 376.4h0M527 369.7h0M535.9 372.2h0M532.2 376.7h0M535 371h0M529.1 384.9h0M534.7 375.6h0M530.5 326.4h0M527.7 372.7h0M528.6 341.7h0M530.2 339h0M538.6 328h0M532.2 383.3h0M533.3 350.5h0M536.9 362.7h0M529.5 374.9h0M531.8 367.2h0M533 328.6h0M530.1 382.6h0M536.6 326.5h0M540.3 339.7h0M537 328.6h0M539.7 377h0M530.4 364.8h0M535.6 360.4h0M529.7 342.2h0M539.7 352.7h0M531.6 351.3h0M538.2 329.7h0M529.8 354.4h0M531.1 339.8h0M528.1 351.5h0M535.4 339.3h0M534.9 360.6h0M529 383.3h0M531.5 342.5h0M536.2 377.7h0M530.1 342.7h0M536.5 324.6h0M539.6 353.9h0M529.2 373.6h0M534.1 350.7h0M531 350.3h0M530.2 368.5h0M538.1 375.8h0M538.4 326.8h0M533.2 342h0M538.5 352h0M527.2 332.9h0M530.3 331.3h0M540.4 366.9h0M527.2 332.4h0M541.1 362.2h0M528.1 331.4h0M535.9 323.7h0M532.8 320.6h0M533.7 323.1h0M533.2 363.6h0M535.3 353.1h0M536.9 345.4h0M534.2 359.1h0M529.4 357.3h0M530.7 362.2h0M531.7 342.1h0M535.3 372.7h0M533.2 372.2h0M530.8 373.8h0M535.9 375.3h0M533.7 350.4h0M532.7 364.1h0M539.4 338.3h0M531.6 366.5h0M535.3 383h0M533.4 332.6h0M530.5 372.9h0M540.6 348h0M537.3 327.4h0M537.7 376.3h0M534.5 369.9h0M535.3 348.2h0M536 366.7h0M531.5 343.6h0M538.5 341.8h0M530.3 352.5h0M528.8 362.2h0M534.2 317.5h0M532.7 385.2h0M528.3 343.6h0M527.9 369.9h0M527.5 358.6h0M532.1 335.8h0M539.2 320.7h0M536.6 323.1h0M530.3 348.8h0M530.4 337h0M539.8 338.8h0M527.8 375.7h0M540.8 351.7h0M535.6 368.6h0M535.5 339.6h0M532.3 326.1h0M537.7 333.9h0M531.1 343.6h0M528.1 344.2h0M536.7 343.4h0M540.5 331h0M534.2 364.7h0M533.1 367h0M535.5 379.8h0M527.3 341.8h0M530.2 346.2h0M536.7 331.1h0M529.2 368.8h0M528.3 339.6h0M538.5 376.5h0M535.3 345.4h0M540.9 362.8h0M528.3 337.3h0M537.5 368.8h0M534.7 344.1h0M534.6 328.9h0M533.6 364.1h0M530.4 351h0M539.1 356.9h0M536.2 324.3h0M536.8 381.9h0M535.4 332.8h0M536.3 351.4h0M536.1 342.8h0M537 372.8h0M530.1 318.1h0M533.9 343.8h0M539.5 374.2h0M539.7 321.1h0M527.2 358.6h0M531.4 330.7h0M531.3 347.2h0M529.4 374.9h0M536 344h0M528.3 337.6h0M530.4 351.4h0M538.1 320.2h0M541.9 345.4h0M529.1 317.4h0M539 371.1h0M535 334.7h0M534.4 382.4h0M534.7 370.6h0M536.5 318.7h0M534.8 345.7h0M527.5 354.4h0M534.9 328.5h0M542.2 345.2h0M528.5 370h0M541 334.2h0M529.8 377.9h0M529.5 357h0M531.4 348.2h0M535.9 320.9h0M542.2 348.1h0M540.3 366.2h0M532.6 367.9h0M533.8 334.1h0M535.5 343.7h0M534.4 334.1h0M537.2 333.5h0M533.2 380.1h0M528.1 319.1h0M529 339h0M536.3 365.4h0M536.8 378.4h0M534.4 320.3h0M532.4 345h0M534.6 376h0M527.6 330.1h0M536.1 356.4h0M537 324.3h0M540.2 360.3h0M533 335.3h0M535.2 384.4h0M530.9 341.9h0M538.3 339.5h0M534.3 355.6h0M529.6 333.3h0M534.7 367.5h0M538.3 374.9h0M538.1 384.6h0M534.9 359.6h0M539.1 360.4h0M538.2 334.3h0M535 337.2h0M531.8 343.8h0M530.3 375.1h0M532.6 342.9h0M530.6 366.4h0M537.6 379.5h0M527.3 356.1h0M529.4 376.9h0M529.3 318.1h0M540.1 348.7h0M527.2 365.3h0M530.2 337.1h0M537.4 381.9h0M533.4 349h0M537.6 376.4h0M536.9 328.9h0M539.5 357.6h0M528 368.1h0M533.4 373.4h0M534.4 360.2h0M534.2 350.7h0M537.2 324.3h0M529.7 341.6h0M533.3 363.1h0M540.2 327.4h0M539 369.6h0M527.4 362.1h0M527.4 352.7h0M536.3 373.8h0M532.3 379.9h0M529.4 350.9h0M534.6 330.7h0M536.1 342h0M539.7 338.9h0M528.9 356.7h0M528.1 337.7h0M541.2 348h0M542.1 349.3h0M538.1 336.5h0M529.3 360.7h0M531.8 333.9h0M535.5 373h0M529.2 352.3h0M533.3 339.7h0M539.9 370.6h0M536.8 369.8h0M535.9 381.3h0M530.8 378.9h0M537.7 335.3h0M538.9 342.3h0M539.1 336.6h0M529.5 344.6h0M532 378.2h0M541.1 354.8h0M533.7 329.9h0M533.3 346.6h0M541.8 343.1h0M535.3 326.9h0M541 341.4h0M534 324.1h0M537.6 336.3h0M532.4 339.9h0M532.8 317.2h0M536 322.9h0M538.3 330.4h0M536.7 359.7h0M532.1 359h0M540.5 331.1h0M530.5 385.1h0M536.7 352.9h0M540 367.8h0M529.6 356.6h0M536.8 332.2h0M533.8 325.8h0M529.4 369.5h0M530.1 353.8h0M538.5 335.3h0M538.2 324.1h0M530.8 350.6h0M533.1 336.2h0M532.1 378h0M536.4 385.2h0M538.1 371.5h0M534.8 358.9h0M532.2 383.4h0M539.1 356.5h0M535.9 345.5h0M533.3 343.1h0M529.8 351.1h0M528 319h0M538 357.5h0M534.2 356.6h0M530.2 382.4h0M539.1 367.8h0M538.6 348.4h0M540.2 341.5h0M529 341.7h0M539.4 322.3h0M529.5 333.7h0M528 341h0M535.2 334.6h0M540.2 328.5h0M537.9 320.1h0M534.7 371h0M532 365.7h0M529.9 329.1h0M534.7 331.9h0M533.9 321.5h0M534.9 323.1h0M537.2 357.6h0M531.7 357.7h0M532 330.2h0M527.7 372.4h0M539.2 372.1h0M532.7 378.9h0M532.8 376h0M536.2 321.6h0M533.5 354.2h0M539.7 343.4h0M535.3 337.1h0M538.9 344.2h0M530.6 347.2h0M535.1 350.9h0M538.3 383.2h0M531.8 345.5h0M529.2 343.1h0M537.6 347.6h0M539 335.4h0M528.1 347.2h0M527.2 346.7h0M539.1 360.6h0M540.3 338.3h0M531.7 319.6h0M529.3 376.1h0M528.4 376.5h0M536.8 382.6h0M535.6 353.4h0M527.8 352.8h0M536.4 354.4h0M538 363.9h0M528.2 331.3h0M537.8 355.7h0M534.9 381.3h0M536.5 329h0M542.3 342.9h0M532.6 360.4h0M529.3 368.5h0M532.6 343.6h0M528 349.4h0M531.4 320.3h0M540.1 342.5h0M531.2 352h0M528.9 337.6h0M534.2 371.5h0M537.9 326.4h0M535.2 320.5h0M533.8 350.9h0M537.1 363.2h0M532.7 384.3h0M527.7 372.3h0M539.9 335.1h0M530.1 382.1h0M535.1 349.8h0M539.5 334.2h0M535.6 327.6h0M535.9 366h0M530.7 365h0M531.9 330.1h0M541.7 354.4h0M528 317.9h0M540.6 336.3h0M529.4 383.4h0M527.7 319.2h0M534.2 378.3h0M532.5 374.9h0M538.4 347.1h0M541.6 352.3h0M527.8 338.3h0M537.4 327.6h0M531.5 368.4h0M538.4 376.2h0M536.1 351.8h0M530.5 317.9h0M539.2 348.6h0M529.7 385.9h0M530.5 355h0M541.1 354.2h0M529.4 338.8h0M533.5 344.1h0M527.7 360.1h0M534.3 376h0M532.4 336.2h0M527.3 367.7h0M531.8 324.4h0M531.3 324.1h0M537.9 366.5h0M531.1 321.5h0M531.9 340.5h0M527.9 328.3h0M529.6 383.9h0M530.3 384.6h0M530.4 381.7h0M538.3 329.4h0M535.6 367h0M530.7 355.9h0M537.6 348.3h0M540.3 325.3h0M535 335.2h0M535.4 377.9h0M541.1 336.2h0M527.1 356.4h0M528.7 323.2h0M527.9 361.2h0M534.5 354.9h0M539.6 325.6h0M532.6 375h0M534.5 364.5h0M540.9 362.1h0M538.4 340.1h0M537.8 320.9h0M532.3 327.3h0M528.2 373.4h0M527.8 320.1h0M539.2 327.9h0M540.9 332.1h0M533.6 366.7h0M539 360.4h0M539.3 321.1h0M538.4 382.8h0M528.6 329.7h0M531.1 350.2h0M530.9 338.3h0M534.5 363.1h0M535 370.8h0M541.3 352h0M528.7 350.4h0M534.4 381.4h0M530.9 331.9h0M536.9 333.8h0M537.1 365.3h0M534.2 320.3h0M538.3 371.8h0M537.2 335.2h0M532.9 381h0M527.9 347.4h0M531 362.5h0M538.8 320.2h0M527.9 326.9h0M533.5 346.5h0M533.1 361.5h0M534.2 376.1h0M535 354.7h0M533.9 363.6h0M534.1 360.9h0M536.7 368.4h0M540.2 330h0M528.5 323h0M540.9 346h0M537.2 376.7h0M527.8 367.6h0M529.9 358.8h0M532.7 380.5h0M533.3 352.8h0M531.7 382.9h0M530.3 317.6h0M529.4 376.2h0M529.5 326.7h0M538.1 380.7h0M536.3 344.9h0M534.6 331.7h0M528.1 331.6h0M538.6 358.6h0M530.8 374.1h0M538.6 372.8h0M539.9 372.8h0M527.8 340.4h0M540.2 365.4h0M539.5 363.1h0M535.4 373.9h0M535.8 366.8h0M539.9 365.4h0M529.6 378.7h0M539.3 355.5h0M538.6 332.2h0M531.8 354.6h0M539.2 352.6h0M529.7 359.8h0M531.2 320.8h0M535.1 355.2h0M528 336.9h0M540.9 370.9h0M528.2 329.8h0M536.3 357.8h0M538.5 321.9h0M537.4 368.6h0M527.8 335.7h0M530.1 331.4h0M532.4 335.6h0M528.3 332.4h0M542 351h0M528.9 339.4h0M527.3 360.7h0M530.4 376.3h0M529.6 322.7h0M536.4 365.2h0M531.4 380h0M538.4 339.4h0M527.5 367.2h0M534.5 329.9h0M528.1 352.4h0M532.2 336.7h0M530.2 333.5h0M530.8 353.6h0M529.4 354.7h0M531.4 326.4h0M531.3 381.5h0M535.2 365.4h0M536.2 338.8h0M534.1 366.1h0M530.2 355.3h0M529 345.1h0M527.5 370.3h0M540.1 343.6h0M528 330.2h0M539.6 338.3h0M539.6 373.5h0M533 353.8h0M538.5 353.9h0M532.2 323.8h0M540.1 368.3h0M532.1 316.8h0M530.9 345.4h0M530.7 370h0M528.4 358.9h0M528.9 327.2h0M532.2 359.3h0M537.7 342.4h0M531.3 342.2h0M534.6 359.8h0M535.9 362.7h0M540 338h0M536.9 355.6h0M537 358.8h0M540.2 370.6h0M535.5 320.4h0M532.4 373.1h0M541.3 359.4h0M537.7 328.5h0M542.2 343.3h0M533.6 377.9h0M541 349.3h0M536.8 361.3h0M537 329.9h0M531.2 345.4h0M530.6 321.6h0M534.9 337.1h0M528.2 361.4h0M527.2 369.9h0M533.5 377.7h0M532.3 354.8h0M535.6 344.1h0M532.9 369h0M530.8 338h0M541.4 334.9h0M528.2 374.5h0M530 331.9h0M528.3 349.3h0M535.2 384.9h0M536.9 327.1h0M531.2 350.1h0M532.7 362.3h0M544.2 327.5h0M542.9 308.4h0M540.6 324.4h0M550.9 294.4h0M542.3 321h0M551.5 290.3h0M542.4 307.1h0M548.4 291.3h0M542.6 301.8h0M540.9 311.3h0M546.6 319.7h0M547.1 295.2h0M548.5 323.4h0M543 300.5h0M551 276h0M538.3 318.2h0M548.1 304.4h0M552.4 272.5h0M538.7 308.1h0M551.6 302.4h0M544.9 293.8h0M550.7 275.7h0M546.6 323.6h0M537.2 317.3h0M545 315.9h0M539.8 327.4h0M543.7 295.5h0M545.2 323.7h0M548.9 277.9h0M537.9 318.2h0M551.4 277.8h0M543.3 298.2h0M552.3 282.9h0M552.7 274.8h0M536.3 311.7h0M540.4 306.7h0M549.9 297.1h0M548 291.9h0M544.6 305.7h0M534.7 318.7h0M552.7 268h0M550.5 301.1h0M543.4 296.7h0M552 291.7h0M547.9 284.4h0M547.2 298.4h0M552.2 287h0M555.1 282.4h0M549.6 310.3h0M546.7 282.4h0M535.4 314.4h0M540.7 317.5h0M550 299.2h0M549.1 290.1h0M548.8 286.9h0M541.2 317.7h0M538.8 324.4h0M542.2 325.3h0M550.7 280.5h0M535.9 317.8h0M542.3 295.6h0M537.1 311.6h0M540 321.5h0M553.8 288.9h0M538.9 309.7h0M549.6 287.8h0M546.1 292.6h0M538.5 325.9h0M547.1 317.4h0M550 317.3h0M548 306h0M546.6 283.2h0M541.5 326.3h0M548 280.8h0M550.3 284.4h0M545 306.4h0M552.4 278.8h0M542 316.7h0M548.4 299.7h0M541.5 317.8h0M548 305.4h0M549.7 288.7h0M546.6 304.3h0M551.1 282.8h0M550.5 277.4h0M538.8 326.3h0M550.2 281.6h0M548.5 314.3h0M549.5 287.3h0M549.4 316.2h0M553.7 279.5h0M552.2 303.2h0M554.1 272.2h0M540.8 324.5h0M548.6 317.7h0M541.8 330.3h0M548.6 275.9h0M542 329.6h0M541 307.1h0M549.7 282.6h0M543.8 328.1h0M542.5 327h0M554.2 276.6h0M548.5 318.8h0M548.5 299.3h0M550.7 308.1h0M551.1 299.1h0M544.6 325.1h0M546.7 306.8h0M538.7 306.4h0M545.1 290.7h0M552.2 295.8h0M547.8 290.6h0M545.8 304.9h0M552 268.8h0M544.3 323.1h0M548.3 277.7h0M540.2 324.8h0M547.8 304.8h0M547.8 290.9h0M552.8 296.9h0M545.2 303.2h0M539.4 318.5h0M541.9 295.8h0M547.1 293.3h0M553.4 277.1h0M547.2 325.1h0M545.9 286h0M554.6 279h0M545.2 295.2h0M541.3 307.6h0M552 306.1h0M552.2 288.8h0M551.3 311.3h0M540 312.5h0M545 326.3h0M545.5 305.4h0M538.6 304.8h0M542.6 299.3h0M542.5 314.2h0M547.9 312.9h0M542.2 307.5h0M544.5 298.3h0M540.7 326.6h0M553.3 293.5h0M550.8 290.8h0M541.5 314.8h0M546.8 295.6h0M552.5 292.2h0M538.7 316.7h0M543.5 300.9h0M548.4 283h0M548.2 311.2h0M554.8 281.1h0M549.3 305.4h0M535.1 318.2h0M549.1 321.3h0M541.7 308.9h0M550.7 289.4h0M540.9 304.8h0M554.1 279.8h0M554 279.2h0M553.2 292h0M551.1 287.1h0M544 310.9h0M547.2 281.7h0M543.3 330.1h0M547 308.4h0M555.5 276.2h0M536.6 312.3h0M540.1 323.5h0M540.8 323.4h0M554.9 280.8h0M542.8 325.8h0M547.7 279.4h0M542.5 297.5h0M544.9 293.9h0M546.1 296.7h0M550.4 281.7h0M542.6 329.9h0M542.6 306.1h0M549.6 280.8h0M539.1 311.7h0M547.6 298.3h0M543 320.7h0M543.3 303.1h0M540.7 324.3h0M548.9 284.5h0M550.9 289.7h0M544.3 291.5h0M552.3 273.6h0M541.4 323.8h0M539 323h0M540.6 317.9h0M550.9 301.8h0M553.7 292.2h0M546.2 313.6h0M546.8 283h0M553.1 282.9h0M550.9 279.5h0M554.8 274.9h0M550.1 272.7h0M551.6 299.4h0M549.9 279.6h0M540.8 321.2h0M550.2 314.7h0M539 305.3h0M546.7 303.3h0M546.4 286.3h0M536.4 319.3h0M544.4 293.9h0M538.4 323.9h0M552.1 305.2h0M548 292.7h0M545.9 301.1h0M554.1 283.1h0M553.2 296.5h0M548.3 322.6h0M546 322.5h0M535.8 320h0M552.1 288.1h0M549.9 307.9h0M539.5 317.8h0M539.4 324.8h0M543.3 326.4h0M542.1 317.5h0M547.8 286.6h0M537.6 317.3h0M539.5 302.7h0M540.4 326.9h0M545.2 311.6h0M548.1 304h0M546.3 322.9h0M548.2 318.4h0M547.5 283.6h0M550 282.9h0M536.5 318.8h0M542.7 326.8h0M537.3 313.8h0M548.6 320.7h0M549.2 322.7h0M536.2 317.2h0M549 320.6h0M550.2 297.1h0M551.8 269h0M543.9 324.5h0M540.3 312.6h0M551.6 279h0M552.8 287.5h0M544.3 326.3h0M542.7 294.5h0M539.4 326.5h0M544.6 313.1h0M541.1 310.2h0M541.7 298.4h0M543 306.6h0M546.8 293.5h0M552.4 284.8h0M544.9 308.9h0M552.1 274h0M550 281.1h0M540.7 326.7h0M541.7 306.1h0M547.4 279.8h0M541.4 321.2h0M553.8 274.5h0M541.6 296.3h0M543 311.2h0M554.5 272.7h0M538.2 311.8h0M544 326.1h0M545.2 295.6h0M550.7 295.1h0M547.1 317.7h0M540.7 325.9h0M544.8 294.3h0M542.7 326.5h0M549.4 310h0M546.8 310.6h0M550.7 292.7h0M540.3 307.3h0M551.7 282.2h0M543.8 324.5h0M555.1 277.5h0M549.4 296.3h0M552.1 303.5h0M543.6 324h0M551.3 280.1h0M540.6 311.4h0M545.9 290.7h0M553 289.5h0M543.9 297.7h0M543.3 293.1h0M545.4 287.8h0M541.1 312.1h0M539.6 308.2h0M548.8 278.1h0M539.2 312.9h0M547 287.1h0M549.6 275.6h0M548.7 321.1h0M538.7 309.3h0M548.5 310.4h0M546.4 307.2h0M551.9 302.3h0M542.2 312.8h0M551.3 287.3h0M537.8 318.8h0M536.1 321.2h0M543.1 329.5h0M537.2 315.6h0M548.7 310.5h0M539.8 310.6h0M540.2 317.1h0M550.9 285.2h0M549.3 315.3h0M545.7 320.1h0M539.3 321.2h0M554.7 274.9h0M550.9 280.9h0M545.7 295.3h0M554.1 284h0M547 298.3h0M539.4 304.5h0M544.4 290h0M541.7 301.2h0M541.4 317.4h0M543.2 299.2h0M540.5 325.8h0M551.6 289.9h0M538.6 307.5h0M538.6 320h0M546.3 296.4h0M535.8 314.8h0M554.3 287.1h0M540.8 320.9h0M539.3 325.3h0M540.7 310.2h0M550.6 270.1h0M550.1 287.5h0M575.4 334.5h0M555 293.1h0M575.6 369.7h0M573.7 350h0M564.5 326.8h0M554.4 348.7h0M561.6 347h0M563.3 334.4h0M572 336.1h0M560.2 335.4h0M549.1 330.4h0M545.7 340.5h0M560.8 338h0M572.9 302.7h0M556.9 338.6h0M557.7 319.4h0M561.7 373.2h0M572.9 327.4h0M546.8 341.4h0M557.1 321.5h0M549.4 302.4h0M570.9 318.2h0M560.6 343h0M574.8 304h0M581.6 330.2h0M559 342.1h0M544.8 319.6h0M563.5 321.8h0M555.5 343.3h0M563.3 319h0M545 375h0M547.5 376.5h0M550 377.5h0M555 368h0M557 281h0M559 285h0M561 289h0M563 293h0M566 300h0M568 310h0M572 318h0" stroke="#fc8d59" stroke-width="2.6" stroke-linecap="round"/>
<path d="M653.2 381h0M646 376.8h0M653.3 380.8h0M645.5 375.4h0M641.5 375h0M655.6 382.2h0M647.9 378.5h0M639.7 375.3h0M638.4 374.5h0M655.7 381.3h0M644.8 378.9h0M655.5 380.7h0M643.5 376.1h0M652.9 380.4h0M656.5 383.4h0M652.1 381.1h0M657 382.3h0M642.4 376h0M641.2 377.4h0M642.7 378.5h0M639 375.1h0M641.1 375.1h0M639.8 375.9h0M647.3 380.8h0M644.8 377h0M642.2 377.1h0M649.4 378.5h0M644.3 377.4h0M641.5 377.3h0M655.1 382.6h0M653.9 380.7h0M641.4 375.9h0M653.2 380.9h0M655.4 383h0M651.6 379.3h0M647.2 378.6h0M648.9 380.8h0M654.3 383.3h0M640.8 376.4h0M637.4 376h0M639.6 376.1h0M654.7 382.8h0M639.6 377.7h0M656 381.7h0M653.5 382.5h0M629.3 370.5h0M626.5 372.3h0M630.8 371h0M617.6 362.6h0M645.7 377.5h0M625.9 371.3h0M650.7 375.7h0M621.6 368.4h0M617.2 363.8h0M632.1 371.7h0M620.1 367.5h0M628.1 367h0M639.8 370.6h0M620.6 371.8h0M647.7 380.9h0M644.8 379.3h0M636.6 373.7h0M636.1 373.1h0M628.9 371h0M621.6 365.9h0M633.8 371.4h0M650.7 379.5h0M621.3 367.8h0M640.7 373.8h0M640.9 373.3h0M628.2 372.9h0M643.5 374.7h0M624.5 366.1h0M591.9 325.5h0M605 361.5h0M597.5 374.5h0M595.5 377.5h0M608.5 365.5h0" stroke="#8fd18b" stroke-width="2.6" stroke-linecap="round"/>
<text x="301.8" y="473.9" font-family="'Liberation Sans', sans-serif" font-size="17" fill="#000" font-weight="bold" textLength="131.8" lengthAdjust="spacingAndGlyphs" stroke="#000" stroke-width="0.4">electrophysiology</text>
<text x="531.4" y="474.6" font-family="'Liberation Sans', sans-serif" font-size="17" fill="#000" font-weight="bold" textLength="115.2" lengthAdjust="spacingAndGlyphs" stroke="#000" stroke-width="0.4">transcriptomics</text>
<circle cx="638" cy="235.9" r="4.6" fill="#ed7d31" stroke="#333" stroke-width="0.7"/>
<circle cx="638" cy="253.7" r="4.6" fill="#70ad47" stroke="#333" stroke-width="0.7"/>
<text x="645.6" y="240.7" font-family="'Liberation Sans', sans-serif" font-size="12.5" fill="#111" textLength="41" lengthAdjust="spacingAndGlyphs">Aspiny</text>
<text x="645.6" y="258.4" font-family="'Liberation Sans', sans-serif" font-size="12.5" fill="#111" textLength="31.3" lengthAdjust="spacingAndGlyphs">Spiny</text>
</svg></body></html>
